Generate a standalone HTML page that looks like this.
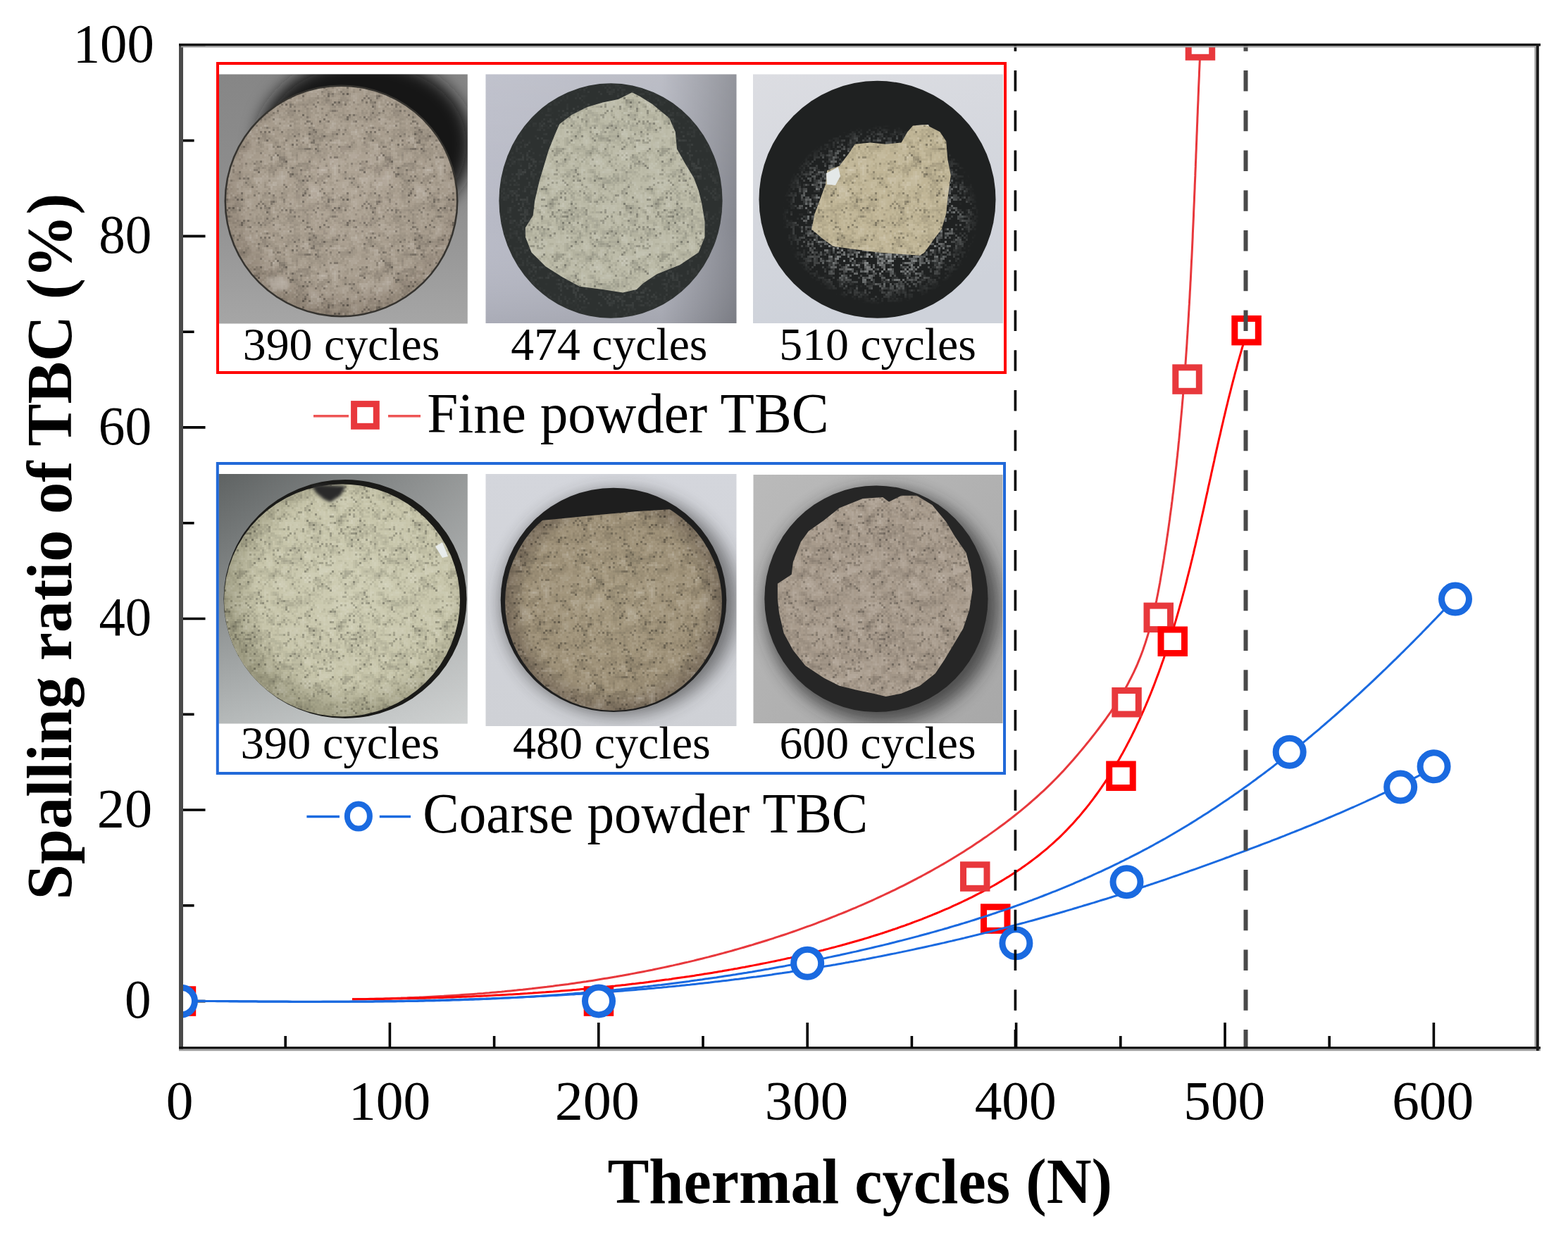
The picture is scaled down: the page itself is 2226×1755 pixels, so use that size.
<!DOCTYPE html>
<html><head><meta charset="utf-8"><title>Spalling ratio of TBC vs thermal cycles</title>
<style>
html,body{margin:0;padding:0;background:#fff;}
body{width:2226px;height:1755px;overflow:hidden;}
svg{display:block;}
text{font-family:"Liberation Serif","Times New Roman",serif;fill:#000;}
</style></head><body>
<svg xmlns="http://www.w3.org/2000/svg" width="2226" height="1755" viewBox="0 0 2226 1755">
<defs>
<clipPath id="plot"><rect x="259" y="66" width="1922" height="1420"/></clipPath>
<clipPath id="ph1"><rect x="310.5" y="105.5" width="353.3" height="354"/></clipPath>
<clipPath id="ph2"><rect x="689.5" y="105.5" width="356" height="353.5"/></clipPath>
<clipPath id="ph3"><rect x="1069" y="105.5" width="355" height="353.5"/></clipPath>
<clipPath id="pb1"><rect x="310.3" y="673" width="353.4" height="354.4"/></clipPath>
<clipPath id="pb2"><rect x="689.5" y="673" width="356" height="358"/></clipPath>
<clipPath id="pb3"><rect x="1069.5" y="674" width="354" height="353"/></clipPath>
<filter id="blur6" x="-50%" y="-50%" width="200%" height="200%"><feGaussianBlur stdDeviation="6"/></filter>
<filter id="blur12" x="-50%" y="-50%" width="200%" height="200%"><feGaussianBlur stdDeviation="12"/></filter>
<filter id="blur20" x="-50%" y="-50%" width="200%" height="200%"><feGaussianBlur stdDeviation="20"/></filter>
<filter id="blur2" x="-20%" y="-20%" width="140%" height="140%"><feGaussianBlur stdDeviation="2"/></filter>
<filter id="dots" x="0" y="0" width="100%" height="100%" color-interpolation-filters="sRGB">
  <feTurbulence type="fractalNoise" baseFrequency="0.23" numOctaves="1" seed="9" result="n"/>
  <feColorMatrix in="n" type="matrix" values="0 0 0 0 0.3  0 0 0 0 0.27  0 0 0 0 0.24  5 0 0 0 -2.95" result="m"/>
  <feComposite in="m" in2="SourceGraphic" operator="in"/>
</filter>
<filter id="ldots" x="0" y="0" width="100%" height="100%" color-interpolation-filters="sRGB">
  <feTurbulence type="fractalNoise" baseFrequency="0.2" numOctaves="1" seed="4" result="n"/>
  <feColorMatrix in="n" type="matrix" values="0 0 0 0 0.62  0 0 0 0 0.64  0 0 0 0 0.64  4.5 0 0 0 -2.4" result="m"/>
  <feComposite in="m" in2="SourceGraphic" operator="in"/>
</filter>
<pattern id="mottle" width="150" height="150" patternUnits="userSpaceOnUse">
<path fill="#000" fill-opacity="0.04" d="M18 0h3v3h-3zM72 0h3v3h-3zM120 0h3v3h-3zM123 0h3v3h-3zM129 0h3v3h-3zM18 3h3v3h-3zM21 3h3v3h-3zM24 3h3v3h-3zM36 3h3v3h-3zM66 3h3v3h-3zM72 3h3v3h-3zM75 3h3v3h-3zM84 3h3v3h-3zM93 3h3v3h-3zM99 3h3v3h-3zM102 3h3v3h-3zM111 3h3v3h-3zM114 3h3v3h-3zM117 3h3v3h-3zM129 3h3v3h-3zM132 3h3v3h-3zM138 3h3v3h-3zM15 6h3v3h-3zM36 6h3v3h-3zM42 6h3v3h-3zM69 6h3v3h-3zM75 6h3v3h-3zM81 6h3v3h-3zM84 6h3v3h-3zM126 6h3v3h-3zM129 6h3v3h-3zM138 6h3v3h-3zM147 6h3v3h-3zM0 9h3v3h-3zM12 9h3v3h-3zM21 9h3v3h-3zM30 9h3v3h-3zM33 9h3v3h-3zM36 9h3v3h-3zM57 9h3v3h-3zM66 9h3v3h-3zM81 9h3v3h-3zM84 9h3v3h-3zM90 9h3v3h-3zM102 9h3v3h-3zM123 9h3v3h-3zM129 9h3v3h-3zM132 9h3v3h-3zM138 9h3v3h-3zM141 9h3v3h-3zM147 9h3v3h-3zM15 12h3v3h-3zM27 12h3v3h-3zM30 12h3v3h-3zM48 12h3v3h-3zM57 12h3v3h-3zM63 12h3v3h-3zM66 12h3v3h-3zM78 12h3v3h-3zM87 12h3v3h-3zM96 12h3v3h-3zM105 12h3v3h-3zM117 12h3v3h-3zM120 12h3v3h-3zM138 12h3v3h-3zM0 15h3v3h-3zM6 15h3v3h-3zM15 15h3v3h-3zM18 15h3v3h-3zM36 15h3v3h-3zM39 15h3v3h-3zM48 15h3v3h-3zM57 15h3v3h-3zM96 15h3v3h-3zM99 15h3v3h-3zM102 15h3v3h-3zM105 15h3v3h-3zM114 15h3v3h-3zM117 15h3v3h-3zM120 15h3v3h-3zM123 15h3v3h-3zM132 15h3v3h-3zM36 18h3v3h-3zM45 18h3v3h-3zM48 18h3v3h-3zM51 18h3v3h-3zM57 18h3v3h-3zM60 18h3v3h-3zM63 18h3v3h-3zM66 18h3v3h-3zM72 18h3v3h-3zM78 18h3v3h-3zM123 18h3v3h-3zM129 18h3v3h-3zM132 18h3v3h-3zM135 18h3v3h-3zM39 21h3v3h-3zM42 21h3v3h-3zM45 21h3v3h-3zM66 21h3v3h-3zM75 21h3v3h-3zM81 21h3v3h-3zM117 21h3v3h-3zM141 21h3v3h-3zM6 24h3v3h-3zM9 24h3v3h-3zM120 24h3v3h-3zM123 24h3v3h-3zM0 27h3v3h-3zM33 27h3v3h-3zM42 27h3v3h-3zM117 27h3v3h-3zM141 27h3v3h-3zM39 30h3v3h-3zM42 30h3v3h-3zM57 30h3v3h-3zM72 30h3v3h-3zM90 30h3v3h-3zM117 30h3v3h-3zM120 30h3v3h-3zM123 30h3v3h-3zM132 30h3v3h-3zM135 30h3v3h-3zM3 33h3v3h-3zM36 33h3v3h-3zM66 33h3v3h-3zM96 33h3v3h-3zM111 33h3v3h-3zM120 33h3v3h-3zM126 33h3v3h-3zM132 33h3v3h-3zM135 33h3v3h-3zM138 33h3v3h-3zM0 36h3v3h-3zM3 36h3v3h-3zM6 36h3v3h-3zM27 36h3v3h-3zM42 36h3v3h-3zM105 36h3v3h-3zM108 36h3v3h-3zM111 36h3v3h-3zM123 36h3v3h-3zM129 36h3v3h-3zM135 36h3v3h-3zM0 39h3v3h-3zM9 39h3v3h-3zM12 39h3v3h-3zM15 39h3v3h-3zM18 39h3v3h-3zM30 39h3v3h-3zM42 39h3v3h-3zM45 39h3v3h-3zM63 39h3v3h-3zM78 39h3v3h-3zM96 39h3v3h-3zM99 39h3v3h-3zM117 39h3v3h-3zM3 42h3v3h-3zM24 42h3v3h-3zM27 42h3v3h-3zM48 42h3v3h-3zM81 42h3v3h-3zM84 42h3v3h-3zM90 42h3v3h-3zM102 42h3v3h-3zM105 42h3v3h-3zM114 42h3v3h-3zM120 42h3v3h-3zM138 42h3v3h-3zM12 45h3v3h-3zM15 45h3v3h-3zM18 45h3v3h-3zM45 45h3v3h-3zM48 45h3v3h-3zM60 45h3v3h-3zM78 45h3v3h-3zM84 45h3v3h-3zM87 45h3v3h-3zM105 45h3v3h-3zM111 45h3v3h-3zM114 45h3v3h-3zM0 48h3v3h-3zM12 48h3v3h-3zM15 48h3v3h-3zM21 48h3v3h-3zM33 48h3v3h-3zM36 48h3v3h-3zM45 48h3v3h-3zM51 48h3v3h-3zM66 48h3v3h-3zM69 48h3v3h-3zM72 48h3v3h-3zM87 48h3v3h-3zM90 48h3v3h-3zM93 48h3v3h-3zM108 48h3v3h-3zM114 48h3v3h-3zM123 48h3v3h-3zM0 51h3v3h-3zM3 51h3v3h-3zM15 51h3v3h-3zM69 51h3v3h-3zM87 51h3v3h-3zM99 51h3v3h-3zM123 51h3v3h-3zM138 51h3v3h-3zM147 51h3v3h-3zM21 54h3v3h-3zM27 54h3v3h-3zM39 54h3v3h-3zM51 54h3v3h-3zM54 54h3v3h-3zM63 54h3v3h-3zM72 54h3v3h-3zM87 54h3v3h-3zM93 54h3v3h-3zM111 54h3v3h-3zM144 54h3v3h-3zM9 57h3v3h-3zM51 57h3v3h-3zM54 57h3v3h-3zM72 57h3v3h-3zM129 57h3v3h-3zM132 57h3v3h-3zM135 57h3v3h-3zM141 57h3v3h-3zM3 60h3v3h-3zM9 60h3v3h-3zM48 60h3v3h-3zM51 60h3v3h-3zM63 60h3v3h-3zM66 60h3v3h-3zM78 60h3v3h-3zM99 60h3v3h-3zM117 60h3v3h-3zM6 63h3v3h-3zM9 63h3v3h-3zM12 63h3v3h-3zM21 63h3v3h-3zM27 63h3v3h-3zM36 63h3v3h-3zM39 63h3v3h-3zM45 63h3v3h-3zM48 63h3v3h-3zM63 63h3v3h-3zM66 63h3v3h-3zM69 63h3v3h-3zM72 63h3v3h-3zM90 63h3v3h-3zM93 63h3v3h-3zM111 63h3v3h-3zM114 63h3v3h-3zM117 63h3v3h-3zM120 63h3v3h-3zM123 63h3v3h-3zM129 63h3v3h-3zM138 63h3v3h-3zM144 63h3v3h-3zM3 66h3v3h-3zM12 66h3v3h-3zM15 66h3v3h-3zM21 66h3v3h-3zM24 66h3v3h-3zM30 66h3v3h-3zM93 66h3v3h-3zM99 66h3v3h-3zM114 66h3v3h-3zM117 66h3v3h-3zM126 66h3v3h-3zM135 66h3v3h-3zM141 66h3v3h-3zM0 69h3v3h-3zM6 69h3v3h-3zM9 69h3v3h-3zM12 69h3v3h-3zM24 69h3v3h-3zM27 69h3v3h-3zM33 69h3v3h-3zM36 69h3v3h-3zM42 69h3v3h-3zM99 69h3v3h-3zM117 69h3v3h-3zM138 69h3v3h-3zM141 69h3v3h-3zM144 69h3v3h-3zM147 69h3v3h-3zM0 72h3v3h-3zM3 72h3v3h-3zM9 72h3v3h-3zM30 72h3v3h-3zM33 72h3v3h-3zM42 72h3v3h-3zM135 72h3v3h-3zM144 72h3v3h-3zM3 75h3v3h-3zM108 75h3v3h-3zM111 75h3v3h-3zM114 75h3v3h-3zM141 75h3v3h-3zM57 78h3v3h-3zM66 78h3v3h-3zM93 78h3v3h-3zM132 78h3v3h-3zM12 81h3v3h-3zM42 81h3v3h-3zM54 81h3v3h-3zM69 81h3v3h-3zM81 81h3v3h-3zM84 81h3v3h-3zM90 81h3v3h-3zM96 81h3v3h-3zM39 84h3v3h-3zM42 84h3v3h-3zM48 84h3v3h-3zM63 84h3v3h-3zM66 84h3v3h-3zM78 84h3v3h-3zM87 84h3v3h-3zM90 84h3v3h-3zM102 84h3v3h-3zM105 84h3v3h-3zM111 84h3v3h-3zM117 84h3v3h-3zM138 84h3v3h-3zM144 84h3v3h-3zM42 87h3v3h-3zM60 87h3v3h-3zM69 87h3v3h-3zM93 87h3v3h-3zM120 87h3v3h-3zM123 87h3v3h-3zM129 87h3v3h-3zM144 87h3v3h-3zM147 87h3v3h-3zM78 90h3v3h-3zM111 90h3v3h-3zM123 90h3v3h-3zM135 90h3v3h-3zM15 93h3v3h-3zM75 93h3v3h-3zM138 93h3v3h-3zM15 96h3v3h-3zM33 96h3v3h-3zM42 96h3v3h-3zM48 96h3v3h-3zM51 96h3v3h-3zM57 96h3v3h-3zM60 96h3v3h-3zM81 96h3v3h-3zM123 96h3v3h-3zM141 96h3v3h-3zM3 99h3v3h-3zM9 99h3v3h-3zM18 99h3v3h-3zM36 99h3v3h-3zM42 99h3v3h-3zM81 99h3v3h-3zM87 99h3v3h-3zM126 99h3v3h-3zM129 99h3v3h-3zM141 99h3v3h-3zM144 99h3v3h-3zM18 102h3v3h-3zM36 102h3v3h-3zM42 102h3v3h-3zM117 102h3v3h-3zM126 102h3v3h-3zM129 102h3v3h-3zM144 102h3v3h-3zM3 105h3v3h-3zM30 105h3v3h-3zM48 105h3v3h-3zM54 105h3v3h-3zM120 105h3v3h-3zM138 105h3v3h-3zM141 105h3v3h-3zM144 105h3v3h-3zM0 108h3v3h-3zM3 108h3v3h-3zM12 108h3v3h-3zM18 108h3v3h-3zM21 108h3v3h-3zM45 108h3v3h-3zM51 108h3v3h-3zM66 108h3v3h-3zM75 108h3v3h-3zM18 111h3v3h-3zM24 111h3v3h-3zM45 111h3v3h-3zM48 111h3v3h-3zM54 111h3v3h-3zM60 111h3v3h-3zM123 111h3v3h-3zM42 114h3v3h-3zM48 114h3v3h-3zM54 114h3v3h-3zM78 114h3v3h-3zM132 114h3v3h-3zM135 114h3v3h-3zM27 117h3v3h-3zM36 117h3v3h-3zM108 117h3v3h-3zM114 117h3v3h-3zM117 117h3v3h-3zM126 117h3v3h-3zM132 117h3v3h-3zM21 120h3v3h-3zM60 120h3v3h-3zM78 120h3v3h-3zM90 120h3v3h-3zM96 120h3v3h-3zM102 120h3v3h-3zM105 120h3v3h-3zM108 120h3v3h-3zM114 120h3v3h-3zM123 120h3v3h-3zM126 120h3v3h-3zM129 120h3v3h-3zM135 120h3v3h-3zM18 123h3v3h-3zM60 123h3v3h-3zM78 123h3v3h-3zM105 123h3v3h-3zM117 123h3v3h-3zM123 123h3v3h-3zM135 123h3v3h-3zM9 126h3v3h-3zM15 126h3v3h-3zM27 126h3v3h-3zM39 126h3v3h-3zM51 126h3v3h-3zM78 126h3v3h-3zM84 126h3v3h-3zM99 126h3v3h-3zM102 126h3v3h-3zM126 126h3v3h-3zM12 129h3v3h-3zM30 129h3v3h-3zM36 129h3v3h-3zM72 129h3v3h-3zM75 129h3v3h-3zM78 129h3v3h-3zM81 129h3v3h-3zM84 129h3v3h-3zM102 129h3v3h-3zM105 129h3v3h-3zM117 129h3v3h-3zM126 129h3v3h-3zM12 132h3v3h-3zM24 132h3v3h-3zM27 132h3v3h-3zM33 132h3v3h-3zM69 132h3v3h-3zM72 132h3v3h-3zM84 132h3v3h-3zM90 132h3v3h-3zM99 132h3v3h-3zM120 132h3v3h-3zM123 132h3v3h-3zM129 132h3v3h-3zM132 132h3v3h-3zM12 135h3v3h-3zM18 135h3v3h-3zM24 135h3v3h-3zM33 135h3v3h-3zM39 135h3v3h-3zM45 135h3v3h-3zM75 135h3v3h-3zM78 135h3v3h-3zM81 135h3v3h-3zM123 135h3v3h-3zM3 138h3v3h-3zM9 138h3v3h-3zM42 138h3v3h-3zM78 138h3v3h-3zM102 138h3v3h-3zM123 138h3v3h-3zM126 138h3v3h-3zM129 138h3v3h-3zM138 138h3v3h-3zM141 138h3v3h-3zM144 138h3v3h-3zM6 141h3v3h-3zM45 141h3v3h-3zM69 141h3v3h-3zM78 141h3v3h-3zM81 141h3v3h-3zM84 141h3v3h-3zM90 141h3v3h-3zM96 141h3v3h-3zM135 141h3v3h-3zM141 141h3v3h-3zM147 141h3v3h-3zM9 144h3v3h-3zM42 144h3v3h-3zM96 144h3v3h-3zM108 144h3v3h-3zM123 144h3v3h-3zM126 144h3v3h-3zM129 144h3v3h-3zM132 144h3v3h-3zM135 144h3v3h-3zM144 144h3v3h-3zM3 147h3v3h-3zM6 147h3v3h-3zM15 147h3v3h-3zM36 147h3v3h-3zM45 147h3v3h-3zM60 147h3v3h-3zM69 147h3v3h-3zM75 147h3v3h-3zM90 147h3v3h-3zM93 147h3v3h-3zM117 147h3v3h-3zM120 147h3v3h-3zM138 147h3v3h-3zM141 147h3v3h-3z"/>
<path fill="#000" fill-opacity="0.08" d="M21 0h3v3h-3zM30 0h3v3h-3zM33 0h3v3h-3zM96 0h3v3h-3zM108 3h3v3h-3zM141 3h3v3h-3zM63 6h3v3h-3zM78 6h3v3h-3zM105 6h3v3h-3zM108 6h3v3h-3zM135 6h3v3h-3zM6 9h3v3h-3zM15 9h3v3h-3zM63 9h3v3h-3zM69 9h3v3h-3zM75 9h3v3h-3zM93 9h3v3h-3zM111 9h3v3h-3zM114 9h3v3h-3zM117 9h3v3h-3zM135 9h3v3h-3zM24 12h3v3h-3zM39 12h3v3h-3zM54 12h3v3h-3zM81 12h3v3h-3zM108 12h3v3h-3zM111 12h3v3h-3zM135 12h3v3h-3zM30 15h3v3h-3zM33 15h3v3h-3zM75 15h3v3h-3zM78 15h3v3h-3zM111 15h3v3h-3zM126 15h3v3h-3zM138 15h3v3h-3zM102 18h3v3h-3zM117 18h3v3h-3zM120 18h3v3h-3zM12 21h3v3h-3zM33 21h3v3h-3zM69 21h3v3h-3zM111 21h3v3h-3zM114 21h3v3h-3zM3 24h3v3h-3zM117 24h3v3h-3zM9 27h3v3h-3zM54 27h3v3h-3zM9 30h3v3h-3zM12 30h3v3h-3zM75 30h3v3h-3zM81 30h3v3h-3zM87 30h3v3h-3zM93 30h3v3h-3zM144 30h3v3h-3zM0 33h3v3h-3zM6 33h3v3h-3zM27 33h3v3h-3zM93 33h3v3h-3zM108 33h3v3h-3zM114 33h3v3h-3zM117 33h3v3h-3zM123 33h3v3h-3zM141 33h3v3h-3zM9 36h3v3h-3zM21 36h3v3h-3zM24 36h3v3h-3zM30 36h3v3h-3zM39 36h3v3h-3zM117 36h3v3h-3zM120 36h3v3h-3zM3 39h3v3h-3zM69 39h3v3h-3zM108 39h3v3h-3zM120 39h3v3h-3zM135 39h3v3h-3zM144 39h3v3h-3zM15 42h3v3h-3zM18 42h3v3h-3zM78 42h3v3h-3zM108 42h3v3h-3zM111 42h3v3h-3zM123 42h3v3h-3zM141 42h3v3h-3zM147 42h3v3h-3zM9 45h3v3h-3zM21 45h3v3h-3zM24 45h3v3h-3zM27 45h3v3h-3zM69 45h3v3h-3zM72 45h3v3h-3zM108 45h3v3h-3zM141 45h3v3h-3zM84 48h3v3h-3zM141 48h3v3h-3zM147 48h3v3h-3zM48 51h3v3h-3zM93 51h3v3h-3zM102 51h3v3h-3zM3 54h3v3h-3zM42 54h3v3h-3zM66 54h3v3h-3zM69 54h3v3h-3zM90 54h3v3h-3zM102 54h3v3h-3zM126 54h3v3h-3zM135 54h3v3h-3zM33 57h3v3h-3zM36 57h3v3h-3zM39 57h3v3h-3zM48 57h3v3h-3zM69 57h3v3h-3zM114 57h3v3h-3zM123 57h3v3h-3zM126 57h3v3h-3zM6 60h3v3h-3zM12 60h3v3h-3zM18 60h3v3h-3zM27 60h3v3h-3zM33 60h3v3h-3zM36 60h3v3h-3zM39 60h3v3h-3zM42 60h3v3h-3zM45 60h3v3h-3zM90 60h3v3h-3zM120 60h3v3h-3zM33 63h3v3h-3zM96 63h3v3h-3zM126 63h3v3h-3zM132 63h3v3h-3zM147 63h3v3h-3zM0 66h3v3h-3zM9 66h3v3h-3zM36 66h3v3h-3zM96 66h3v3h-3zM102 66h3v3h-3zM120 66h3v3h-3zM138 66h3v3h-3zM3 69h3v3h-3zM81 69h3v3h-3zM87 69h3v3h-3zM96 69h3v3h-3zM102 69h3v3h-3zM114 69h3v3h-3zM6 72h3v3h-3zM105 72h3v3h-3zM120 72h3v3h-3zM141 72h3v3h-3zM39 75h3v3h-3zM105 75h3v3h-3zM120 75h3v3h-3zM138 75h3v3h-3zM3 78h3v3h-3zM99 78h3v3h-3zM63 81h3v3h-3zM66 81h3v3h-3zM93 81h3v3h-3zM102 81h3v3h-3zM126 81h3v3h-3zM138 81h3v3h-3zM69 84h3v3h-3zM75 84h3v3h-3zM129 84h3v3h-3zM132 84h3v3h-3zM141 84h3v3h-3zM63 87h3v3h-3zM75 87h3v3h-3zM81 87h3v3h-3zM87 87h3v3h-3zM90 87h3v3h-3zM99 87h3v3h-3zM132 87h3v3h-3zM138 87h3v3h-3zM15 90h3v3h-3zM66 90h3v3h-3zM84 90h3v3h-3zM87 90h3v3h-3zM114 90h3v3h-3zM117 90h3v3h-3zM120 90h3v3h-3zM129 90h3v3h-3zM138 90h3v3h-3zM81 93h3v3h-3zM84 93h3v3h-3zM117 93h3v3h-3zM120 93h3v3h-3zM126 93h3v3h-3zM9 96h3v3h-3zM12 96h3v3h-3zM18 96h3v3h-3zM36 96h3v3h-3zM39 96h3v3h-3zM6 99h3v3h-3zM12 99h3v3h-3zM39 99h3v3h-3zM48 99h3v3h-3zM57 99h3v3h-3zM114 99h3v3h-3zM120 99h3v3h-3zM123 99h3v3h-3zM0 102h3v3h-3zM3 102h3v3h-3zM6 102h3v3h-3zM9 102h3v3h-3zM123 102h3v3h-3zM132 102h3v3h-3zM135 102h3v3h-3zM51 105h3v3h-3zM132 105h3v3h-3zM54 108h3v3h-3zM117 108h3v3h-3zM123 108h3v3h-3zM129 108h3v3h-3zM132 108h3v3h-3zM3 111h3v3h-3zM57 111h3v3h-3zM75 111h3v3h-3zM126 111h3v3h-3zM63 114h3v3h-3zM75 114h3v3h-3zM120 114h3v3h-3zM123 114h3v3h-3zM126 114h3v3h-3zM81 117h3v3h-3zM102 117h3v3h-3zM63 120h3v3h-3zM15 123h3v3h-3zM102 123h3v3h-3zM120 123h3v3h-3zM36 126h3v3h-3zM42 126h3v3h-3zM72 126h3v3h-3zM75 126h3v3h-3zM105 126h3v3h-3zM120 126h3v3h-3zM123 126h3v3h-3zM132 126h3v3h-3zM9 129h3v3h-3zM18 129h3v3h-3zM39 129h3v3h-3zM42 129h3v3h-3zM51 129h3v3h-3zM90 129h3v3h-3zM96 129h3v3h-3zM120 129h3v3h-3zM123 129h3v3h-3zM6 132h3v3h-3zM30 132h3v3h-3zM39 132h3v3h-3zM45 132h3v3h-3zM87 132h3v3h-3zM0 135h3v3h-3zM36 135h3v3h-3zM6 138h3v3h-3zM15 138h3v3h-3zM33 138h3v3h-3zM36 138h3v3h-3zM39 138h3v3h-3zM75 138h3v3h-3zM87 138h3v3h-3zM147 138h3v3h-3zM9 141h3v3h-3zM18 141h3v3h-3zM30 141h3v3h-3zM36 141h3v3h-3zM39 141h3v3h-3zM129 141h3v3h-3zM138 141h3v3h-3zM144 141h3v3h-3zM6 144h3v3h-3zM15 144h3v3h-3zM18 144h3v3h-3zM33 144h3v3h-3zM63 144h3v3h-3zM102 144h3v3h-3zM111 144h3v3h-3zM138 144h3v3h-3zM141 144h3v3h-3zM9 147h3v3h-3zM18 147h3v3h-3zM57 147h3v3h-3zM81 147h3v3h-3zM123 147h3v3h-3zM126 147h3v3h-3zM132 147h3v3h-3z"/>
<path fill="#000" fill-opacity="0.12" d="M24 0h3v3h-3zM81 0h3v3h-3zM132 0h3v3h-3zM54 3h3v3h-3zM81 3h3v3h-3zM135 3h3v3h-3zM18 6h3v3h-3zM27 6h3v3h-3zM111 6h3v3h-3zM114 6h3v3h-3zM108 9h3v3h-3zM36 12h3v3h-3zM75 12h3v3h-3zM84 12h3v3h-3zM114 12h3v3h-3zM45 15h3v3h-3zM60 15h3v3h-3zM72 15h3v3h-3zM81 15h3v3h-3zM39 18h3v3h-3zM51 21h3v3h-3zM96 24h3v3h-3zM141 30h3v3h-3zM147 33h3v3h-3zM141 36h3v3h-3zM6 39h3v3h-3zM24 39h3v3h-3zM72 39h3v3h-3zM75 39h3v3h-3zM114 39h3v3h-3zM147 39h3v3h-3zM0 42h3v3h-3zM12 42h3v3h-3zM21 42h3v3h-3zM72 42h3v3h-3zM75 42h3v3h-3zM129 42h3v3h-3zM0 45h3v3h-3zM6 45h3v3h-3zM75 45h3v3h-3zM81 45h3v3h-3zM144 45h3v3h-3zM147 45h3v3h-3zM3 48h3v3h-3zM6 48h3v3h-3zM75 48h3v3h-3zM51 51h3v3h-3zM90 51h3v3h-3zM48 54h3v3h-3zM147 54h3v3h-3zM0 57h3v3h-3zM42 57h3v3h-3zM0 60h3v3h-3zM102 60h3v3h-3zM123 60h3v3h-3zM126 60h3v3h-3zM129 60h3v3h-3zM141 60h3v3h-3zM3 63h3v3h-3zM147 66h3v3h-3zM120 69h3v3h-3zM63 78h3v3h-3zM96 78h3v3h-3zM105 81h3v3h-3zM123 81h3v3h-3zM129 81h3v3h-3zM132 81h3v3h-3zM135 81h3v3h-3zM84 84h3v3h-3zM93 84h3v3h-3zM120 84h3v3h-3zM123 84h3v3h-3zM126 84h3v3h-3zM135 84h3v3h-3zM72 87h3v3h-3zM84 87h3v3h-3zM111 87h3v3h-3zM117 87h3v3h-3zM135 87h3v3h-3zM30 90h3v3h-3zM81 90h3v3h-3zM132 90h3v3h-3zM30 93h3v3h-3zM87 93h3v3h-3zM114 93h3v3h-3zM0 96h3v3h-3zM87 96h3v3h-3zM117 96h3v3h-3zM126 96h3v3h-3zM117 99h3v3h-3zM48 102h3v3h-3zM120 102h3v3h-3zM141 102h3v3h-3zM0 105h3v3h-3zM6 105h3v3h-3zM81 105h3v3h-3zM126 105h3v3h-3zM126 108h3v3h-3zM51 111h3v3h-3zM120 111h3v3h-3zM129 111h3v3h-3zM123 117h3v3h-3zM129 117h3v3h-3zM21 123h3v3h-3zM75 123h3v3h-3zM129 123h3v3h-3zM12 126h3v3h-3zM15 129h3v3h-3zM87 129h3v3h-3zM99 129h3v3h-3zM18 132h3v3h-3zM9 135h3v3h-3zM21 135h3v3h-3zM90 135h3v3h-3zM0 138h3v3h-3zM12 138h3v3h-3zM33 141h3v3h-3zM42 141h3v3h-3zM12 144h3v3h-3zM27 144h3v3h-3zM39 144h3v3h-3zM51 144h3v3h-3zM27 147h3v3h-3zM30 147h3v3h-3zM33 147h3v3h-3zM78 147h3v3h-3zM129 147h3v3h-3zM135 147h3v3h-3z"/>
<path fill="#000" fill-opacity="0.16" d="M117 0h3v3h-3zM6 3h3v3h-3zM75 18h3v3h-3zM132 24h3v3h-3zM63 27h3v3h-3zM138 36h3v3h-3zM144 36h3v3h-3zM21 39h3v3h-3zM141 39h3v3h-3zM6 42h3v3h-3zM144 42h3v3h-3zM3 45h3v3h-3zM138 45h3v3h-3zM66 51h3v3h-3zM129 51h3v3h-3zM0 54h3v3h-3zM87 57h3v3h-3zM90 66h3v3h-3zM84 72h3v3h-3zM99 72h3v3h-3zM102 72h3v3h-3zM84 75h3v3h-3zM96 75h3v3h-3zM99 81h3v3h-3zM12 84h3v3h-3zM30 84h3v3h-3zM96 84h3v3h-3zM99 84h3v3h-3zM66 87h3v3h-3zM105 87h3v3h-3zM90 90h3v3h-3zM120 96h3v3h-3zM27 105h3v3h-3zM123 105h3v3h-3zM3 120h3v3h-3zM120 120h3v3h-3zM66 123h3v3h-3zM6 129h3v3h-3zM102 135h3v3h-3zM111 138h3v3h-3zM12 141h3v3h-3zM15 141h3v3h-3zM75 144h3v3h-3zM78 144h3v3h-3zM114 147h3v3h-3z"/>
<path fill="#000" fill-opacity="0.20" d="M147 0h3v3h-3zM123 6h3v3h-3zM87 9h3v3h-3zM87 18h3v3h-3zM138 21h3v3h-3zM111 27h3v3h-3zM138 30h3v3h-3zM30 33h3v3h-3zM39 33h3v3h-3zM87 33h3v3h-3zM123 39h3v3h-3zM18 48h3v3h-3zM12 54h3v3h-3zM120 54h3v3h-3zM18 57h3v3h-3zM96 57h3v3h-3zM69 66h3v3h-3zM18 72h3v3h-3zM96 72h3v3h-3zM9 75h3v3h-3zM99 75h3v3h-3zM102 78h3v3h-3zM48 81h3v3h-3zM60 81h3v3h-3zM0 87h3v3h-3zM60 90h3v3h-3zM63 90h3v3h-3zM108 93h3v3h-3zM132 99h3v3h-3zM102 111h3v3h-3zM6 117h3v3h-3zM21 117h3v3h-3zM132 120h3v3h-3zM99 123h3v3h-3zM33 129h3v3h-3zM102 132h3v3h-3zM69 135h3v3h-3zM99 147h3v3h-3zM144 147h3v3h-3z"/>
<path fill="#000" fill-opacity="0.24" d="M111 0h3v3h-3zM21 6h3v3h-3zM24 6h3v3h-3zM93 6h3v3h-3zM12 12h3v3h-3zM135 15h3v3h-3zM69 18h3v3h-3zM15 21h3v3h-3zM54 21h3v3h-3zM141 24h3v3h-3zM78 30h3v3h-3zM69 36h3v3h-3zM99 36h3v3h-3zM36 39h3v3h-3zM105 48h3v3h-3zM120 48h3v3h-3zM30 57h3v3h-3zM132 60h3v3h-3zM0 63h3v3h-3zM24 72h3v3h-3zM27 72h3v3h-3zM102 75h3v3h-3zM39 93h3v3h-3zM111 99h3v3h-3zM39 102h3v3h-3zM45 102h3v3h-3zM9 108h3v3h-3zM48 108h3v3h-3zM147 108h3v3h-3zM135 117h3v3h-3zM60 126h3v3h-3zM87 126h3v3h-3zM138 126h3v3h-3zM21 132h3v3h-3zM84 135h3v3h-3zM66 138h3v3h-3zM72 138h3v3h-3zM84 138h3v3h-3zM63 141h3v3h-3zM75 141h3v3h-3zM0 144h3v3h-3zM111 147h3v3h-3z"/>
<path fill="#000" fill-opacity="0.28" d="M117 6h3v3h-3zM78 9h3v3h-3zM45 12h3v3h-3zM51 12h3v3h-3zM66 15h3v3h-3zM9 18h3v3h-3zM135 21h3v3h-3zM144 33h3v3h-3zM75 36h3v3h-3zM81 36h3v3h-3zM147 36h3v3h-3zM117 42h3v3h-3zM66 45h3v3h-3zM144 48h3v3h-3zM141 51h3v3h-3zM144 51h3v3h-3zM45 57h3v3h-3zM93 57h3v3h-3zM135 60h3v3h-3zM138 60h3v3h-3zM69 78h3v3h-3zM138 78h3v3h-3zM126 90h3v3h-3zM111 96h3v3h-3zM15 99h3v3h-3zM138 99h3v3h-3zM51 102h3v3h-3zM135 105h3v3h-3zM57 114h3v3h-3zM105 114h3v3h-3zM9 123h3v3h-3zM42 123h3v3h-3zM81 123h3v3h-3zM15 132h3v3h-3zM129 135h3v3h-3zM69 144h3v3h-3zM81 144h3v3h-3zM39 147h3v3h-3zM105 147h3v3h-3z"/>
<path fill="#000" fill-opacity="0.32" d="M78 0h3v3h-3zM129 12h3v3h-3zM42 15h3v3h-3zM42 18h3v3h-3zM3 21h3v3h-3zM27 39h3v3h-3zM78 48h3v3h-3zM114 54h3v3h-3zM147 60h3v3h-3zM93 69h3v3h-3zM114 87h3v3h-3zM66 93h3v3h-3zM132 123h3v3h-3zM36 132h3v3h-3zM15 135h3v3h-3zM87 135h3v3h-3zM24 144h3v3h-3zM21 147h3v3h-3z"/>
<path fill="#000" fill-opacity="0.36" d="M138 39h3v3h-3zM9 42h3v3h-3zM105 78h3v3h-3zM114 96h3v3h-3zM129 105h3v3h-3zM129 126h3v3h-3zM30 144h3v3h-3z"/>
<path fill="#000" fill-opacity="0.40" d="M42 132h3v3h-3z"/>
<path fill="#fff" fill-opacity="0.04" d="M3 0h3v3h-3zM6 0h3v3h-3zM9 0h3v3h-3zM54 0h3v3h-3zM57 0h3v3h-3zM66 0h3v3h-3zM75 0h3v3h-3zM93 0h3v3h-3zM144 0h3v3h-3zM12 3h3v3h-3zM15 3h3v3h-3zM45 3h3v3h-3zM48 3h3v3h-3zM60 3h3v3h-3zM69 3h3v3h-3zM90 3h3v3h-3zM3 6h3v3h-3zM9 6h3v3h-3zM12 6h3v3h-3zM48 6h3v3h-3zM51 6h3v3h-3zM60 6h3v3h-3zM72 6h3v3h-3zM87 6h3v3h-3zM3 9h3v3h-3zM18 9h3v3h-3zM51 9h3v3h-3zM96 9h3v3h-3zM99 9h3v3h-3zM105 9h3v3h-3zM144 9h3v3h-3zM3 12h3v3h-3zM21 12h3v3h-3zM33 12h3v3h-3zM90 12h3v3h-3zM93 12h3v3h-3zM99 12h3v3h-3zM123 12h3v3h-3zM12 15h3v3h-3zM21 15h3v3h-3zM69 15h3v3h-3zM90 15h3v3h-3zM93 15h3v3h-3zM144 15h3v3h-3zM147 15h3v3h-3zM12 18h3v3h-3zM15 18h3v3h-3zM27 18h3v3h-3zM54 18h3v3h-3zM108 18h3v3h-3zM126 18h3v3h-3zM138 18h3v3h-3zM24 21h3v3h-3zM30 21h3v3h-3zM48 21h3v3h-3zM63 21h3v3h-3zM96 21h3v3h-3zM120 21h3v3h-3zM126 21h3v3h-3zM129 21h3v3h-3zM132 21h3v3h-3zM147 21h3v3h-3zM12 24h3v3h-3zM15 24h3v3h-3zM18 24h3v3h-3zM27 24h3v3h-3zM33 24h3v3h-3zM36 24h3v3h-3zM39 24h3v3h-3zM54 24h3v3h-3zM60 24h3v3h-3zM63 24h3v3h-3zM69 24h3v3h-3zM75 24h3v3h-3zM93 24h3v3h-3zM99 24h3v3h-3zM105 24h3v3h-3zM111 24h3v3h-3zM24 27h3v3h-3zM36 27h3v3h-3zM48 27h3v3h-3zM51 27h3v3h-3zM72 27h3v3h-3zM93 27h3v3h-3zM99 27h3v3h-3zM114 27h3v3h-3zM138 27h3v3h-3zM30 30h3v3h-3zM33 30h3v3h-3zM48 30h3v3h-3zM51 30h3v3h-3zM63 30h3v3h-3zM96 30h3v3h-3zM105 30h3v3h-3zM108 30h3v3h-3zM111 30h3v3h-3zM114 30h3v3h-3zM126 30h3v3h-3zM9 33h3v3h-3zM15 33h3v3h-3zM18 33h3v3h-3zM21 33h3v3h-3zM24 33h3v3h-3zM48 33h3v3h-3zM60 33h3v3h-3zM69 33h3v3h-3zM72 33h3v3h-3zM12 36h3v3h-3zM57 36h3v3h-3zM60 36h3v3h-3zM87 36h3v3h-3zM96 36h3v3h-3zM102 36h3v3h-3zM33 39h3v3h-3zM84 39h3v3h-3zM126 39h3v3h-3zM132 39h3v3h-3zM33 42h3v3h-3zM42 42h3v3h-3zM51 42h3v3h-3zM126 42h3v3h-3zM132 42h3v3h-3zM135 42h3v3h-3zM54 45h3v3h-3zM90 45h3v3h-3zM93 45h3v3h-3zM96 45h3v3h-3zM129 45h3v3h-3zM9 48h3v3h-3zM24 48h3v3h-3zM42 48h3v3h-3zM99 48h3v3h-3zM111 48h3v3h-3zM36 51h3v3h-3zM57 51h3v3h-3zM60 51h3v3h-3zM72 51h3v3h-3zM96 51h3v3h-3zM111 51h3v3h-3zM117 51h3v3h-3zM15 54h3v3h-3zM33 54h3v3h-3zM36 54h3v3h-3zM57 54h3v3h-3zM60 54h3v3h-3zM108 54h3v3h-3zM3 57h3v3h-3zM12 57h3v3h-3zM27 57h3v3h-3zM75 57h3v3h-3zM102 57h3v3h-3zM105 57h3v3h-3zM108 57h3v3h-3zM117 57h3v3h-3zM15 60h3v3h-3zM21 60h3v3h-3zM30 60h3v3h-3zM57 60h3v3h-3zM72 60h3v3h-3zM96 60h3v3h-3zM24 63h3v3h-3zM30 63h3v3h-3zM51 63h3v3h-3zM54 63h3v3h-3zM60 63h3v3h-3zM75 63h3v3h-3zM78 63h3v3h-3zM84 63h3v3h-3zM108 63h3v3h-3zM33 66h3v3h-3zM42 66h3v3h-3zM45 66h3v3h-3zM48 66h3v3h-3zM54 66h3v3h-3zM78 66h3v3h-3zM81 66h3v3h-3zM105 66h3v3h-3zM129 66h3v3h-3zM144 66h3v3h-3zM18 69h3v3h-3zM30 69h3v3h-3zM69 69h3v3h-3zM84 69h3v3h-3zM108 69h3v3h-3zM111 69h3v3h-3zM126 69h3v3h-3zM129 69h3v3h-3zM132 69h3v3h-3zM21 72h3v3h-3zM39 72h3v3h-3zM45 72h3v3h-3zM69 72h3v3h-3zM75 72h3v3h-3zM78 72h3v3h-3zM81 72h3v3h-3zM93 72h3v3h-3zM108 72h3v3h-3zM126 72h3v3h-3zM6 75h3v3h-3zM15 75h3v3h-3zM30 75h3v3h-3zM33 75h3v3h-3zM42 75h3v3h-3zM45 75h3v3h-3zM57 75h3v3h-3zM60 75h3v3h-3zM63 75h3v3h-3zM66 75h3v3h-3zM69 75h3v3h-3zM78 75h3v3h-3zM81 75h3v3h-3zM93 75h3v3h-3zM117 75h3v3h-3zM123 75h3v3h-3zM6 78h3v3h-3zM9 78h3v3h-3zM12 78h3v3h-3zM15 78h3v3h-3zM30 78h3v3h-3zM42 78h3v3h-3zM45 78h3v3h-3zM48 78h3v3h-3zM51 78h3v3h-3zM54 78h3v3h-3zM60 78h3v3h-3zM78 78h3v3h-3zM84 78h3v3h-3zM108 78h3v3h-3zM114 78h3v3h-3zM123 78h3v3h-3zM129 78h3v3h-3zM147 78h3v3h-3zM6 81h3v3h-3zM9 81h3v3h-3zM30 81h3v3h-3zM36 81h3v3h-3zM45 81h3v3h-3zM72 81h3v3h-3zM87 81h3v3h-3zM114 81h3v3h-3zM117 81h3v3h-3zM141 81h3v3h-3zM144 81h3v3h-3zM6 84h3v3h-3zM33 84h3v3h-3zM36 84h3v3h-3zM45 84h3v3h-3zM51 84h3v3h-3zM57 84h3v3h-3zM108 84h3v3h-3zM3 87h3v3h-3zM15 87h3v3h-3zM18 87h3v3h-3zM30 87h3v3h-3zM33 87h3v3h-3zM51 87h3v3h-3zM54 87h3v3h-3zM102 87h3v3h-3zM126 87h3v3h-3zM18 90h3v3h-3zM42 90h3v3h-3zM45 90h3v3h-3zM48 90h3v3h-3zM57 90h3v3h-3zM72 90h3v3h-3zM102 90h3v3h-3zM108 90h3v3h-3zM21 93h3v3h-3zM72 93h3v3h-3zM78 93h3v3h-3zM102 93h3v3h-3zM141 93h3v3h-3zM30 96h3v3h-3zM78 96h3v3h-3zM84 96h3v3h-3zM102 96h3v3h-3zM132 96h3v3h-3zM144 96h3v3h-3zM147 96h3v3h-3zM21 99h3v3h-3zM24 99h3v3h-3zM45 99h3v3h-3zM51 99h3v3h-3zM66 99h3v3h-3zM75 99h3v3h-3zM90 99h3v3h-3zM135 99h3v3h-3zM15 102h3v3h-3zM21 102h3v3h-3zM27 102h3v3h-3zM30 102h3v3h-3zM81 102h3v3h-3zM105 102h3v3h-3zM9 105h3v3h-3zM21 105h3v3h-3zM24 105h3v3h-3zM39 105h3v3h-3zM42 105h3v3h-3zM45 105h3v3h-3zM75 105h3v3h-3zM78 105h3v3h-3zM87 105h3v3h-3zM90 105h3v3h-3zM108 105h3v3h-3zM147 105h3v3h-3zM27 108h3v3h-3zM30 108h3v3h-3zM33 108h3v3h-3zM72 108h3v3h-3zM84 108h3v3h-3zM102 108h3v3h-3zM114 108h3v3h-3zM135 108h3v3h-3zM138 108h3v3h-3zM141 108h3v3h-3zM15 111h3v3h-3zM30 111h3v3h-3zM33 111h3v3h-3zM39 111h3v3h-3zM63 111h3v3h-3zM69 111h3v3h-3zM72 111h3v3h-3zM93 111h3v3h-3zM144 111h3v3h-3zM147 111h3v3h-3zM6 114h3v3h-3zM9 114h3v3h-3zM15 114h3v3h-3zM18 114h3v3h-3zM33 114h3v3h-3zM72 114h3v3h-3zM87 114h3v3h-3zM90 114h3v3h-3zM93 114h3v3h-3zM96 114h3v3h-3zM3 117h3v3h-3zM18 117h3v3h-3zM24 117h3v3h-3zM45 117h3v3h-3zM48 117h3v3h-3zM66 117h3v3h-3zM69 117h3v3h-3zM72 117h3v3h-3zM75 117h3v3h-3zM78 117h3v3h-3zM87 117h3v3h-3zM99 117h3v3h-3zM105 117h3v3h-3zM120 117h3v3h-3zM12 120h3v3h-3zM15 120h3v3h-3zM42 120h3v3h-3zM45 120h3v3h-3zM66 120h3v3h-3zM81 120h3v3h-3zM84 120h3v3h-3zM87 120h3v3h-3zM99 120h3v3h-3zM117 120h3v3h-3zM138 120h3v3h-3zM6 123h3v3h-3zM33 123h3v3h-3zM39 123h3v3h-3zM84 123h3v3h-3zM93 123h3v3h-3zM114 123h3v3h-3zM63 126h3v3h-3zM69 126h3v3h-3zM81 126h3v3h-3zM90 126h3v3h-3zM111 126h3v3h-3zM135 126h3v3h-3zM0 129h3v3h-3zM3 129h3v3h-3zM69 129h3v3h-3zM3 132h3v3h-3zM48 132h3v3h-3zM51 132h3v3h-3zM57 132h3v3h-3zM60 132h3v3h-3zM75 132h3v3h-3zM93 132h3v3h-3zM105 132h3v3h-3zM138 132h3v3h-3zM141 132h3v3h-3zM144 132h3v3h-3zM3 135h3v3h-3zM6 135h3v3h-3zM57 135h3v3h-3zM72 135h3v3h-3zM93 135h3v3h-3zM99 135h3v3h-3zM117 135h3v3h-3zM126 135h3v3h-3zM135 135h3v3h-3zM144 135h3v3h-3zM147 135h3v3h-3zM24 138h3v3h-3zM27 138h3v3h-3zM48 138h3v3h-3zM57 138h3v3h-3zM81 138h3v3h-3zM96 138h3v3h-3zM108 138h3v3h-3zM120 138h3v3h-3zM0 141h3v3h-3zM60 141h3v3h-3zM111 141h3v3h-3zM114 141h3v3h-3zM123 141h3v3h-3zM48 144h3v3h-3zM57 144h3v3h-3zM93 144h3v3h-3zM105 144h3v3h-3zM0 147h3v3h-3zM66 147h3v3h-3zM84 147h3v3h-3zM96 147h3v3h-3zM102 147h3v3h-3zM147 147h3v3h-3z"/>
<path fill="#fff" fill-opacity="0.08" d="M0 0h3v3h-3zM45 0h3v3h-3zM90 0h3v3h-3zM102 0h3v3h-3zM0 3h3v3h-3zM42 3h3v3h-3zM0 6h3v3h-3zM90 6h3v3h-3zM141 6h3v3h-3zM48 9h3v3h-3zM0 12h3v3h-3zM147 12h3v3h-3zM3 15h3v3h-3zM87 15h3v3h-3zM24 18h3v3h-3zM96 18h3v3h-3zM147 18h3v3h-3zM18 21h3v3h-3zM21 21h3v3h-3zM57 21h3v3h-3zM87 21h3v3h-3zM90 21h3v3h-3zM93 21h3v3h-3zM99 21h3v3h-3zM102 21h3v3h-3zM108 21h3v3h-3zM51 24h3v3h-3zM114 24h3v3h-3zM126 24h3v3h-3zM138 24h3v3h-3zM18 27h3v3h-3zM30 27h3v3h-3zM57 27h3v3h-3zM78 27h3v3h-3zM96 27h3v3h-3zM105 27h3v3h-3zM132 27h3v3h-3zM21 30h3v3h-3zM24 30h3v3h-3zM36 30h3v3h-3zM45 30h3v3h-3zM99 30h3v3h-3zM102 30h3v3h-3zM33 33h3v3h-3zM81 33h3v3h-3zM99 33h3v3h-3zM15 36h3v3h-3zM63 36h3v3h-3zM84 36h3v3h-3zM48 39h3v3h-3zM51 39h3v3h-3zM57 39h3v3h-3zM60 42h3v3h-3zM51 45h3v3h-3zM27 48h3v3h-3zM57 48h3v3h-3zM96 48h3v3h-3zM117 48h3v3h-3zM126 48h3v3h-3zM132 48h3v3h-3zM12 51h3v3h-3zM18 51h3v3h-3zM27 51h3v3h-3zM33 51h3v3h-3zM75 51h3v3h-3zM132 51h3v3h-3zM135 51h3v3h-3zM30 54h3v3h-3zM75 54h3v3h-3zM78 54h3v3h-3zM117 54h3v3h-3zM81 57h3v3h-3zM87 60h3v3h-3zM108 60h3v3h-3zM81 63h3v3h-3zM18 66h3v3h-3zM39 66h3v3h-3zM51 66h3v3h-3zM60 66h3v3h-3zM72 66h3v3h-3zM84 66h3v3h-3zM108 66h3v3h-3zM111 66h3v3h-3zM15 69h3v3h-3zM48 69h3v3h-3zM51 69h3v3h-3zM54 69h3v3h-3zM57 69h3v3h-3zM78 69h3v3h-3zM15 72h3v3h-3zM48 72h3v3h-3zM51 72h3v3h-3zM90 72h3v3h-3zM111 72h3v3h-3zM132 72h3v3h-3zM18 75h3v3h-3zM21 75h3v3h-3zM48 75h3v3h-3zM72 75h3v3h-3zM75 75h3v3h-3zM87 75h3v3h-3zM90 75h3v3h-3zM126 75h3v3h-3zM24 78h3v3h-3zM27 78h3v3h-3zM33 78h3v3h-3zM36 78h3v3h-3zM75 78h3v3h-3zM81 78h3v3h-3zM111 78h3v3h-3zM144 78h3v3h-3zM24 81h3v3h-3zM33 81h3v3h-3zM39 81h3v3h-3zM78 81h3v3h-3zM3 84h3v3h-3zM18 84h3v3h-3zM21 84h3v3h-3zM27 84h3v3h-3zM60 84h3v3h-3zM6 87h3v3h-3zM9 87h3v3h-3zM12 87h3v3h-3zM45 87h3v3h-3zM57 87h3v3h-3zM108 87h3v3h-3zM0 90h3v3h-3zM21 90h3v3h-3zM27 90h3v3h-3zM33 90h3v3h-3zM141 90h3v3h-3zM144 90h3v3h-3zM0 93h3v3h-3zM6 93h3v3h-3zM9 93h3v3h-3zM12 93h3v3h-3zM27 93h3v3h-3zM60 93h3v3h-3zM69 93h3v3h-3zM96 93h3v3h-3zM105 93h3v3h-3zM3 96h3v3h-3zM6 96h3v3h-3zM21 96h3v3h-3zM27 96h3v3h-3zM66 96h3v3h-3zM75 96h3v3h-3zM96 96h3v3h-3zM105 96h3v3h-3zM0 99h3v3h-3zM27 99h3v3h-3zM93 99h3v3h-3zM105 99h3v3h-3zM72 102h3v3h-3zM75 102h3v3h-3zM78 102h3v3h-3zM84 102h3v3h-3zM87 102h3v3h-3zM90 102h3v3h-3zM60 105h3v3h-3zM72 105h3v3h-3zM84 105h3v3h-3zM93 105h3v3h-3zM96 105h3v3h-3zM105 105h3v3h-3zM24 108h3v3h-3zM36 108h3v3h-3zM39 108h3v3h-3zM42 108h3v3h-3zM93 108h3v3h-3zM96 108h3v3h-3zM105 108h3v3h-3zM6 111h3v3h-3zM9 111h3v3h-3zM42 111h3v3h-3zM78 111h3v3h-3zM96 111h3v3h-3zM99 111h3v3h-3zM138 111h3v3h-3zM141 111h3v3h-3zM0 114h3v3h-3zM21 114h3v3h-3zM27 114h3v3h-3zM39 114h3v3h-3zM66 114h3v3h-3zM69 114h3v3h-3zM108 114h3v3h-3zM117 114h3v3h-3zM138 114h3v3h-3zM147 114h3v3h-3zM0 117h3v3h-3zM12 117h3v3h-3zM15 117h3v3h-3zM39 117h3v3h-3zM54 117h3v3h-3zM63 117h3v3h-3zM90 117h3v3h-3zM138 117h3v3h-3zM36 120h3v3h-3zM39 120h3v3h-3zM48 120h3v3h-3zM51 120h3v3h-3zM69 120h3v3h-3zM27 123h3v3h-3zM48 123h3v3h-3zM51 123h3v3h-3zM54 123h3v3h-3zM87 123h3v3h-3zM144 123h3v3h-3zM147 123h3v3h-3zM6 126h3v3h-3zM24 126h3v3h-3zM48 126h3v3h-3zM108 126h3v3h-3zM141 126h3v3h-3zM147 126h3v3h-3zM66 129h3v3h-3zM144 129h3v3h-3zM54 132h3v3h-3zM66 132h3v3h-3zM81 132h3v3h-3zM108 132h3v3h-3zM114 132h3v3h-3zM135 132h3v3h-3zM48 135h3v3h-3zM54 135h3v3h-3zM96 135h3v3h-3zM111 135h3v3h-3zM114 135h3v3h-3zM141 135h3v3h-3zM51 138h3v3h-3zM105 138h3v3h-3zM114 138h3v3h-3zM54 141h3v3h-3zM72 141h3v3h-3zM93 141h3v3h-3zM108 141h3v3h-3zM126 141h3v3h-3zM36 144h3v3h-3zM45 144h3v3h-3zM54 144h3v3h-3zM117 144h3v3h-3zM48 147h3v3h-3zM87 147h3v3h-3z"/>
<path fill="#fff" fill-opacity="0.12" d="M90 18h3v3h-3zM93 18h3v3h-3zM24 24h3v3h-3zM48 24h3v3h-3zM90 24h3v3h-3zM21 27h3v3h-3zM102 27h3v3h-3zM144 27h3v3h-3zM18 30h3v3h-3zM69 30h3v3h-3zM54 33h3v3h-3zM63 33h3v3h-3zM48 36h3v3h-3zM51 36h3v3h-3zM54 39h3v3h-3zM87 39h3v3h-3zM57 42h3v3h-3zM102 45h3v3h-3zM135 45h3v3h-3zM30 48h3v3h-3zM63 48h3v3h-3zM129 48h3v3h-3zM135 48h3v3h-3zM21 51h3v3h-3zM39 51h3v3h-3zM81 54h3v3h-3zM105 54h3v3h-3zM138 54h3v3h-3zM84 57h3v3h-3zM138 57h3v3h-3zM81 60h3v3h-3zM84 60h3v3h-3zM105 60h3v3h-3zM45 69h3v3h-3zM75 69h3v3h-3zM54 72h3v3h-3zM24 75h3v3h-3zM27 75h3v3h-3zM18 78h3v3h-3zM87 78h3v3h-3zM117 78h3v3h-3zM27 81h3v3h-3zM75 81h3v3h-3zM147 81h3v3h-3zM27 87h3v3h-3zM12 90h3v3h-3zM54 90h3v3h-3zM3 93h3v3h-3zM99 93h3v3h-3zM135 93h3v3h-3zM99 96h3v3h-3zM72 99h3v3h-3zM78 99h3v3h-3zM96 99h3v3h-3zM24 102h3v3h-3zM63 102h3v3h-3zM66 102h3v3h-3zM96 102h3v3h-3zM102 102h3v3h-3zM66 105h3v3h-3zM69 105h3v3h-3zM99 105h3v3h-3zM69 108h3v3h-3zM81 108h3v3h-3zM99 108h3v3h-3zM36 111h3v3h-3zM66 111h3v3h-3zM81 111h3v3h-3zM84 111h3v3h-3zM111 111h3v3h-3zM12 114h3v3h-3zM36 114h3v3h-3zM141 114h3v3h-3zM144 114h3v3h-3zM84 117h3v3h-3zM141 117h3v3h-3zM147 117h3v3h-3zM0 120h3v3h-3zM3 123h3v3h-3zM141 123h3v3h-3zM3 126h3v3h-3zM30 126h3v3h-3zM66 126h3v3h-3zM144 126h3v3h-3zM24 129h3v3h-3zM138 129h3v3h-3zM147 129h3v3h-3zM0 132h3v3h-3zM51 135h3v3h-3zM54 138h3v3h-3zM51 141h3v3h-3zM120 141h3v3h-3zM87 144h3v3h-3zM99 144h3v3h-3z"/>
<path fill="#fff" fill-opacity="0.16" d="M87 0h3v3h-3zM21 24h3v3h-3zM75 27h3v3h-3zM108 27h3v3h-3zM132 45h3v3h-3zM24 51h3v3h-3zM30 51h3v3h-3zM84 54h3v3h-3zM90 69h3v3h-3zM21 78h3v3h-3zM18 81h3v3h-3zM24 84h3v3h-3zM21 87h3v3h-3zM3 90h3v3h-3zM24 90h3v3h-3zM24 93h3v3h-3zM24 96h3v3h-3zM102 99h3v3h-3zM60 102h3v3h-3zM69 102h3v3h-3zM93 102h3v3h-3zM99 102h3v3h-3zM12 105h3v3h-3zM63 105h3v3h-3zM63 108h3v3h-3zM87 108h3v3h-3zM90 108h3v3h-3zM90 111h3v3h-3zM84 114h3v3h-3zM54 120h3v3h-3zM144 120h3v3h-3zM147 120h3v3h-3zM0 126h3v3h-3zM141 129h3v3h-3z"/>
<path fill="#fff" fill-opacity="0.20" d="M54 36h3v3h-3zM87 72h3v3h-3zM24 87h3v3h-3zM9 90h3v3h-3zM99 99h3v3h-3zM87 111h3v3h-3zM144 117h3v3h-3zM141 120h3v3h-3zM0 123h3v3h-3z"/>
<path fill="#fff" fill-opacity="0.24" d="M6 90h3v3h-3z"/>
</pattern><pattern id="mottle2" width="150" height="150" patternUnits="userSpaceOnUse">
<path fill="#000" fill-opacity="0.04" d="M0 0h3v3h-3zM36 0h3v3h-3zM42 0h3v3h-3zM57 0h3v3h-3zM66 0h3v3h-3zM69 0h3v3h-3zM75 0h3v3h-3zM87 0h3v3h-3zM93 0h3v3h-3zM138 0h3v3h-3zM6 3h3v3h-3zM15 3h3v3h-3zM36 3h3v3h-3zM51 3h3v3h-3zM117 3h3v3h-3zM126 3h3v3h-3zM138 3h3v3h-3zM147 3h3v3h-3zM0 6h3v3h-3zM6 6h3v3h-3zM21 6h3v3h-3zM33 6h3v3h-3zM42 6h3v3h-3zM57 6h3v3h-3zM75 6h3v3h-3zM78 6h3v3h-3zM135 6h3v3h-3zM138 6h3v3h-3zM0 9h3v3h-3zM3 9h3v3h-3zM30 9h3v3h-3zM45 9h3v3h-3zM57 9h3v3h-3zM66 9h3v3h-3zM72 9h3v3h-3zM78 9h3v3h-3zM81 9h3v3h-3zM93 9h3v3h-3zM96 9h3v3h-3zM117 9h3v3h-3zM132 9h3v3h-3zM147 9h3v3h-3zM21 12h3v3h-3zM24 12h3v3h-3zM27 12h3v3h-3zM33 12h3v3h-3zM48 12h3v3h-3zM60 12h3v3h-3zM69 12h3v3h-3zM78 12h3v3h-3zM87 12h3v3h-3zM99 12h3v3h-3zM120 12h3v3h-3zM135 12h3v3h-3zM138 12h3v3h-3zM3 15h3v3h-3zM18 15h3v3h-3zM21 15h3v3h-3zM24 15h3v3h-3zM30 15h3v3h-3zM42 15h3v3h-3zM51 15h3v3h-3zM78 15h3v3h-3zM84 15h3v3h-3zM87 15h3v3h-3zM90 15h3v3h-3zM99 15h3v3h-3zM132 15h3v3h-3zM141 15h3v3h-3zM6 18h3v3h-3zM39 18h3v3h-3zM42 18h3v3h-3zM57 18h3v3h-3zM90 18h3v3h-3zM123 18h3v3h-3zM144 18h3v3h-3zM66 21h3v3h-3zM90 21h3v3h-3zM99 21h3v3h-3zM120 21h3v3h-3zM129 21h3v3h-3zM9 24h3v3h-3zM18 24h3v3h-3zM45 24h3v3h-3zM51 24h3v3h-3zM57 24h3v3h-3zM60 24h3v3h-3zM69 24h3v3h-3zM78 24h3v3h-3zM84 24h3v3h-3zM96 24h3v3h-3zM99 24h3v3h-3zM102 24h3v3h-3zM105 24h3v3h-3zM123 24h3v3h-3zM132 24h3v3h-3zM135 24h3v3h-3zM138 24h3v3h-3zM18 27h3v3h-3zM24 27h3v3h-3zM27 27h3v3h-3zM30 27h3v3h-3zM45 27h3v3h-3zM63 27h3v3h-3zM66 27h3v3h-3zM78 27h3v3h-3zM84 27h3v3h-3zM87 27h3v3h-3zM102 27h3v3h-3zM129 27h3v3h-3zM132 27h3v3h-3zM0 30h3v3h-3zM3 30h3v3h-3zM9 30h3v3h-3zM27 30h3v3h-3zM33 30h3v3h-3zM45 30h3v3h-3zM48 30h3v3h-3zM54 30h3v3h-3zM57 30h3v3h-3zM60 30h3v3h-3zM75 30h3v3h-3zM81 30h3v3h-3zM84 30h3v3h-3zM102 30h3v3h-3zM126 30h3v3h-3zM135 30h3v3h-3zM147 30h3v3h-3zM0 33h3v3h-3zM3 33h3v3h-3zM6 33h3v3h-3zM9 33h3v3h-3zM12 33h3v3h-3zM24 33h3v3h-3zM36 33h3v3h-3zM69 33h3v3h-3zM78 33h3v3h-3zM81 33h3v3h-3zM87 33h3v3h-3zM123 33h3v3h-3zM126 33h3v3h-3zM147 33h3v3h-3zM0 36h3v3h-3zM6 36h3v3h-3zM15 36h3v3h-3zM18 36h3v3h-3zM21 36h3v3h-3zM27 36h3v3h-3zM33 36h3v3h-3zM66 36h3v3h-3zM120 36h3v3h-3zM123 36h3v3h-3zM6 39h3v3h-3zM63 39h3v3h-3zM66 39h3v3h-3zM72 39h3v3h-3zM87 39h3v3h-3zM114 39h3v3h-3zM117 39h3v3h-3zM120 39h3v3h-3zM123 39h3v3h-3zM129 39h3v3h-3zM12 42h3v3h-3zM69 42h3v3h-3zM72 42h3v3h-3zM108 42h3v3h-3zM111 42h3v3h-3zM129 42h3v3h-3zM144 42h3v3h-3zM30 45h3v3h-3zM33 45h3v3h-3zM51 45h3v3h-3zM63 45h3v3h-3zM87 45h3v3h-3zM93 45h3v3h-3zM114 45h3v3h-3zM117 45h3v3h-3zM120 45h3v3h-3zM51 48h3v3h-3zM57 48h3v3h-3zM72 48h3v3h-3zM90 48h3v3h-3zM96 48h3v3h-3zM126 48h3v3h-3zM147 48h3v3h-3zM42 51h3v3h-3zM51 51h3v3h-3zM90 51h3v3h-3zM96 51h3v3h-3zM108 51h3v3h-3zM120 51h3v3h-3zM123 51h3v3h-3zM126 51h3v3h-3zM135 51h3v3h-3zM0 54h3v3h-3zM51 54h3v3h-3zM60 54h3v3h-3zM63 54h3v3h-3zM87 54h3v3h-3zM96 54h3v3h-3zM99 54h3v3h-3zM126 54h3v3h-3zM129 54h3v3h-3zM141 54h3v3h-3zM147 54h3v3h-3zM42 57h3v3h-3zM63 57h3v3h-3zM66 57h3v3h-3zM69 57h3v3h-3zM72 57h3v3h-3zM87 57h3v3h-3zM93 57h3v3h-3zM96 57h3v3h-3zM117 57h3v3h-3zM132 57h3v3h-3zM138 57h3v3h-3zM147 57h3v3h-3zM30 60h3v3h-3zM63 60h3v3h-3zM75 60h3v3h-3zM81 60h3v3h-3zM87 60h3v3h-3zM111 60h3v3h-3zM147 60h3v3h-3zM21 63h3v3h-3zM24 63h3v3h-3zM36 63h3v3h-3zM48 63h3v3h-3zM63 63h3v3h-3zM66 63h3v3h-3zM69 63h3v3h-3zM72 63h3v3h-3zM75 63h3v3h-3zM78 63h3v3h-3zM93 63h3v3h-3zM99 63h3v3h-3zM105 63h3v3h-3zM111 63h3v3h-3zM117 63h3v3h-3zM12 66h3v3h-3zM21 66h3v3h-3zM27 66h3v3h-3zM33 66h3v3h-3zM63 66h3v3h-3zM78 66h3v3h-3zM93 66h3v3h-3zM96 66h3v3h-3zM102 66h3v3h-3zM108 66h3v3h-3zM117 66h3v3h-3zM3 69h3v3h-3zM15 69h3v3h-3zM30 69h3v3h-3zM45 69h3v3h-3zM51 69h3v3h-3zM57 69h3v3h-3zM72 69h3v3h-3zM75 69h3v3h-3zM78 69h3v3h-3zM102 69h3v3h-3zM105 69h3v3h-3zM132 69h3v3h-3zM15 72h3v3h-3zM30 72h3v3h-3zM33 72h3v3h-3zM51 72h3v3h-3zM54 72h3v3h-3zM69 72h3v3h-3zM75 72h3v3h-3zM87 72h3v3h-3zM114 72h3v3h-3zM120 72h3v3h-3zM123 72h3v3h-3zM6 75h3v3h-3zM12 75h3v3h-3zM45 75h3v3h-3zM48 75h3v3h-3zM114 75h3v3h-3zM147 75h3v3h-3zM3 78h3v3h-3zM15 78h3v3h-3zM18 78h3v3h-3zM30 78h3v3h-3zM36 78h3v3h-3zM54 78h3v3h-3zM69 78h3v3h-3zM81 78h3v3h-3zM111 78h3v3h-3zM15 81h3v3h-3zM36 81h3v3h-3zM39 81h3v3h-3zM51 81h3v3h-3zM54 81h3v3h-3zM72 81h3v3h-3zM81 81h3v3h-3zM84 81h3v3h-3zM111 81h3v3h-3zM114 81h3v3h-3zM117 81h3v3h-3zM129 81h3v3h-3zM144 81h3v3h-3zM9 84h3v3h-3zM18 84h3v3h-3zM51 84h3v3h-3zM72 84h3v3h-3zM87 84h3v3h-3zM99 84h3v3h-3zM111 84h3v3h-3zM120 84h3v3h-3zM126 84h3v3h-3zM0 87h3v3h-3zM3 87h3v3h-3zM6 87h3v3h-3zM39 87h3v3h-3zM105 87h3v3h-3zM120 87h3v3h-3zM138 87h3v3h-3zM6 90h3v3h-3zM51 90h3v3h-3zM54 90h3v3h-3zM57 90h3v3h-3zM84 90h3v3h-3zM93 90h3v3h-3zM129 90h3v3h-3zM141 90h3v3h-3zM144 90h3v3h-3zM147 90h3v3h-3zM3 93h3v3h-3zM42 93h3v3h-3zM60 93h3v3h-3zM69 93h3v3h-3zM78 93h3v3h-3zM84 93h3v3h-3zM99 93h3v3h-3zM135 93h3v3h-3zM147 93h3v3h-3zM0 96h3v3h-3zM6 96h3v3h-3zM18 96h3v3h-3zM27 96h3v3h-3zM45 96h3v3h-3zM48 96h3v3h-3zM60 96h3v3h-3zM63 96h3v3h-3zM123 96h3v3h-3zM132 96h3v3h-3zM135 96h3v3h-3zM147 96h3v3h-3zM3 99h3v3h-3zM24 99h3v3h-3zM45 99h3v3h-3zM69 99h3v3h-3zM90 99h3v3h-3zM99 99h3v3h-3zM108 99h3v3h-3zM135 99h3v3h-3zM144 99h3v3h-3zM9 102h3v3h-3zM12 102h3v3h-3zM15 102h3v3h-3zM18 102h3v3h-3zM21 102h3v3h-3zM39 102h3v3h-3zM51 102h3v3h-3zM54 102h3v3h-3zM60 102h3v3h-3zM63 102h3v3h-3zM66 102h3v3h-3zM72 102h3v3h-3zM84 102h3v3h-3zM111 102h3v3h-3zM114 102h3v3h-3zM120 102h3v3h-3zM129 102h3v3h-3zM135 102h3v3h-3zM147 102h3v3h-3zM9 105h3v3h-3zM18 105h3v3h-3zM60 105h3v3h-3zM84 105h3v3h-3zM90 105h3v3h-3zM96 105h3v3h-3zM102 105h3v3h-3zM117 105h3v3h-3zM129 105h3v3h-3zM138 105h3v3h-3zM144 105h3v3h-3zM57 108h3v3h-3zM60 108h3v3h-3zM75 108h3v3h-3zM87 108h3v3h-3zM90 108h3v3h-3zM93 108h3v3h-3zM96 108h3v3h-3zM102 108h3v3h-3zM120 108h3v3h-3zM126 108h3v3h-3zM129 108h3v3h-3zM132 108h3v3h-3zM138 108h3v3h-3zM57 111h3v3h-3zM63 111h3v3h-3zM93 111h3v3h-3zM111 111h3v3h-3zM114 111h3v3h-3zM117 111h3v3h-3zM126 111h3v3h-3zM144 111h3v3h-3zM147 111h3v3h-3zM24 114h3v3h-3zM51 114h3v3h-3zM57 114h3v3h-3zM78 114h3v3h-3zM102 114h3v3h-3zM111 114h3v3h-3zM120 114h3v3h-3zM138 114h3v3h-3zM6 117h3v3h-3zM9 117h3v3h-3zM27 117h3v3h-3zM30 117h3v3h-3zM54 117h3v3h-3zM75 117h3v3h-3zM81 117h3v3h-3zM84 117h3v3h-3zM99 117h3v3h-3zM102 117h3v3h-3zM111 117h3v3h-3zM117 117h3v3h-3zM120 117h3v3h-3zM15 120h3v3h-3zM18 120h3v3h-3zM21 120h3v3h-3zM27 120h3v3h-3zM42 120h3v3h-3zM66 120h3v3h-3zM87 120h3v3h-3zM99 120h3v3h-3zM126 120h3v3h-3zM138 120h3v3h-3zM144 120h3v3h-3zM12 123h3v3h-3zM21 123h3v3h-3zM60 123h3v3h-3zM66 123h3v3h-3zM69 123h3v3h-3zM87 123h3v3h-3zM102 123h3v3h-3zM117 123h3v3h-3zM27 126h3v3h-3zM39 126h3v3h-3zM42 126h3v3h-3zM45 126h3v3h-3zM63 126h3v3h-3zM69 126h3v3h-3zM84 126h3v3h-3zM90 126h3v3h-3zM99 126h3v3h-3zM102 126h3v3h-3zM120 126h3v3h-3zM141 126h3v3h-3zM30 129h3v3h-3zM42 129h3v3h-3zM99 129h3v3h-3zM111 129h3v3h-3zM135 129h3v3h-3zM138 129h3v3h-3zM3 132h3v3h-3zM27 132h3v3h-3zM54 132h3v3h-3zM66 132h3v3h-3zM69 132h3v3h-3zM72 132h3v3h-3zM78 132h3v3h-3zM93 132h3v3h-3zM96 132h3v3h-3zM105 132h3v3h-3zM114 132h3v3h-3zM123 132h3v3h-3zM138 132h3v3h-3zM147 132h3v3h-3zM0 135h3v3h-3zM36 135h3v3h-3zM39 135h3v3h-3zM78 135h3v3h-3zM132 135h3v3h-3zM135 135h3v3h-3zM39 138h3v3h-3zM57 138h3v3h-3zM99 138h3v3h-3zM117 138h3v3h-3zM132 138h3v3h-3zM141 138h3v3h-3zM147 138h3v3h-3zM0 141h3v3h-3zM3 141h3v3h-3zM36 141h3v3h-3zM84 141h3v3h-3zM93 141h3v3h-3zM135 141h3v3h-3zM3 144h3v3h-3zM9 144h3v3h-3zM27 144h3v3h-3zM36 144h3v3h-3zM57 144h3v3h-3zM69 144h3v3h-3zM84 144h3v3h-3zM90 144h3v3h-3zM93 144h3v3h-3zM132 144h3v3h-3zM135 144h3v3h-3zM0 147h3v3h-3zM9 147h3v3h-3zM15 147h3v3h-3zM27 147h3v3h-3zM30 147h3v3h-3zM51 147h3v3h-3zM63 147h3v3h-3zM72 147h3v3h-3zM78 147h3v3h-3zM93 147h3v3h-3zM144 147h3v3h-3z"/>
<path fill="#000" fill-opacity="0.08" d="M3 0h3v3h-3zM12 0h3v3h-3zM27 0h3v3h-3zM72 0h3v3h-3zM90 0h3v3h-3zM96 0h3v3h-3zM99 0h3v3h-3zM141 0h3v3h-3zM147 0h3v3h-3zM45 3h3v3h-3zM54 3h3v3h-3zM57 3h3v3h-3zM66 3h3v3h-3zM75 3h3v3h-3zM78 3h3v3h-3zM135 3h3v3h-3zM144 3h3v3h-3zM39 6h3v3h-3zM60 6h3v3h-3zM66 6h3v3h-3zM72 6h3v3h-3zM84 6h3v3h-3zM87 6h3v3h-3zM42 9h3v3h-3zM69 9h3v3h-3zM84 9h3v3h-3zM87 9h3v3h-3zM90 9h3v3h-3zM144 9h3v3h-3zM3 12h3v3h-3zM18 12h3v3h-3zM51 12h3v3h-3zM57 12h3v3h-3zM90 12h3v3h-3zM93 12h3v3h-3zM96 12h3v3h-3zM117 12h3v3h-3zM144 12h3v3h-3zM147 12h3v3h-3zM0 15h3v3h-3zM12 15h3v3h-3zM27 15h3v3h-3zM39 15h3v3h-3zM45 15h3v3h-3zM81 15h3v3h-3zM96 15h3v3h-3zM144 15h3v3h-3zM147 15h3v3h-3zM27 18h3v3h-3zM30 18h3v3h-3zM45 18h3v3h-3zM51 18h3v3h-3zM54 18h3v3h-3zM60 18h3v3h-3zM78 18h3v3h-3zM81 18h3v3h-3zM84 18h3v3h-3zM93 18h3v3h-3zM99 18h3v3h-3zM147 18h3v3h-3zM54 21h3v3h-3zM60 21h3v3h-3zM63 21h3v3h-3zM84 21h3v3h-3zM93 21h3v3h-3zM96 21h3v3h-3zM117 21h3v3h-3zM135 21h3v3h-3zM15 24h3v3h-3zM24 24h3v3h-3zM114 24h3v3h-3zM117 24h3v3h-3zM126 24h3v3h-3zM147 24h3v3h-3zM0 27h3v3h-3zM3 27h3v3h-3zM15 27h3v3h-3zM54 27h3v3h-3zM69 27h3v3h-3zM72 27h3v3h-3zM90 27h3v3h-3zM96 27h3v3h-3zM105 27h3v3h-3zM108 27h3v3h-3zM111 27h3v3h-3zM120 27h3v3h-3zM126 27h3v3h-3zM138 27h3v3h-3zM144 27h3v3h-3zM15 30h3v3h-3zM24 30h3v3h-3zM63 30h3v3h-3zM66 30h3v3h-3zM105 30h3v3h-3zM108 30h3v3h-3zM114 30h3v3h-3zM117 30h3v3h-3zM120 30h3v3h-3zM129 30h3v3h-3zM138 30h3v3h-3zM144 30h3v3h-3zM21 33h3v3h-3zM27 33h3v3h-3zM75 33h3v3h-3zM105 33h3v3h-3zM117 33h3v3h-3zM30 36h3v3h-3zM102 36h3v3h-3zM105 36h3v3h-3zM114 36h3v3h-3zM117 36h3v3h-3zM126 36h3v3h-3zM9 39h3v3h-3zM12 39h3v3h-3zM69 39h3v3h-3zM90 39h3v3h-3zM102 39h3v3h-3zM60 42h3v3h-3zM63 42h3v3h-3zM87 42h3v3h-3zM93 42h3v3h-3zM105 42h3v3h-3zM117 42h3v3h-3zM120 42h3v3h-3zM123 42h3v3h-3zM54 45h3v3h-3zM69 45h3v3h-3zM123 45h3v3h-3zM126 45h3v3h-3zM129 45h3v3h-3zM144 45h3v3h-3zM147 45h3v3h-3zM0 48h3v3h-3zM39 48h3v3h-3zM54 48h3v3h-3zM99 48h3v3h-3zM105 48h3v3h-3zM108 48h3v3h-3zM117 48h3v3h-3zM120 48h3v3h-3zM129 48h3v3h-3zM135 48h3v3h-3zM144 48h3v3h-3zM54 51h3v3h-3zM114 51h3v3h-3zM138 51h3v3h-3zM147 51h3v3h-3zM54 54h3v3h-3zM111 54h3v3h-3zM39 57h3v3h-3zM75 57h3v3h-3zM78 57h3v3h-3zM111 57h3v3h-3zM36 60h3v3h-3zM51 60h3v3h-3zM66 60h3v3h-3zM72 60h3v3h-3zM78 60h3v3h-3zM96 60h3v3h-3zM135 60h3v3h-3zM81 63h3v3h-3zM108 63h3v3h-3zM15 66h3v3h-3zM54 66h3v3h-3zM69 66h3v3h-3zM90 66h3v3h-3zM105 66h3v3h-3zM111 66h3v3h-3zM0 69h3v3h-3zM12 69h3v3h-3zM81 69h3v3h-3zM84 69h3v3h-3zM111 69h3v3h-3zM138 69h3v3h-3zM9 72h3v3h-3zM57 72h3v3h-3zM81 72h3v3h-3zM105 72h3v3h-3zM144 72h3v3h-3zM0 75h3v3h-3zM15 75h3v3h-3zM33 75h3v3h-3zM54 75h3v3h-3zM57 75h3v3h-3zM78 75h3v3h-3zM117 75h3v3h-3zM123 75h3v3h-3zM144 75h3v3h-3zM0 78h3v3h-3zM9 78h3v3h-3zM48 78h3v3h-3zM9 81h3v3h-3zM42 81h3v3h-3zM45 81h3v3h-3zM48 81h3v3h-3zM123 81h3v3h-3zM6 84h3v3h-3zM12 84h3v3h-3zM39 84h3v3h-3zM42 84h3v3h-3zM48 84h3v3h-3zM63 84h3v3h-3zM135 84h3v3h-3zM66 87h3v3h-3zM132 87h3v3h-3zM63 90h3v3h-3zM87 90h3v3h-3zM90 90h3v3h-3zM132 90h3v3h-3zM135 90h3v3h-3zM0 93h3v3h-3zM54 93h3v3h-3zM57 93h3v3h-3zM63 93h3v3h-3zM87 93h3v3h-3zM93 93h3v3h-3zM141 93h3v3h-3zM144 93h3v3h-3zM54 96h3v3h-3zM72 96h3v3h-3zM93 96h3v3h-3zM99 96h3v3h-3zM126 96h3v3h-3zM138 96h3v3h-3zM12 99h3v3h-3zM21 99h3v3h-3zM57 99h3v3h-3zM66 99h3v3h-3zM114 99h3v3h-3zM123 99h3v3h-3zM126 99h3v3h-3zM132 99h3v3h-3zM138 99h3v3h-3zM87 102h3v3h-3zM93 102h3v3h-3zM132 102h3v3h-3zM138 102h3v3h-3zM141 102h3v3h-3zM15 105h3v3h-3zM87 105h3v3h-3zM99 105h3v3h-3zM105 105h3v3h-3zM108 105h3v3h-3zM123 105h3v3h-3zM132 105h3v3h-3zM117 108h3v3h-3zM123 108h3v3h-3zM144 108h3v3h-3zM99 111h3v3h-3zM102 111h3v3h-3zM120 111h3v3h-3zM141 111h3v3h-3zM9 114h3v3h-3zM60 114h3v3h-3zM15 117h3v3h-3zM51 117h3v3h-3zM138 117h3v3h-3zM45 120h3v3h-3zM54 120h3v3h-3zM60 120h3v3h-3zM78 120h3v3h-3zM114 120h3v3h-3zM135 120h3v3h-3zM24 123h3v3h-3zM27 123h3v3h-3zM39 123h3v3h-3zM57 123h3v3h-3zM84 123h3v3h-3zM135 123h3v3h-3zM72 126h3v3h-3zM87 126h3v3h-3zM105 126h3v3h-3zM135 126h3v3h-3zM60 129h3v3h-3zM63 129h3v3h-3zM78 129h3v3h-3zM81 129h3v3h-3zM87 129h3v3h-3zM120 129h3v3h-3zM30 132h3v3h-3zM63 132h3v3h-3zM87 132h3v3h-3zM111 132h3v3h-3zM120 132h3v3h-3zM27 135h3v3h-3zM84 135h3v3h-3zM123 135h3v3h-3zM96 138h3v3h-3zM21 141h3v3h-3zM27 141h3v3h-3zM60 141h3v3h-3zM63 141h3v3h-3zM0 144h3v3h-3zM33 144h3v3h-3zM60 144h3v3h-3zM63 144h3v3h-3zM75 144h3v3h-3zM3 147h3v3h-3zM12 147h3v3h-3zM54 147h3v3h-3zM66 147h3v3h-3zM69 147h3v3h-3zM75 147h3v3h-3zM141 147h3v3h-3zM147 147h3v3h-3z"/>
<path fill="#000" fill-opacity="0.12" d="M39 0h3v3h-3zM48 0h3v3h-3zM60 0h3v3h-3zM63 0h3v3h-3zM78 0h3v3h-3zM120 0h3v3h-3zM69 3h3v3h-3zM45 6h3v3h-3zM63 6h3v3h-3zM39 9h3v3h-3zM54 9h3v3h-3zM60 9h3v3h-3zM63 9h3v3h-3zM39 12h3v3h-3zM45 12h3v3h-3zM54 12h3v3h-3zM63 12h3v3h-3zM48 18h3v3h-3zM96 18h3v3h-3zM42 21h3v3h-3zM45 21h3v3h-3zM75 21h3v3h-3zM126 21h3v3h-3zM141 21h3v3h-3zM42 24h3v3h-3zM63 24h3v3h-3zM81 24h3v3h-3zM141 24h3v3h-3zM21 27h3v3h-3zM81 27h3v3h-3zM93 27h3v3h-3zM123 27h3v3h-3zM135 27h3v3h-3zM147 27h3v3h-3zM18 30h3v3h-3zM21 30h3v3h-3zM72 33h3v3h-3zM144 33h3v3h-3zM60 36h3v3h-3zM69 36h3v3h-3zM72 36h3v3h-3zM126 39h3v3h-3zM9 42h3v3h-3zM96 42h3v3h-3zM99 42h3v3h-3zM102 42h3v3h-3zM114 42h3v3h-3zM18 45h3v3h-3zM66 45h3v3h-3zM99 45h3v3h-3zM108 45h3v3h-3zM102 48h3v3h-3zM12 51h3v3h-3zM15 51h3v3h-3zM57 51h3v3h-3zM144 51h3v3h-3zM75 54h3v3h-3zM138 54h3v3h-3zM90 57h3v3h-3zM42 60h3v3h-3zM45 60h3v3h-3zM69 60h3v3h-3zM93 60h3v3h-3zM84 63h3v3h-3zM87 63h3v3h-3zM90 63h3v3h-3zM96 63h3v3h-3zM6 66h3v3h-3zM36 66h3v3h-3zM42 66h3v3h-3zM48 66h3v3h-3zM81 66h3v3h-3zM84 66h3v3h-3zM99 66h3v3h-3zM39 69h3v3h-3zM54 69h3v3h-3zM87 69h3v3h-3zM108 69h3v3h-3zM114 69h3v3h-3zM0 72h3v3h-3zM3 72h3v3h-3zM3 75h3v3h-3zM18 75h3v3h-3zM75 78h3v3h-3zM147 78h3v3h-3zM0 84h3v3h-3zM117 84h3v3h-3zM69 87h3v3h-3zM60 90h3v3h-3zM90 93h3v3h-3zM51 96h3v3h-3zM57 96h3v3h-3zM120 96h3v3h-3zM18 99h3v3h-3zM48 99h3v3h-3zM93 99h3v3h-3zM120 99h3v3h-3zM69 102h3v3h-3zM96 102h3v3h-3zM105 102h3v3h-3zM108 102h3v3h-3zM117 102h3v3h-3zM123 102h3v3h-3zM111 105h3v3h-3zM114 105h3v3h-3zM120 105h3v3h-3zM39 108h3v3h-3zM105 108h3v3h-3zM108 108h3v3h-3zM111 108h3v3h-3zM114 108h3v3h-3zM57 117h3v3h-3zM24 120h3v3h-3zM48 120h3v3h-3zM63 123h3v3h-3zM60 126h3v3h-3zM81 126h3v3h-3zM36 129h3v3h-3zM39 129h3v3h-3zM108 129h3v3h-3zM81 132h3v3h-3zM84 132h3v3h-3zM99 132h3v3h-3zM102 132h3v3h-3zM30 135h3v3h-3zM60 135h3v3h-3zM27 138h3v3h-3zM36 138h3v3h-3zM66 138h3v3h-3zM18 141h3v3h-3zM30 141h3v3h-3zM144 141h3v3h-3zM147 141h3v3h-3zM78 144h3v3h-3zM147 144h3v3h-3zM45 147h3v3h-3zM60 147h3v3h-3zM138 147h3v3h-3z"/>
<path fill="#000" fill-opacity="0.16" d="M15 0h3v3h-3zM54 0h3v3h-3zM81 0h3v3h-3zM69 6h3v3h-3zM0 12h3v3h-3zM81 12h3v3h-3zM102 12h3v3h-3zM105 12h3v3h-3zM105 15h3v3h-3zM120 15h3v3h-3zM132 18h3v3h-3zM48 21h3v3h-3zM114 27h3v3h-3zM72 30h3v3h-3zM18 33h3v3h-3zM120 33h3v3h-3zM54 36h3v3h-3zM102 45h3v3h-3zM105 45h3v3h-3zM111 45h3v3h-3zM21 48h3v3h-3zM111 48h3v3h-3zM18 51h3v3h-3zM132 51h3v3h-3zM120 57h3v3h-3zM39 60h3v3h-3zM90 60h3v3h-3zM18 63h3v3h-3zM39 63h3v3h-3zM42 63h3v3h-3zM45 63h3v3h-3zM39 66h3v3h-3zM60 66h3v3h-3zM126 69h3v3h-3zM147 72h3v3h-3zM66 75h3v3h-3zM90 75h3v3h-3zM138 75h3v3h-3zM51 78h3v3h-3zM0 81h3v3h-3zM3 81h3v3h-3zM6 81h3v3h-3zM144 84h3v3h-3zM36 96h3v3h-3zM39 96h3v3h-3zM54 99h3v3h-3zM96 99h3v3h-3zM27 102h3v3h-3zM126 102h3v3h-3zM126 105h3v3h-3zM33 108h3v3h-3zM51 108h3v3h-3zM27 111h3v3h-3zM21 114h3v3h-3zM81 114h3v3h-3zM108 117h3v3h-3zM135 117h3v3h-3zM132 120h3v3h-3zM132 123h3v3h-3zM51 129h3v3h-3zM84 129h3v3h-3zM36 132h3v3h-3zM39 132h3v3h-3zM3 135h3v3h-3zM33 135h3v3h-3zM87 135h3v3h-3zM93 135h3v3h-3zM105 135h3v3h-3zM42 138h3v3h-3zM33 141h3v3h-3zM141 141h3v3h-3zM30 144h3v3h-3zM141 144h3v3h-3zM108 147h3v3h-3z"/>
<path fill="#000" fill-opacity="0.20" d="M102 0h3v3h-3zM108 0h3v3h-3zM81 3h3v3h-3zM129 3h3v3h-3zM30 6h3v3h-3zM117 6h3v3h-3zM108 9h3v3h-3zM75 18h3v3h-3zM12 21h3v3h-3zM12 24h3v3h-3zM21 24h3v3h-3zM87 30h3v3h-3zM87 36h3v3h-3zM108 36h3v3h-3zM0 39h3v3h-3zM18 39h3v3h-3zM90 45h3v3h-3zM3 48h3v3h-3zM6 48h3v3h-3zM12 48h3v3h-3zM48 60h3v3h-3zM36 69h3v3h-3zM147 69h3v3h-3zM12 81h3v3h-3zM93 84h3v3h-3zM144 87h3v3h-3zM39 90h3v3h-3zM66 93h3v3h-3zM138 93h3v3h-3zM78 102h3v3h-3zM99 102h3v3h-3zM48 105h3v3h-3zM69 105h3v3h-3zM135 105h3v3h-3zM75 111h3v3h-3zM21 117h3v3h-3zM72 120h3v3h-3zM93 123h3v3h-3zM126 126h3v3h-3zM102 129h3v3h-3zM21 132h3v3h-3zM51 132h3v3h-3zM117 135h3v3h-3zM33 138h3v3h-3zM138 144h3v3h-3z"/>
<path fill="#000" fill-opacity="0.24" d="M33 0h3v3h-3zM51 0h3v3h-3zM129 0h3v3h-3zM33 3h3v3h-3zM3 6h3v3h-3zM18 6h3v3h-3zM36 6h3v3h-3zM48 6h3v3h-3zM51 6h3v3h-3zM111 6h3v3h-3zM18 9h3v3h-3zM69 15h3v3h-3zM0 18h3v3h-3zM6 21h3v3h-3zM18 21h3v3h-3zM81 21h3v3h-3zM3 24h3v3h-3zM36 30h3v3h-3zM93 30h3v3h-3zM132 33h3v3h-3zM96 39h3v3h-3zM141 45h3v3h-3zM114 48h3v3h-3zM0 57h3v3h-3zM135 57h3v3h-3zM108 60h3v3h-3zM33 63h3v3h-3zM87 66h3v3h-3zM114 78h3v3h-3zM123 90h3v3h-3zM63 99h3v3h-3zM63 105h3v3h-3zM54 111h3v3h-3zM105 111h3v3h-3zM45 123h3v3h-3zM51 123h3v3h-3zM78 123h3v3h-3zM123 126h3v3h-3zM18 132h3v3h-3zM33 132h3v3h-3zM96 135h3v3h-3zM138 141h3v3h-3zM6 144h3v3h-3zM81 147h3v3h-3z"/>
<path fill="#000" fill-opacity="0.28" d="M144 0h3v3h-3zM3 3h3v3h-3zM141 12h3v3h-3zM27 24h3v3h-3zM48 24h3v3h-3zM60 27h3v3h-3zM117 27h3v3h-3zM123 30h3v3h-3zM30 33h3v3h-3zM9 36h3v3h-3zM75 42h3v3h-3zM60 48h3v3h-3zM93 48h3v3h-3zM21 60h3v3h-3zM132 60h3v3h-3zM6 78h3v3h-3zM39 78h3v3h-3zM15 84h3v3h-3zM18 87h3v3h-3zM66 90h3v3h-3zM69 96h3v3h-3zM102 102h3v3h-3zM72 105h3v3h-3zM105 114h3v3h-3zM141 114h3v3h-3zM24 117h3v3h-3zM45 129h3v3h-3zM147 129h3v3h-3zM30 138h3v3h-3zM24 141h3v3h-3zM66 144h3v3h-3zM42 147h3v3h-3zM57 147h3v3h-3z"/>
<path fill="#000" fill-opacity="0.32" d="M60 3h3v3h-3zM54 6h3v3h-3zM48 15h3v3h-3zM57 15h3v3h-3zM111 30h3v3h-3zM66 42h3v3h-3zM51 75h3v3h-3zM93 105h3v3h-3zM18 117h3v3h-3zM138 123h3v3h-3zM60 138h3v3h-3zM135 138h3v3h-3z"/>
<path fill="#000" fill-opacity="0.36" d="M126 42h3v3h-3zM144 144h3v3h-3z"/>
<path fill="#fff" fill-opacity="0.04" d="M6 0h3v3h-3zM18 0h3v3h-3zM84 0h3v3h-3zM114 0h3v3h-3zM126 0h3v3h-3zM9 3h3v3h-3zM12 3h3v3h-3zM21 3h3v3h-3zM24 3h3v3h-3zM27 3h3v3h-3zM48 3h3v3h-3zM96 3h3v3h-3zM102 3h3v3h-3zM114 3h3v3h-3zM120 3h3v3h-3zM141 3h3v3h-3zM27 6h3v3h-3zM99 6h3v3h-3zM120 6h3v3h-3zM123 6h3v3h-3zM132 6h3v3h-3zM144 6h3v3h-3zM12 9h3v3h-3zM36 9h3v3h-3zM102 9h3v3h-3zM126 9h3v3h-3zM129 9h3v3h-3zM6 12h3v3h-3zM9 12h3v3h-3zM12 12h3v3h-3zM15 12h3v3h-3zM36 12h3v3h-3zM111 12h3v3h-3zM114 12h3v3h-3zM129 12h3v3h-3zM6 15h3v3h-3zM33 15h3v3h-3zM63 15h3v3h-3zM114 15h3v3h-3zM129 15h3v3h-3zM138 15h3v3h-3zM3 18h3v3h-3zM12 18h3v3h-3zM21 18h3v3h-3zM24 18h3v3h-3zM66 18h3v3h-3zM87 18h3v3h-3zM117 18h3v3h-3zM129 18h3v3h-3zM138 18h3v3h-3zM36 21h3v3h-3zM72 21h3v3h-3zM114 21h3v3h-3zM123 21h3v3h-3zM144 21h3v3h-3zM30 24h3v3h-3zM72 24h3v3h-3zM90 24h3v3h-3zM48 27h3v3h-3zM51 27h3v3h-3zM75 27h3v3h-3zM141 27h3v3h-3zM12 30h3v3h-3zM42 30h3v3h-3zM51 30h3v3h-3zM78 30h3v3h-3zM96 30h3v3h-3zM132 30h3v3h-3zM15 33h3v3h-3zM42 33h3v3h-3zM48 33h3v3h-3zM57 33h3v3h-3zM90 33h3v3h-3zM102 33h3v3h-3zM108 33h3v3h-3zM129 33h3v3h-3zM141 33h3v3h-3zM42 36h3v3h-3zM48 36h3v3h-3zM57 36h3v3h-3zM78 36h3v3h-3zM141 36h3v3h-3zM144 36h3v3h-3zM147 36h3v3h-3zM27 39h3v3h-3zM30 39h3v3h-3zM33 39h3v3h-3zM39 39h3v3h-3zM48 39h3v3h-3zM54 39h3v3h-3zM81 39h3v3h-3zM141 39h3v3h-3zM30 42h3v3h-3zM33 42h3v3h-3zM36 42h3v3h-3zM48 42h3v3h-3zM54 42h3v3h-3zM78 42h3v3h-3zM132 42h3v3h-3zM141 42h3v3h-3zM0 45h3v3h-3zM3 45h3v3h-3zM36 45h3v3h-3zM42 45h3v3h-3zM81 45h3v3h-3zM138 45h3v3h-3zM18 48h3v3h-3zM24 48h3v3h-3zM33 48h3v3h-3zM45 48h3v3h-3zM75 48h3v3h-3zM141 48h3v3h-3zM0 51h3v3h-3zM9 51h3v3h-3zM24 51h3v3h-3zM27 51h3v3h-3zM36 51h3v3h-3zM45 51h3v3h-3zM48 51h3v3h-3zM60 51h3v3h-3zM69 51h3v3h-3zM75 51h3v3h-3zM87 51h3v3h-3zM141 51h3v3h-3zM6 54h3v3h-3zM15 54h3v3h-3zM24 54h3v3h-3zM45 54h3v3h-3zM48 54h3v3h-3zM78 54h3v3h-3zM93 54h3v3h-3zM120 54h3v3h-3zM132 54h3v3h-3zM135 54h3v3h-3zM144 54h3v3h-3zM27 57h3v3h-3zM48 57h3v3h-3zM54 57h3v3h-3zM57 57h3v3h-3zM99 57h3v3h-3zM123 57h3v3h-3zM126 57h3v3h-3zM0 60h3v3h-3zM27 60h3v3h-3zM123 60h3v3h-3zM126 60h3v3h-3zM138 60h3v3h-3zM141 60h3v3h-3zM0 63h3v3h-3zM9 63h3v3h-3zM51 63h3v3h-3zM54 63h3v3h-3zM60 63h3v3h-3zM114 63h3v3h-3zM120 63h3v3h-3zM123 63h3v3h-3zM0 66h3v3h-3zM3 66h3v3h-3zM72 66h3v3h-3zM120 66h3v3h-3zM135 66h3v3h-3zM147 66h3v3h-3zM48 69h3v3h-3zM60 69h3v3h-3zM99 69h3v3h-3zM117 69h3v3h-3zM120 69h3v3h-3zM144 69h3v3h-3zM18 72h3v3h-3zM24 72h3v3h-3zM27 72h3v3h-3zM39 72h3v3h-3zM42 72h3v3h-3zM78 72h3v3h-3zM84 72h3v3h-3zM90 72h3v3h-3zM96 72h3v3h-3zM102 72h3v3h-3zM126 72h3v3h-3zM129 72h3v3h-3zM21 75h3v3h-3zM27 75h3v3h-3zM36 75h3v3h-3zM39 75h3v3h-3zM42 75h3v3h-3zM60 75h3v3h-3zM105 75h3v3h-3zM111 75h3v3h-3zM129 75h3v3h-3zM141 75h3v3h-3zM24 78h3v3h-3zM27 78h3v3h-3zM33 78h3v3h-3zM42 78h3v3h-3zM57 78h3v3h-3zM60 78h3v3h-3zM72 78h3v3h-3zM105 78h3v3h-3zM108 78h3v3h-3zM120 78h3v3h-3zM126 78h3v3h-3zM129 78h3v3h-3zM138 78h3v3h-3zM144 78h3v3h-3zM27 81h3v3h-3zM57 81h3v3h-3zM75 81h3v3h-3zM78 81h3v3h-3zM93 81h3v3h-3zM135 81h3v3h-3zM138 81h3v3h-3zM3 84h3v3h-3zM30 84h3v3h-3zM54 84h3v3h-3zM60 84h3v3h-3zM75 84h3v3h-3zM84 84h3v3h-3zM96 84h3v3h-3zM105 84h3v3h-3zM108 84h3v3h-3zM114 84h3v3h-3zM123 84h3v3h-3zM9 87h3v3h-3zM27 87h3v3h-3zM36 87h3v3h-3zM45 87h3v3h-3zM48 87h3v3h-3zM60 87h3v3h-3zM78 87h3v3h-3zM81 87h3v3h-3zM90 87h3v3h-3zM93 87h3v3h-3zM99 87h3v3h-3zM114 87h3v3h-3zM141 87h3v3h-3zM3 90h3v3h-3zM9 90h3v3h-3zM18 90h3v3h-3zM21 90h3v3h-3zM36 90h3v3h-3zM45 90h3v3h-3zM72 90h3v3h-3zM81 90h3v3h-3zM96 90h3v3h-3zM99 90h3v3h-3zM102 90h3v3h-3zM105 90h3v3h-3zM138 90h3v3h-3zM6 93h3v3h-3zM9 93h3v3h-3zM15 93h3v3h-3zM18 93h3v3h-3zM24 93h3v3h-3zM27 93h3v3h-3zM39 93h3v3h-3zM72 93h3v3h-3zM81 93h3v3h-3zM96 93h3v3h-3zM120 93h3v3h-3zM9 96h3v3h-3zM12 96h3v3h-3zM24 96h3v3h-3zM30 96h3v3h-3zM78 96h3v3h-3zM84 96h3v3h-3zM102 96h3v3h-3zM114 96h3v3h-3zM117 96h3v3h-3zM9 99h3v3h-3zM30 99h3v3h-3zM33 99h3v3h-3zM36 99h3v3h-3zM39 99h3v3h-3zM75 99h3v3h-3zM102 99h3v3h-3zM111 99h3v3h-3zM6 102h3v3h-3zM75 102h3v3h-3zM21 105h3v3h-3zM27 105h3v3h-3zM45 105h3v3h-3zM54 105h3v3h-3zM66 105h3v3h-3zM78 105h3v3h-3zM81 105h3v3h-3zM3 108h3v3h-3zM6 108h3v3h-3zM9 108h3v3h-3zM18 108h3v3h-3zM21 108h3v3h-3zM36 108h3v3h-3zM54 108h3v3h-3zM78 108h3v3h-3zM81 108h3v3h-3zM141 108h3v3h-3zM3 111h3v3h-3zM6 111h3v3h-3zM12 111h3v3h-3zM15 111h3v3h-3zM18 111h3v3h-3zM39 111h3v3h-3zM48 111h3v3h-3zM66 111h3v3h-3zM78 111h3v3h-3zM90 111h3v3h-3zM129 111h3v3h-3zM0 114h3v3h-3zM6 114h3v3h-3zM27 114h3v3h-3zM42 114h3v3h-3zM45 114h3v3h-3zM75 114h3v3h-3zM84 114h3v3h-3zM90 114h3v3h-3zM117 114h3v3h-3zM123 114h3v3h-3zM129 114h3v3h-3zM135 114h3v3h-3zM36 117h3v3h-3zM45 117h3v3h-3zM48 117h3v3h-3zM66 117h3v3h-3zM69 117h3v3h-3zM90 117h3v3h-3zM93 117h3v3h-3zM123 117h3v3h-3zM129 117h3v3h-3zM147 117h3v3h-3zM0 120h3v3h-3zM9 120h3v3h-3zM12 120h3v3h-3zM30 120h3v3h-3zM36 120h3v3h-3zM81 120h3v3h-3zM84 120h3v3h-3zM90 120h3v3h-3zM96 120h3v3h-3zM102 120h3v3h-3zM111 120h3v3h-3zM123 120h3v3h-3zM147 120h3v3h-3zM3 123h3v3h-3zM36 123h3v3h-3zM54 123h3v3h-3zM75 123h3v3h-3zM81 123h3v3h-3zM90 123h3v3h-3zM108 123h3v3h-3zM111 123h3v3h-3zM141 123h3v3h-3zM18 126h3v3h-3zM21 126h3v3h-3zM24 126h3v3h-3zM33 126h3v3h-3zM51 126h3v3h-3zM57 126h3v3h-3zM66 126h3v3h-3zM75 126h3v3h-3zM96 126h3v3h-3zM114 126h3v3h-3zM144 126h3v3h-3zM0 129h3v3h-3zM12 129h3v3h-3zM24 129h3v3h-3zM33 129h3v3h-3zM69 129h3v3h-3zM90 129h3v3h-3zM117 129h3v3h-3zM123 129h3v3h-3zM126 129h3v3h-3zM141 129h3v3h-3zM144 129h3v3h-3zM6 132h3v3h-3zM12 132h3v3h-3zM15 132h3v3h-3zM45 132h3v3h-3zM75 132h3v3h-3zM15 135h3v3h-3zM18 135h3v3h-3zM48 135h3v3h-3zM54 135h3v3h-3zM72 135h3v3h-3zM108 135h3v3h-3zM114 135h3v3h-3zM126 135h3v3h-3zM138 135h3v3h-3zM141 135h3v3h-3zM6 138h3v3h-3zM9 138h3v3h-3zM15 138h3v3h-3zM21 138h3v3h-3zM24 138h3v3h-3zM45 138h3v3h-3zM51 138h3v3h-3zM54 138h3v3h-3zM72 138h3v3h-3zM102 138h3v3h-3zM105 138h3v3h-3zM108 138h3v3h-3zM111 138h3v3h-3zM123 138h3v3h-3zM129 138h3v3h-3zM39 141h3v3h-3zM57 141h3v3h-3zM75 141h3v3h-3zM78 141h3v3h-3zM90 141h3v3h-3zM99 141h3v3h-3zM102 141h3v3h-3zM126 141h3v3h-3zM129 141h3v3h-3zM132 141h3v3h-3zM12 144h3v3h-3zM42 144h3v3h-3zM45 144h3v3h-3zM99 144h3v3h-3zM102 144h3v3h-3zM108 144h3v3h-3zM114 144h3v3h-3zM123 144h3v3h-3zM129 144h3v3h-3zM6 147h3v3h-3zM33 147h3v3h-3zM39 147h3v3h-3zM96 147h3v3h-3zM99 147h3v3h-3zM105 147h3v3h-3z"/>
<path fill="#fff" fill-opacity="0.08" d="M111 0h3v3h-3zM117 0h3v3h-3zM132 0h3v3h-3zM18 3h3v3h-3zM111 3h3v3h-3zM24 6h3v3h-3zM96 6h3v3h-3zM105 6h3v3h-3zM126 6h3v3h-3zM141 6h3v3h-3zM75 9h3v3h-3zM123 9h3v3h-3zM138 9h3v3h-3zM123 12h3v3h-3zM126 12h3v3h-3zM66 15h3v3h-3zM102 15h3v3h-3zM108 15h3v3h-3zM126 15h3v3h-3zM63 18h3v3h-3zM108 18h3v3h-3zM114 18h3v3h-3zM21 21h3v3h-3zM36 24h3v3h-3zM33 27h3v3h-3zM90 30h3v3h-3zM33 33h3v3h-3zM39 33h3v3h-3zM51 33h3v3h-3zM93 33h3v3h-3zM36 36h3v3h-3zM39 36h3v3h-3zM51 36h3v3h-3zM96 36h3v3h-3zM132 36h3v3h-3zM138 36h3v3h-3zM21 39h3v3h-3zM42 39h3v3h-3zM51 39h3v3h-3zM78 39h3v3h-3zM6 42h3v3h-3zM15 42h3v3h-3zM18 42h3v3h-3zM21 42h3v3h-3zM24 42h3v3h-3zM39 42h3v3h-3zM45 42h3v3h-3zM51 42h3v3h-3zM81 42h3v3h-3zM135 42h3v3h-3zM9 45h3v3h-3zM15 45h3v3h-3zM21 45h3v3h-3zM48 45h3v3h-3zM84 45h3v3h-3zM36 48h3v3h-3zM78 48h3v3h-3zM84 48h3v3h-3zM21 51h3v3h-3zM30 51h3v3h-3zM78 51h3v3h-3zM84 51h3v3h-3zM9 54h3v3h-3zM12 54h3v3h-3zM18 54h3v3h-3zM21 54h3v3h-3zM27 54h3v3h-3zM30 54h3v3h-3zM33 54h3v3h-3zM42 54h3v3h-3zM72 54h3v3h-3zM81 54h3v3h-3zM102 54h3v3h-3zM105 54h3v3h-3zM114 54h3v3h-3zM18 57h3v3h-3zM21 57h3v3h-3zM30 57h3v3h-3zM102 57h3v3h-3zM15 60h3v3h-3zM18 60h3v3h-3zM99 60h3v3h-3zM102 60h3v3h-3zM105 60h3v3h-3zM30 63h3v3h-3zM57 63h3v3h-3zM102 63h3v3h-3zM132 63h3v3h-3zM135 63h3v3h-3zM138 63h3v3h-3zM141 63h3v3h-3zM144 63h3v3h-3zM147 63h3v3h-3zM123 66h3v3h-3zM126 66h3v3h-3zM129 66h3v3h-3zM141 66h3v3h-3zM144 66h3v3h-3zM18 69h3v3h-3zM24 69h3v3h-3zM63 69h3v3h-3zM66 69h3v3h-3zM141 69h3v3h-3zM45 72h3v3h-3zM66 72h3v3h-3zM99 72h3v3h-3zM135 72h3v3h-3zM63 75h3v3h-3zM72 75h3v3h-3zM75 75h3v3h-3zM87 75h3v3h-3zM93 75h3v3h-3zM96 75h3v3h-3zM102 75h3v3h-3zM12 78h3v3h-3zM78 78h3v3h-3zM87 78h3v3h-3zM90 78h3v3h-3zM21 81h3v3h-3zM60 81h3v3h-3zM63 81h3v3h-3zM90 81h3v3h-3zM102 81h3v3h-3zM126 81h3v3h-3zM141 81h3v3h-3zM24 84h3v3h-3zM90 84h3v3h-3zM75 87h3v3h-3zM111 87h3v3h-3zM24 90h3v3h-3zM27 90h3v3h-3zM30 90h3v3h-3zM108 90h3v3h-3zM117 90h3v3h-3zM21 93h3v3h-3zM30 93h3v3h-3zM36 93h3v3h-3zM45 93h3v3h-3zM48 93h3v3h-3zM102 93h3v3h-3zM108 93h3v3h-3zM111 93h3v3h-3zM114 93h3v3h-3zM129 93h3v3h-3zM33 96h3v3h-3zM42 96h3v3h-3zM75 96h3v3h-3zM81 96h3v3h-3zM81 99h3v3h-3zM24 102h3v3h-3zM30 102h3v3h-3zM45 102h3v3h-3zM24 105h3v3h-3zM30 105h3v3h-3zM36 105h3v3h-3zM39 105h3v3h-3zM0 108h3v3h-3zM24 108h3v3h-3zM30 108h3v3h-3zM42 108h3v3h-3zM48 108h3v3h-3zM63 108h3v3h-3zM66 108h3v3h-3zM69 108h3v3h-3zM147 108h3v3h-3zM21 111h3v3h-3zM24 111h3v3h-3zM30 111h3v3h-3zM33 111h3v3h-3zM45 111h3v3h-3zM81 111h3v3h-3zM84 111h3v3h-3zM87 111h3v3h-3zM135 111h3v3h-3zM3 114h3v3h-3zM33 114h3v3h-3zM66 114h3v3h-3zM72 114h3v3h-3zM87 114h3v3h-3zM108 114h3v3h-3zM39 117h3v3h-3zM78 117h3v3h-3zM69 120h3v3h-3zM93 120h3v3h-3zM120 120h3v3h-3zM6 123h3v3h-3zM15 123h3v3h-3zM33 123h3v3h-3zM96 123h3v3h-3zM105 123h3v3h-3zM6 126h3v3h-3zM93 126h3v3h-3zM129 126h3v3h-3zM3 129h3v3h-3zM6 129h3v3h-3zM15 129h3v3h-3zM18 129h3v3h-3zM48 129h3v3h-3zM93 129h3v3h-3zM9 132h3v3h-3zM48 132h3v3h-3zM126 132h3v3h-3zM129 132h3v3h-3zM132 132h3v3h-3zM12 135h3v3h-3zM45 135h3v3h-3zM51 135h3v3h-3zM57 135h3v3h-3zM120 135h3v3h-3zM129 135h3v3h-3zM147 135h3v3h-3zM18 138h3v3h-3zM114 138h3v3h-3zM9 141h3v3h-3zM15 141h3v3h-3zM51 141h3v3h-3zM72 141h3v3h-3zM108 141h3v3h-3zM111 141h3v3h-3zM114 141h3v3h-3zM117 141h3v3h-3zM120 141h3v3h-3zM123 141h3v3h-3zM18 144h3v3h-3zM21 144h3v3h-3zM24 144h3v3h-3zM51 144h3v3h-3zM117 144h3v3h-3zM21 147h3v3h-3zM102 147h3v3h-3zM111 147h3v3h-3zM114 147h3v3h-3zM117 147h3v3h-3zM120 147h3v3h-3zM123 147h3v3h-3zM129 147h3v3h-3zM132 147h3v3h-3z"/>
<path fill="#fff" fill-opacity="0.12" d="M114 6h3v3h-3zM9 9h3v3h-3zM135 9h3v3h-3zM72 15h3v3h-3zM30 21h3v3h-3zM33 21h3v3h-3zM138 21h3v3h-3zM54 33h3v3h-3zM96 33h3v3h-3zM135 33h3v3h-3zM93 36h3v3h-3zM99 36h3v3h-3zM135 36h3v3h-3zM57 39h3v3h-3zM135 39h3v3h-3zM138 39h3v3h-3zM147 39h3v3h-3zM42 42h3v3h-3zM138 42h3v3h-3zM24 45h3v3h-3zM78 45h3v3h-3zM15 48h3v3h-3zM81 48h3v3h-3zM33 51h3v3h-3zM63 51h3v3h-3zM81 51h3v3h-3zM3 57h3v3h-3zM6 57h3v3h-3zM9 57h3v3h-3zM12 57h3v3h-3zM15 57h3v3h-3zM33 57h3v3h-3zM3 60h3v3h-3zM6 60h3v3h-3zM9 60h3v3h-3zM57 60h3v3h-3zM6 63h3v3h-3zM96 69h3v3h-3zM129 69h3v3h-3zM21 72h3v3h-3zM93 72h3v3h-3zM141 72h3v3h-3zM99 75h3v3h-3zM132 75h3v3h-3zM135 75h3v3h-3zM93 78h3v3h-3zM99 78h3v3h-3zM102 78h3v3h-3zM24 81h3v3h-3zM30 81h3v3h-3zM87 81h3v3h-3zM96 81h3v3h-3zM105 81h3v3h-3zM21 84h3v3h-3zM27 84h3v3h-3zM102 84h3v3h-3zM141 84h3v3h-3zM21 87h3v3h-3zM24 87h3v3h-3zM102 87h3v3h-3zM33 90h3v3h-3zM75 90h3v3h-3zM78 90h3v3h-3zM111 90h3v3h-3zM114 90h3v3h-3zM33 93h3v3h-3zM75 93h3v3h-3zM105 93h3v3h-3zM42 105h3v3h-3zM27 108h3v3h-3zM45 108h3v3h-3zM0 111h3v3h-3zM36 111h3v3h-3zM42 111h3v3h-3zM36 114h3v3h-3zM39 114h3v3h-3zM69 114h3v3h-3zM3 117h3v3h-3zM42 117h3v3h-3zM33 120h3v3h-3zM39 120h3v3h-3zM3 126h3v3h-3zM9 126h3v3h-3zM15 126h3v3h-3zM9 129h3v3h-3zM9 135h3v3h-3zM87 138h3v3h-3zM45 141h3v3h-3zM96 141h3v3h-3zM105 141h3v3h-3zM105 144h3v3h-3zM111 144h3v3h-3zM120 144h3v3h-3z"/>
<path fill="#fff" fill-opacity="0.16" d="M21 0h3v3h-3zM132 39h3v3h-3zM3 51h3v3h-3zM3 54h3v3h-3zM12 60h3v3h-3zM3 63h3v3h-3zM129 63h3v3h-3zM132 66h3v3h-3zM138 72h3v3h-3zM99 81h3v3h-3zM33 105h3v3h-3zM51 111h3v3h-3zM0 123h3v3h-3zM129 129h3v3h-3zM48 138h3v3h-3zM48 141h3v3h-3zM15 144h3v3h-3zM18 147h3v3h-3z"/>
<path fill="#fff" fill-opacity="0.20" d="M138 66h3v3h-3zM135 69h3v3h-3zM132 72h3v3h-3zM96 78h3v3h-3zM21 129h3v3h-3z"/>
</pattern><pattern id="specks" width="150" height="150" patternUnits="userSpaceOnUse">
<path fill="#b4b8b8" fill-opacity="0.06" d="M81 3h3v3h-3zM90 9h3v3h-3zM126 9h3v3h-3zM99 12h3v3h-3zM24 18h3v3h-3zM126 18h3v3h-3zM33 21h3v3h-3zM135 27h3v3h-3zM33 30h3v3h-3zM48 30h3v3h-3zM99 33h3v3h-3zM120 36h3v3h-3zM126 45h3v3h-3zM144 51h3v3h-3zM126 54h3v3h-3zM39 60h3v3h-3zM114 60h3v3h-3zM96 63h3v3h-3zM66 69h3v3h-3zM117 78h3v3h-3zM138 81h3v3h-3zM54 84h3v3h-3zM30 90h3v3h-3zM84 102h3v3h-3zM117 105h3v3h-3zM36 108h3v3h-3zM72 108h3v3h-3zM48 114h3v3h-3zM48 120h3v3h-3zM63 123h3v3h-3zM87 123h3v3h-3zM60 135h3v3h-3zM117 135h3v3h-3zM141 147h3v3h-3z"/>
<path fill="#b4b8b8" fill-opacity="0.12" d="M78 0h3v3h-3zM105 0h3v3h-3zM12 3h3v3h-3zM99 3h3v3h-3zM30 6h3v3h-3zM87 6h3v3h-3zM90 6h3v3h-3zM33 9h3v3h-3zM81 9h3v3h-3zM42 12h3v3h-3zM114 12h3v3h-3zM48 15h3v3h-3zM33 18h3v3h-3zM0 21h3v3h-3zM3 21h3v3h-3zM78 21h3v3h-3zM87 21h3v3h-3zM102 21h3v3h-3zM18 24h3v3h-3zM36 24h3v3h-3zM45 24h3v3h-3zM72 24h3v3h-3zM111 24h3v3h-3zM126 24h3v3h-3zM9 27h3v3h-3zM21 27h3v3h-3zM24 27h3v3h-3zM27 30h3v3h-3zM84 30h3v3h-3zM102 33h3v3h-3zM45 36h3v3h-3zM51 36h3v3h-3zM69 36h3v3h-3zM78 36h3v3h-3zM36 39h3v3h-3zM51 42h3v3h-3zM132 42h3v3h-3zM63 45h3v3h-3zM0 48h3v3h-3zM42 51h3v3h-3zM105 51h3v3h-3zM27 54h3v3h-3zM33 54h3v3h-3zM45 54h3v3h-3zM3 60h3v3h-3zM33 60h3v3h-3zM78 60h3v3h-3zM63 63h3v3h-3zM105 63h3v3h-3zM36 66h3v3h-3zM135 66h3v3h-3zM51 69h3v3h-3zM69 69h3v3h-3zM3 72h3v3h-3zM24 72h3v3h-3zM48 75h3v3h-3zM66 75h3v3h-3zM60 78h3v3h-3zM81 78h3v3h-3zM135 78h3v3h-3zM9 81h3v3h-3zM15 81h3v3h-3zM57 81h3v3h-3zM117 81h3v3h-3zM135 81h3v3h-3zM39 84h3v3h-3zM108 84h3v3h-3zM27 87h3v3h-3zM36 90h3v3h-3zM63 90h3v3h-3zM87 90h3v3h-3zM102 90h3v3h-3zM105 90h3v3h-3zM57 93h3v3h-3zM87 93h3v3h-3zM39 96h3v3h-3zM114 99h3v3h-3zM129 99h3v3h-3zM24 102h3v3h-3zM129 102h3v3h-3zM6 105h3v3h-3zM126 105h3v3h-3zM6 108h3v3h-3zM18 108h3v3h-3zM0 114h3v3h-3zM30 114h3v3h-3zM108 114h3v3h-3zM144 114h3v3h-3zM111 117h3v3h-3zM18 120h3v3h-3zM120 120h3v3h-3zM141 120h3v3h-3zM66 123h3v3h-3zM117 123h3v3h-3zM132 123h3v3h-3zM0 126h3v3h-3zM6 126h3v3h-3zM66 126h3v3h-3zM27 129h3v3h-3zM30 129h3v3h-3zM57 129h3v3h-3zM66 129h3v3h-3zM63 132h3v3h-3zM21 135h3v3h-3zM27 135h3v3h-3zM81 135h3v3h-3zM144 135h3v3h-3zM48 138h3v3h-3zM78 138h3v3h-3zM96 138h3v3h-3zM27 141h3v3h-3zM51 141h3v3h-3zM126 144h3v3h-3zM81 147h3v3h-3z"/>
<path fill="#b4b8b8" fill-opacity="0.18" d="M27 0h3v3h-3zM54 0h3v3h-3zM90 0h3v3h-3zM0 3h3v3h-3zM114 3h3v3h-3zM78 6h3v3h-3zM84 6h3v3h-3zM18 9h3v3h-3zM51 9h3v3h-3zM63 9h3v3h-3zM111 9h3v3h-3zM63 12h3v3h-3zM87 12h3v3h-3zM105 12h3v3h-3zM6 15h3v3h-3zM81 15h3v3h-3zM132 15h3v3h-3zM81 18h3v3h-3zM84 18h3v3h-3zM108 18h3v3h-3zM132 18h3v3h-3zM60 21h3v3h-3zM129 21h3v3h-3zM135 21h3v3h-3zM54 24h3v3h-3zM129 27h3v3h-3zM144 27h3v3h-3zM15 30h3v3h-3zM18 30h3v3h-3zM42 30h3v3h-3zM51 30h3v3h-3zM126 30h3v3h-3zM138 30h3v3h-3zM111 33h3v3h-3zM120 33h3v3h-3zM132 33h3v3h-3zM75 36h3v3h-3zM81 36h3v3h-3zM99 36h3v3h-3zM126 36h3v3h-3zM138 36h3v3h-3zM21 39h3v3h-3zM9 42h3v3h-3zM48 42h3v3h-3zM114 42h3v3h-3zM27 48h3v3h-3zM105 48h3v3h-3zM24 51h3v3h-3zM114 51h3v3h-3zM135 51h3v3h-3zM75 54h3v3h-3zM78 54h3v3h-3zM99 54h3v3h-3zM39 57h3v3h-3zM63 57h3v3h-3zM78 57h3v3h-3zM42 60h3v3h-3zM60 60h3v3h-3zM105 60h3v3h-3zM108 60h3v3h-3zM120 60h3v3h-3zM24 63h3v3h-3zM45 63h3v3h-3zM6 66h3v3h-3zM51 66h3v3h-3zM15 69h3v3h-3zM33 69h3v3h-3zM63 69h3v3h-3zM39 72h3v3h-3zM42 72h3v3h-3zM57 72h3v3h-3zM78 72h3v3h-3zM129 72h3v3h-3zM147 72h3v3h-3zM63 75h3v3h-3zM96 75h3v3h-3zM102 75h3v3h-3zM126 75h3v3h-3zM132 75h3v3h-3zM21 78h3v3h-3zM39 81h3v3h-3zM129 81h3v3h-3zM105 84h3v3h-3zM114 84h3v3h-3zM9 87h3v3h-3zM60 87h3v3h-3zM102 87h3v3h-3zM81 90h3v3h-3zM84 90h3v3h-3zM12 93h3v3h-3zM51 93h3v3h-3zM78 96h3v3h-3zM93 96h3v3h-3zM105 96h3v3h-3zM87 99h3v3h-3zM39 102h3v3h-3zM54 102h3v3h-3zM93 102h3v3h-3zM117 102h3v3h-3zM54 105h3v3h-3zM57 105h3v3h-3zM45 108h3v3h-3zM132 108h3v3h-3zM15 111h3v3h-3zM117 111h3v3h-3zM132 111h3v3h-3zM114 120h3v3h-3zM129 120h3v3h-3zM33 123h3v3h-3zM36 123h3v3h-3zM123 123h3v3h-3zM126 123h3v3h-3zM27 126h3v3h-3zM117 126h3v3h-3zM36 129h3v3h-3zM60 129h3v3h-3zM78 129h3v3h-3zM6 132h3v3h-3zM18 132h3v3h-3zM24 132h3v3h-3zM126 132h3v3h-3zM69 135h3v3h-3zM141 135h3v3h-3zM21 138h3v3h-3zM147 138h3v3h-3zM36 141h3v3h-3zM75 141h3v3h-3zM129 141h3v3h-3zM39 144h3v3h-3zM78 144h3v3h-3zM120 144h3v3h-3zM144 144h3v3h-3zM54 147h3v3h-3zM120 147h3v3h-3z"/>
<path fill="#b4b8b8" fill-opacity="0.24" d="M69 0h3v3h-3zM102 0h3v3h-3zM123 0h3v3h-3zM30 3h3v3h-3zM84 3h3v3h-3zM93 3h3v3h-3zM42 6h3v3h-3zM72 6h3v3h-3zM0 9h3v3h-3zM30 12h3v3h-3zM48 12h3v3h-3zM54 12h3v3h-3zM60 12h3v3h-3zM66 12h3v3h-3zM126 12h3v3h-3zM126 15h3v3h-3zM39 18h3v3h-3zM87 18h3v3h-3zM93 18h3v3h-3zM135 18h3v3h-3zM138 18h3v3h-3zM18 21h3v3h-3zM57 21h3v3h-3zM33 24h3v3h-3zM63 24h3v3h-3zM0 27h3v3h-3zM6 27h3v3h-3zM15 27h3v3h-3zM102 27h3v3h-3zM108 30h3v3h-3zM123 30h3v3h-3zM129 30h3v3h-3zM12 33h3v3h-3zM21 33h3v3h-3zM87 33h3v3h-3zM24 39h3v3h-3zM78 39h3v3h-3zM84 39h3v3h-3zM99 39h3v3h-3zM114 39h3v3h-3zM135 39h3v3h-3zM138 39h3v3h-3zM57 42h3v3h-3zM111 42h3v3h-3zM60 45h3v3h-3zM24 48h3v3h-3zM78 48h3v3h-3zM102 48h3v3h-3zM132 51h3v3h-3zM51 54h3v3h-3zM54 54h3v3h-3zM108 54h3v3h-3zM129 54h3v3h-3zM18 57h3v3h-3zM30 57h3v3h-3zM42 57h3v3h-3zM48 57h3v3h-3zM57 57h3v3h-3zM51 60h3v3h-3zM102 60h3v3h-3zM135 60h3v3h-3zM30 63h3v3h-3zM60 63h3v3h-3zM87 63h3v3h-3zM93 63h3v3h-3zM102 63h3v3h-3zM108 63h3v3h-3zM30 66h3v3h-3zM147 66h3v3h-3zM21 69h3v3h-3zM42 69h3v3h-3zM48 69h3v3h-3zM141 69h3v3h-3zM0 72h3v3h-3zM54 72h3v3h-3zM78 75h3v3h-3zM33 78h3v3h-3zM126 78h3v3h-3zM6 81h3v3h-3zM114 81h3v3h-3zM81 84h3v3h-3zM99 84h3v3h-3zM84 87h3v3h-3zM27 90h3v3h-3zM45 90h3v3h-3zM93 90h3v3h-3zM144 90h3v3h-3zM138 93h3v3h-3zM6 96h3v3h-3zM48 96h3v3h-3zM72 96h3v3h-3zM81 96h3v3h-3zM141 96h3v3h-3zM3 99h3v3h-3zM48 99h3v3h-3zM111 99h3v3h-3zM90 102h3v3h-3zM99 102h3v3h-3zM126 102h3v3h-3zM147 102h3v3h-3zM123 105h3v3h-3zM42 108h3v3h-3zM63 108h3v3h-3zM66 108h3v3h-3zM12 111h3v3h-3zM135 111h3v3h-3zM102 114h3v3h-3zM147 114h3v3h-3zM36 117h3v3h-3zM72 117h3v3h-3zM99 117h3v3h-3zM102 117h3v3h-3zM120 117h3v3h-3zM144 117h3v3h-3zM27 120h3v3h-3zM51 120h3v3h-3zM105 120h3v3h-3zM132 120h3v3h-3zM18 123h3v3h-3zM57 123h3v3h-3zM69 123h3v3h-3zM132 129h3v3h-3zM27 132h3v3h-3zM69 132h3v3h-3zM117 132h3v3h-3zM78 135h3v3h-3zM30 138h3v3h-3zM33 138h3v3h-3zM54 138h3v3h-3zM27 147h3v3h-3zM36 147h3v3h-3zM39 147h3v3h-3zM138 147h3v3h-3z"/>
<path fill="#b4b8b8" fill-opacity="0.30" d="M54 3h3v3h-3zM141 3h3v3h-3zM144 3h3v3h-3zM9 6h3v3h-3zM27 6h3v3h-3zM102 6h3v3h-3zM72 9h3v3h-3zM102 9h3v3h-3zM108 9h3v3h-3zM141 9h3v3h-3zM144 9h3v3h-3zM3 12h3v3h-3zM27 12h3v3h-3zM69 12h3v3h-3zM72 12h3v3h-3zM123 12h3v3h-3zM45 15h3v3h-3zM99 15h3v3h-3zM111 15h3v3h-3zM138 15h3v3h-3zM30 18h3v3h-3zM96 18h3v3h-3zM54 21h3v3h-3zM75 21h3v3h-3zM84 21h3v3h-3zM141 21h3v3h-3zM6 24h3v3h-3zM9 24h3v3h-3zM132 27h3v3h-3zM63 30h3v3h-3zM69 30h3v3h-3zM81 30h3v3h-3zM105 30h3v3h-3zM144 30h3v3h-3zM15 33h3v3h-3zM84 33h3v3h-3zM42 36h3v3h-3zM66 36h3v3h-3zM123 36h3v3h-3zM75 39h3v3h-3zM84 42h3v3h-3zM18 45h3v3h-3zM21 48h3v3h-3zM66 48h3v3h-3zM72 48h3v3h-3zM0 51h3v3h-3zM30 51h3v3h-3zM129 51h3v3h-3zM138 51h3v3h-3zM57 54h3v3h-3zM144 54h3v3h-3zM99 57h3v3h-3zM105 57h3v3h-3zM120 57h3v3h-3zM144 57h3v3h-3zM63 60h3v3h-3zM36 63h3v3h-3zM78 63h3v3h-3zM60 66h3v3h-3zM63 66h3v3h-3zM117 66h3v3h-3zM138 66h3v3h-3zM54 69h3v3h-3zM57 69h3v3h-3zM78 69h3v3h-3zM81 69h3v3h-3zM114 69h3v3h-3zM27 72h3v3h-3zM126 72h3v3h-3zM3 75h3v3h-3zM6 75h3v3h-3zM90 75h3v3h-3zM138 75h3v3h-3zM147 75h3v3h-3zM15 78h3v3h-3zM36 78h3v3h-3zM54 78h3v3h-3zM0 81h3v3h-3zM90 81h3v3h-3zM108 81h3v3h-3zM0 84h3v3h-3zM36 84h3v3h-3zM48 84h3v3h-3zM51 84h3v3h-3zM84 84h3v3h-3zM87 84h3v3h-3zM138 84h3v3h-3zM54 87h3v3h-3zM33 90h3v3h-3zM51 90h3v3h-3zM60 90h3v3h-3zM117 90h3v3h-3zM138 90h3v3h-3zM18 93h3v3h-3zM24 93h3v3h-3zM111 93h3v3h-3zM135 93h3v3h-3zM42 96h3v3h-3zM54 96h3v3h-3zM57 96h3v3h-3zM126 96h3v3h-3zM135 96h3v3h-3zM93 99h3v3h-3zM117 99h3v3h-3zM135 99h3v3h-3zM6 102h3v3h-3zM12 102h3v3h-3zM45 102h3v3h-3zM114 102h3v3h-3zM45 105h3v3h-3zM51 105h3v3h-3zM15 108h3v3h-3zM129 111h3v3h-3zM3 120h3v3h-3zM9 120h3v3h-3zM12 120h3v3h-3zM42 120h3v3h-3zM66 120h3v3h-3zM51 123h3v3h-3zM21 126h3v3h-3zM42 126h3v3h-3zM72 126h3v3h-3zM111 126h3v3h-3zM15 129h3v3h-3zM111 129h3v3h-3zM117 129h3v3h-3zM120 129h3v3h-3zM48 135h3v3h-3zM54 135h3v3h-3zM75 135h3v3h-3zM0 138h3v3h-3zM66 138h3v3h-3zM45 141h3v3h-3zM141 141h3v3h-3zM0 144h3v3h-3zM36 144h3v3h-3zM42 144h3v3h-3z"/>
<path fill="#b4b8b8" fill-opacity="0.36" d="M9 0h3v3h-3zM120 0h3v3h-3zM147 0h3v3h-3zM138 3h3v3h-3zM48 6h3v3h-3zM69 6h3v3h-3zM99 6h3v3h-3zM111 6h3v3h-3zM123 6h3v3h-3zM144 6h3v3h-3zM54 9h3v3h-3zM60 9h3v3h-3zM117 9h3v3h-3zM0 12h3v3h-3zM6 12h3v3h-3zM24 12h3v3h-3zM51 12h3v3h-3zM90 12h3v3h-3zM147 12h3v3h-3zM69 15h3v3h-3zM84 15h3v3h-3zM87 15h3v3h-3zM141 15h3v3h-3zM21 18h3v3h-3zM99 18h3v3h-3zM27 21h3v3h-3zM30 21h3v3h-3zM15 24h3v3h-3zM48 24h3v3h-3zM81 24h3v3h-3zM141 24h3v3h-3zM39 27h3v3h-3zM114 27h3v3h-3zM78 30h3v3h-3zM132 30h3v3h-3zM117 33h3v3h-3zM123 33h3v3h-3zM84 36h3v3h-3zM54 39h3v3h-3zM105 39h3v3h-3zM81 42h3v3h-3zM105 42h3v3h-3zM138 42h3v3h-3zM33 48h3v3h-3zM69 48h3v3h-3zM141 48h3v3h-3zM21 51h3v3h-3zM33 51h3v3h-3zM45 51h3v3h-3zM102 54h3v3h-3zM117 57h3v3h-3zM132 57h3v3h-3zM138 57h3v3h-3zM111 60h3v3h-3zM117 60h3v3h-3zM0 63h3v3h-3zM132 63h3v3h-3zM27 66h3v3h-3zM75 66h3v3h-3zM126 66h3v3h-3zM27 69h3v3h-3zM147 69h3v3h-3zM66 72h3v3h-3zM60 75h3v3h-3zM141 75h3v3h-3zM90 78h3v3h-3zM81 81h3v3h-3zM84 81h3v3h-3zM126 81h3v3h-3zM75 84h3v3h-3zM123 84h3v3h-3zM30 87h3v3h-3zM75 87h3v3h-3zM6 90h3v3h-3zM66 90h3v3h-3zM135 90h3v3h-3zM3 93h3v3h-3zM60 93h3v3h-3zM108 96h3v3h-3zM6 99h3v3h-3zM63 99h3v3h-3zM84 99h3v3h-3zM42 102h3v3h-3zM63 102h3v3h-3zM111 102h3v3h-3zM135 102h3v3h-3zM60 105h3v3h-3zM63 105h3v3h-3zM54 108h3v3h-3zM81 108h3v3h-3zM117 108h3v3h-3zM0 111h3v3h-3zM21 111h3v3h-3zM63 111h3v3h-3zM123 111h3v3h-3zM66 114h3v3h-3zM75 117h3v3h-3zM135 117h3v3h-3zM78 120h3v3h-3zM111 120h3v3h-3zM123 120h3v3h-3zM144 120h3v3h-3zM3 123h3v3h-3zM30 123h3v3h-3zM108 123h3v3h-3zM126 126h3v3h-3zM132 126h3v3h-3zM135 126h3v3h-3zM18 129h3v3h-3zM24 129h3v3h-3zM45 129h3v3h-3zM54 129h3v3h-3zM99 129h3v3h-3zM114 129h3v3h-3zM30 132h3v3h-3zM102 132h3v3h-3zM132 132h3v3h-3zM141 132h3v3h-3zM126 135h3v3h-3zM147 135h3v3h-3zM141 138h3v3h-3zM138 144h3v3h-3zM144 147h3v3h-3zM147 147h3v3h-3z"/>
<path fill="#b4b8b8" fill-opacity="0.42" d="M96 0h3v3h-3zM144 0h3v3h-3zM6 3h3v3h-3zM27 3h3v3h-3zM63 3h3v3h-3zM78 3h3v3h-3zM87 3h3v3h-3zM102 3h3v3h-3zM147 3h3v3h-3zM87 9h3v3h-3zM129 12h3v3h-3zM138 12h3v3h-3zM144 12h3v3h-3zM3 15h3v3h-3zM123 15h3v3h-3zM51 18h3v3h-3zM54 18h3v3h-3zM102 18h3v3h-3zM81 21h3v3h-3zM21 24h3v3h-3zM123 24h3v3h-3zM18 27h3v3h-3zM30 27h3v3h-3zM51 27h3v3h-3zM54 27h3v3h-3zM84 27h3v3h-3zM48 33h3v3h-3zM54 36h3v3h-3zM111 36h3v3h-3zM135 36h3v3h-3zM39 39h3v3h-3zM51 39h3v3h-3zM93 39h3v3h-3zM120 39h3v3h-3zM69 42h3v3h-3zM12 45h3v3h-3zM63 48h3v3h-3zM123 48h3v3h-3zM81 54h3v3h-3zM147 54h3v3h-3zM132 60h3v3h-3zM66 63h3v3h-3zM45 69h3v3h-3zM33 72h3v3h-3zM36 72h3v3h-3zM141 72h3v3h-3zM123 75h3v3h-3zM135 75h3v3h-3zM6 78h3v3h-3zM9 78h3v3h-3zM18 78h3v3h-3zM129 78h3v3h-3zM120 81h3v3h-3zM3 84h3v3h-3zM9 84h3v3h-3zM0 87h3v3h-3zM45 87h3v3h-3zM87 87h3v3h-3zM90 87h3v3h-3zM93 87h3v3h-3zM54 90h3v3h-3zM15 93h3v3h-3zM27 93h3v3h-3zM54 93h3v3h-3zM141 93h3v3h-3zM144 93h3v3h-3zM3 96h3v3h-3zM9 96h3v3h-3zM60 96h3v3h-3zM132 96h3v3h-3zM138 96h3v3h-3zM90 99h3v3h-3zM108 99h3v3h-3zM111 105h3v3h-3zM114 105h3v3h-3zM129 105h3v3h-3zM0 108h3v3h-3zM69 108h3v3h-3zM114 108h3v3h-3zM45 111h3v3h-3zM69 111h3v3h-3zM3 114h3v3h-3zM9 114h3v3h-3zM12 114h3v3h-3zM63 114h3v3h-3zM18 117h3v3h-3zM27 117h3v3h-3zM45 117h3v3h-3zM66 117h3v3h-3zM114 117h3v3h-3zM6 120h3v3h-3zM24 120h3v3h-3zM30 120h3v3h-3zM72 120h3v3h-3zM126 120h3v3h-3zM6 123h3v3h-3zM42 123h3v3h-3zM81 123h3v3h-3zM114 123h3v3h-3zM129 123h3v3h-3zM9 126h3v3h-3zM45 126h3v3h-3zM54 126h3v3h-3zM63 126h3v3h-3zM78 126h3v3h-3zM120 126h3v3h-3zM84 129h3v3h-3zM147 129h3v3h-3zM9 132h3v3h-3zM12 132h3v3h-3zM21 132h3v3h-3zM114 132h3v3h-3zM138 132h3v3h-3zM144 132h3v3h-3zM147 132h3v3h-3zM72 138h3v3h-3zM135 138h3v3h-3zM18 141h3v3h-3zM33 141h3v3h-3zM123 144h3v3h-3zM24 147h3v3h-3zM30 147h3v3h-3zM84 147h3v3h-3zM123 147h3v3h-3zM135 147h3v3h-3z"/>
</pattern><pattern id="specks2" width="150" height="150" patternUnits="userSpaceOnUse">
<path fill="#b4b8b8" fill-opacity="0.06" d="M99 6h3v3h-3zM138 6h3v3h-3zM120 21h3v3h-3zM36 27h3v3h-3zM3 36h3v3h-3zM63 42h3v3h-3zM51 48h3v3h-3zM117 48h3v3h-3zM108 54h3v3h-3zM129 54h3v3h-3zM3 57h3v3h-3zM39 60h3v3h-3zM57 69h3v3h-3zM90 69h3v3h-3zM123 72h3v3h-3zM39 81h3v3h-3zM123 90h3v3h-3zM84 96h3v3h-3zM66 99h3v3h-3zM96 99h3v3h-3zM138 99h3v3h-3zM147 102h3v3h-3zM3 120h3v3h-3zM24 120h3v3h-3zM111 135h3v3h-3zM12 138h3v3h-3zM39 147h3v3h-3z"/>
<path fill="#b4b8b8" fill-opacity="0.12" d="M12 0h3v3h-3zM30 0h3v3h-3zM60 0h3v3h-3zM126 0h3v3h-3zM57 3h3v3h-3zM84 3h3v3h-3zM87 3h3v3h-3zM66 9h3v3h-3zM126 9h3v3h-3zM33 12h3v3h-3zM69 12h3v3h-3zM135 12h3v3h-3zM42 15h3v3h-3zM123 15h3v3h-3zM27 18h3v3h-3zM57 18h3v3h-3zM63 18h3v3h-3zM111 18h3v3h-3zM84 21h3v3h-3zM111 21h3v3h-3zM126 21h3v3h-3zM42 24h3v3h-3zM99 24h3v3h-3zM105 24h3v3h-3zM129 24h3v3h-3zM132 24h3v3h-3zM39 27h3v3h-3zM72 27h3v3h-3zM93 27h3v3h-3zM51 30h3v3h-3zM72 33h3v3h-3zM129 33h3v3h-3zM105 36h3v3h-3zM123 36h3v3h-3zM39 39h3v3h-3zM120 39h3v3h-3zM39 45h3v3h-3zM51 45h3v3h-3zM57 45h3v3h-3zM114 45h3v3h-3zM3 51h3v3h-3zM66 51h3v3h-3zM135 51h3v3h-3zM9 57h3v3h-3zM51 57h3v3h-3zM66 57h3v3h-3zM72 57h3v3h-3zM78 57h3v3h-3zM120 57h3v3h-3zM0 60h3v3h-3zM117 60h3v3h-3zM90 63h3v3h-3zM66 66h3v3h-3zM117 66h3v3h-3zM132 66h3v3h-3zM132 69h3v3h-3zM18 72h3v3h-3zM63 75h3v3h-3zM135 75h3v3h-3zM123 78h3v3h-3zM81 81h3v3h-3zM6 84h3v3h-3zM69 87h3v3h-3zM96 87h3v3h-3zM108 90h3v3h-3zM120 90h3v3h-3zM126 90h3v3h-3zM66 93h3v3h-3zM69 93h3v3h-3zM108 93h3v3h-3zM120 93h3v3h-3zM54 96h3v3h-3zM0 99h3v3h-3zM51 99h3v3h-3zM57 99h3v3h-3zM108 99h3v3h-3zM9 102h3v3h-3zM33 102h3v3h-3zM117 102h3v3h-3zM21 105h3v3h-3zM9 108h3v3h-3zM84 108h3v3h-3zM126 111h3v3h-3zM90 114h3v3h-3zM105 114h3v3h-3zM144 114h3v3h-3zM18 117h3v3h-3zM54 117h3v3h-3zM0 120h3v3h-3zM30 120h3v3h-3zM108 120h3v3h-3zM144 120h3v3h-3zM21 123h3v3h-3zM24 123h3v3h-3zM69 123h3v3h-3zM105 126h3v3h-3zM147 126h3v3h-3zM123 129h3v3h-3zM105 132h3v3h-3zM114 132h3v3h-3zM108 135h3v3h-3zM48 138h3v3h-3zM45 141h3v3h-3zM51 141h3v3h-3zM69 141h3v3h-3zM114 141h3v3h-3zM45 147h3v3h-3z"/>
<path fill="#b4b8b8" fill-opacity="0.18" d="M96 0h3v3h-3zM21 3h3v3h-3zM24 3h3v3h-3zM48 3h3v3h-3zM93 6h3v3h-3zM36 9h3v3h-3zM81 9h3v3h-3zM93 9h3v3h-3zM42 12h3v3h-3zM60 12h3v3h-3zM63 12h3v3h-3zM72 12h3v3h-3zM63 15h3v3h-3zM117 15h3v3h-3zM126 15h3v3h-3zM60 18h3v3h-3zM117 18h3v3h-3zM123 18h3v3h-3zM21 24h3v3h-3zM30 24h3v3h-3zM141 24h3v3h-3zM54 30h3v3h-3zM72 30h3v3h-3zM132 30h3v3h-3zM60 33h3v3h-3zM111 33h3v3h-3zM21 36h3v3h-3zM3 39h3v3h-3zM93 39h3v3h-3zM132 39h3v3h-3zM6 42h3v3h-3zM57 42h3v3h-3zM66 42h3v3h-3zM9 48h3v3h-3zM27 48h3v3h-3zM141 48h3v3h-3zM75 51h3v3h-3zM102 51h3v3h-3zM144 51h3v3h-3zM9 54h3v3h-3zM126 54h3v3h-3zM141 54h3v3h-3zM126 57h3v3h-3zM27 60h3v3h-3zM45 60h3v3h-3zM66 60h3v3h-3zM135 60h3v3h-3zM24 63h3v3h-3zM48 63h3v3h-3zM51 63h3v3h-3zM54 63h3v3h-3zM66 63h3v3h-3zM69 66h3v3h-3zM48 69h3v3h-3zM102 69h3v3h-3zM120 69h3v3h-3zM21 72h3v3h-3zM54 72h3v3h-3zM45 75h3v3h-3zM3 78h3v3h-3zM63 78h3v3h-3zM78 78h3v3h-3zM36 84h3v3h-3zM60 84h3v3h-3zM93 84h3v3h-3zM81 87h3v3h-3zM87 87h3v3h-3zM84 90h3v3h-3zM111 90h3v3h-3zM129 90h3v3h-3zM3 93h3v3h-3zM72 93h3v3h-3zM96 93h3v3h-3zM105 96h3v3h-3zM6 99h3v3h-3zM33 99h3v3h-3zM0 102h3v3h-3zM36 102h3v3h-3zM0 108h3v3h-3zM105 108h3v3h-3zM48 111h3v3h-3zM60 111h3v3h-3zM78 111h3v3h-3zM84 111h3v3h-3zM21 114h3v3h-3zM57 114h3v3h-3zM66 117h3v3h-3zM117 117h3v3h-3zM141 117h3v3h-3zM12 120h3v3h-3zM66 120h3v3h-3zM87 120h3v3h-3zM105 120h3v3h-3zM111 120h3v3h-3zM63 123h3v3h-3zM75 123h3v3h-3zM84 123h3v3h-3zM18 126h3v3h-3zM102 126h3v3h-3zM102 129h3v3h-3zM147 129h3v3h-3zM9 132h3v3h-3zM42 135h3v3h-3zM69 135h3v3h-3zM96 135h3v3h-3zM57 138h3v3h-3zM90 138h3v3h-3zM72 141h3v3h-3zM129 141h3v3h-3zM36 144h3v3h-3zM75 144h3v3h-3zM9 147h3v3h-3zM21 147h3v3h-3zM27 147h3v3h-3zM96 147h3v3h-3zM108 147h3v3h-3z"/>
<path fill="#b4b8b8" fill-opacity="0.24" d="M129 0h3v3h-3zM36 3h3v3h-3zM111 3h3v3h-3zM126 3h3v3h-3zM129 3h3v3h-3zM15 9h3v3h-3zM30 9h3v3h-3zM45 9h3v3h-3zM147 9h3v3h-3zM117 12h3v3h-3zM123 12h3v3h-3zM93 15h3v3h-3zM45 18h3v3h-3zM108 21h3v3h-3zM6 24h3v3h-3zM111 24h3v3h-3zM117 24h3v3h-3zM108 27h3v3h-3zM117 27h3v3h-3zM39 30h3v3h-3zM90 33h3v3h-3zM99 33h3v3h-3zM105 33h3v3h-3zM141 33h3v3h-3zM45 36h3v3h-3zM117 36h3v3h-3zM63 39h3v3h-3zM33 42h3v3h-3zM48 42h3v3h-3zM48 45h3v3h-3zM111 45h3v3h-3zM60 48h3v3h-3zM93 48h3v3h-3zM18 51h3v3h-3zM12 54h3v3h-3zM63 54h3v3h-3zM66 54h3v3h-3zM90 54h3v3h-3zM6 57h3v3h-3zM63 57h3v3h-3zM111 60h3v3h-3zM126 60h3v3h-3zM42 63h3v3h-3zM81 63h3v3h-3zM135 63h3v3h-3zM54 66h3v3h-3zM60 66h3v3h-3zM24 69h3v3h-3zM9 72h3v3h-3zM126 72h3v3h-3zM129 72h3v3h-3zM12 75h3v3h-3zM129 75h3v3h-3zM126 78h3v3h-3zM144 78h3v3h-3zM42 81h3v3h-3zM129 81h3v3h-3zM15 84h3v3h-3zM57 84h3v3h-3zM132 84h3v3h-3zM147 87h3v3h-3zM51 90h3v3h-3zM99 90h3v3h-3zM30 99h3v3h-3zM60 99h3v3h-3zM141 99h3v3h-3zM6 102h3v3h-3zM75 102h3v3h-3zM15 105h3v3h-3zM105 105h3v3h-3zM108 105h3v3h-3zM6 108h3v3h-3zM60 108h3v3h-3zM24 114h3v3h-3zM66 114h3v3h-3zM78 114h3v3h-3zM123 114h3v3h-3zM27 117h3v3h-3zM87 117h3v3h-3zM27 120h3v3h-3zM63 120h3v3h-3zM141 120h3v3h-3zM120 123h3v3h-3zM36 126h3v3h-3zM48 129h3v3h-3zM33 132h3v3h-3zM72 132h3v3h-3zM108 132h3v3h-3zM138 132h3v3h-3zM123 135h3v3h-3zM39 141h3v3h-3zM75 141h3v3h-3zM0 144h3v3h-3zM45 144h3v3h-3zM72 144h3v3h-3zM12 147h3v3h-3zM63 147h3v3h-3zM141 147h3v3h-3z"/>
<path fill="#b4b8b8" fill-opacity="0.30" d="M39 0h3v3h-3zM105 3h3v3h-3zM0 6h3v3h-3zM27 6h3v3h-3zM60 6h3v3h-3zM90 6h3v3h-3zM12 9h3v3h-3zM102 9h3v3h-3zM105 9h3v3h-3zM129 9h3v3h-3zM12 12h3v3h-3zM45 15h3v3h-3zM66 15h3v3h-3zM21 18h3v3h-3zM72 18h3v3h-3zM78 18h3v3h-3zM108 18h3v3h-3zM99 21h3v3h-3zM117 21h3v3h-3zM123 24h3v3h-3zM126 24h3v3h-3zM45 27h3v3h-3zM147 27h3v3h-3zM3 30h3v3h-3zM12 30h3v3h-3zM126 30h3v3h-3zM75 33h3v3h-3zM78 33h3v3h-3zM36 36h3v3h-3zM54 36h3v3h-3zM72 36h3v3h-3zM75 36h3v3h-3zM114 36h3v3h-3zM75 39h3v3h-3zM99 39h3v3h-3zM108 42h3v3h-3zM6 45h3v3h-3zM27 45h3v3h-3zM12 48h3v3h-3zM129 48h3v3h-3zM9 51h3v3h-3zM12 51h3v3h-3zM33 51h3v3h-3zM3 54h3v3h-3zM6 54h3v3h-3zM72 54h3v3h-3zM30 57h3v3h-3zM45 57h3v3h-3zM84 57h3v3h-3zM90 57h3v3h-3zM132 57h3v3h-3zM6 60h3v3h-3zM42 60h3v3h-3zM54 60h3v3h-3zM69 60h3v3h-3zM75 60h3v3h-3zM90 60h3v3h-3zM99 60h3v3h-3zM12 72h3v3h-3zM81 72h3v3h-3zM33 75h3v3h-3zM141 75h3v3h-3zM84 78h3v3h-3zM21 81h3v3h-3zM27 81h3v3h-3zM96 81h3v3h-3zM120 81h3v3h-3zM84 84h3v3h-3zM90 84h3v3h-3zM30 87h3v3h-3zM108 87h3v3h-3zM141 87h3v3h-3zM87 90h3v3h-3zM90 90h3v3h-3zM18 93h3v3h-3zM93 93h3v3h-3zM39 96h3v3h-3zM51 96h3v3h-3zM66 96h3v3h-3zM123 96h3v3h-3zM138 96h3v3h-3zM147 96h3v3h-3zM39 99h3v3h-3zM75 99h3v3h-3zM120 99h3v3h-3zM144 99h3v3h-3zM39 102h3v3h-3zM126 102h3v3h-3zM51 105h3v3h-3zM123 105h3v3h-3zM144 105h3v3h-3zM3 111h3v3h-3zM6 111h3v3h-3zM63 111h3v3h-3zM75 111h3v3h-3zM90 111h3v3h-3zM96 111h3v3h-3zM111 114h3v3h-3zM126 114h3v3h-3zM69 117h3v3h-3zM69 120h3v3h-3zM18 123h3v3h-3zM27 123h3v3h-3zM45 123h3v3h-3zM123 123h3v3h-3zM144 123h3v3h-3zM27 126h3v3h-3zM15 129h3v3h-3zM30 129h3v3h-3zM33 129h3v3h-3zM21 132h3v3h-3zM66 132h3v3h-3zM90 132h3v3h-3zM126 132h3v3h-3zM72 135h3v3h-3zM90 135h3v3h-3zM117 135h3v3h-3zM96 138h3v3h-3zM111 138h3v3h-3zM108 141h3v3h-3zM87 144h3v3h-3zM147 144h3v3h-3zM54 147h3v3h-3zM66 147h3v3h-3z"/>
<path fill="#b4b8b8" fill-opacity="0.36" d="M42 0h3v3h-3zM72 0h3v3h-3zM42 3h3v3h-3zM63 3h3v3h-3zM24 6h3v3h-3zM129 6h3v3h-3zM30 12h3v3h-3zM24 15h3v3h-3zM36 15h3v3h-3zM72 15h3v3h-3zM6 18h3v3h-3zM18 21h3v3h-3zM96 21h3v3h-3zM114 21h3v3h-3zM87 24h3v3h-3zM93 24h3v3h-3zM135 24h3v3h-3zM42 27h3v3h-3zM48 27h3v3h-3zM96 27h3v3h-3zM93 30h3v3h-3zM45 33h3v3h-3zM102 33h3v3h-3zM12 36h3v3h-3zM135 36h3v3h-3zM42 39h3v3h-3zM66 39h3v3h-3zM108 39h3v3h-3zM18 42h3v3h-3zM102 42h3v3h-3zM42 48h3v3h-3zM102 48h3v3h-3zM138 48h3v3h-3zM60 54h3v3h-3zM12 57h3v3h-3zM105 57h3v3h-3zM78 60h3v3h-3zM105 60h3v3h-3zM120 60h3v3h-3zM75 63h3v3h-3zM6 66h3v3h-3zM45 66h3v3h-3zM99 66h3v3h-3zM108 66h3v3h-3zM126 66h3v3h-3zM108 69h3v3h-3zM24 72h3v3h-3zM57 72h3v3h-3zM63 72h3v3h-3zM96 72h3v3h-3zM138 72h3v3h-3zM18 78h3v3h-3zM132 81h3v3h-3zM147 81h3v3h-3zM39 87h3v3h-3zM0 90h3v3h-3zM21 90h3v3h-3zM48 90h3v3h-3zM27 93h3v3h-3zM147 93h3v3h-3zM87 96h3v3h-3zM111 96h3v3h-3zM117 96h3v3h-3zM3 99h3v3h-3zM9 99h3v3h-3zM54 99h3v3h-3zM69 102h3v3h-3zM81 102h3v3h-3zM114 102h3v3h-3zM123 102h3v3h-3zM141 102h3v3h-3zM30 105h3v3h-3zM33 105h3v3h-3zM36 105h3v3h-3zM114 105h3v3h-3zM72 108h3v3h-3zM78 108h3v3h-3zM108 108h3v3h-3zM129 108h3v3h-3zM15 111h3v3h-3zM51 111h3v3h-3zM108 111h3v3h-3zM24 117h3v3h-3zM30 123h3v3h-3zM3 126h3v3h-3zM6 126h3v3h-3zM42 126h3v3h-3zM6 129h3v3h-3zM42 129h3v3h-3zM105 129h3v3h-3zM141 129h3v3h-3zM24 135h3v3h-3zM30 135h3v3h-3zM60 135h3v3h-3zM144 135h3v3h-3zM111 141h3v3h-3zM120 141h3v3h-3z"/>
<path fill="#b4b8b8" fill-opacity="0.42" d="M39 3h3v3h-3zM123 3h3v3h-3zM120 6h3v3h-3zM123 6h3v3h-3zM63 9h3v3h-3zM117 9h3v3h-3zM27 15h3v3h-3zM69 15h3v3h-3zM69 18h3v3h-3zM75 18h3v3h-3zM81 18h3v3h-3zM102 18h3v3h-3zM114 18h3v3h-3zM21 21h3v3h-3zM45 24h3v3h-3zM60 27h3v3h-3zM18 30h3v3h-3zM114 30h3v3h-3zM135 30h3v3h-3zM21 33h3v3h-3zM51 33h3v3h-3zM57 33h3v3h-3zM132 33h3v3h-3zM144 33h3v3h-3zM78 36h3v3h-3zM108 36h3v3h-3zM132 36h3v3h-3zM69 39h3v3h-3zM84 39h3v3h-3zM9 45h3v3h-3zM99 45h3v3h-3zM30 48h3v3h-3zM33 48h3v3h-3zM63 48h3v3h-3zM24 54h3v3h-3zM45 54h3v3h-3zM60 57h3v3h-3zM81 57h3v3h-3zM96 57h3v3h-3zM108 57h3v3h-3zM123 57h3v3h-3zM84 60h3v3h-3zM144 60h3v3h-3zM27 63h3v3h-3zM60 63h3v3h-3zM108 63h3v3h-3zM129 66h3v3h-3zM12 69h3v3h-3zM27 69h3v3h-3zM129 69h3v3h-3zM0 75h3v3h-3zM30 75h3v3h-3zM90 75h3v3h-3zM126 75h3v3h-3zM51 78h3v3h-3zM81 78h3v3h-3zM147 78h3v3h-3zM66 81h3v3h-3zM63 84h3v3h-3zM108 84h3v3h-3zM147 84h3v3h-3zM63 87h3v3h-3zM39 90h3v3h-3zM69 90h3v3h-3zM57 96h3v3h-3zM96 96h3v3h-3zM108 96h3v3h-3zM141 96h3v3h-3zM12 99h3v3h-3zM15 99h3v3h-3zM93 99h3v3h-3zM105 102h3v3h-3zM75 105h3v3h-3zM126 105h3v3h-3zM129 105h3v3h-3zM33 108h3v3h-3zM57 108h3v3h-3zM66 111h3v3h-3zM81 111h3v3h-3zM105 111h3v3h-3zM3 114h3v3h-3zM75 114h3v3h-3zM108 114h3v3h-3zM15 117h3v3h-3zM30 117h3v3h-3zM126 117h3v3h-3zM9 120h3v3h-3zM123 120h3v3h-3zM51 123h3v3h-3zM66 123h3v3h-3zM78 123h3v3h-3zM75 126h3v3h-3zM3 129h3v3h-3zM9 129h3v3h-3zM27 129h3v3h-3zM93 129h3v3h-3zM87 132h3v3h-3zM99 135h3v3h-3zM72 138h3v3h-3zM48 144h3v3h-3zM81 144h3v3h-3zM123 144h3v3h-3zM120 147h3v3h-3z"/>
<path fill="#b4b8b8" fill-opacity="0.48" d="M0 0h3v3h-3zM15 0h3v3h-3zM9 6h3v3h-3zM21 6h3v3h-3zM87 9h3v3h-3zM123 9h3v3h-3zM135 9h3v3h-3zM108 15h3v3h-3zM24 18h3v3h-3zM105 18h3v3h-3zM120 18h3v3h-3zM45 21h3v3h-3zM63 21h3v3h-3zM51 24h3v3h-3zM99 27h3v3h-3zM126 27h3v3h-3zM129 27h3v3h-3zM102 30h3v3h-3zM129 30h3v3h-3zM15 33h3v3h-3zM108 33h3v3h-3zM114 33h3v3h-3zM126 33h3v3h-3zM30 36h3v3h-3zM84 36h3v3h-3zM129 36h3v3h-3zM147 36h3v3h-3zM81 39h3v3h-3zM0 42h3v3h-3zM3 42h3v3h-3zM9 42h3v3h-3zM15 42h3v3h-3zM30 42h3v3h-3zM39 42h3v3h-3zM51 42h3v3h-3zM96 42h3v3h-3zM117 42h3v3h-3zM120 42h3v3h-3zM60 45h3v3h-3zM63 45h3v3h-3zM123 45h3v3h-3zM138 45h3v3h-3zM39 48h3v3h-3zM96 48h3v3h-3zM135 48h3v3h-3zM81 51h3v3h-3zM102 54h3v3h-3zM132 54h3v3h-3zM15 57h3v3h-3zM48 57h3v3h-3zM114 57h3v3h-3zM141 57h3v3h-3zM3 60h3v3h-3zM114 60h3v3h-3zM105 63h3v3h-3zM111 63h3v3h-3zM57 66h3v3h-3zM90 66h3v3h-3zM45 69h3v3h-3zM135 69h3v3h-3zM93 72h3v3h-3zM117 78h3v3h-3zM45 81h3v3h-3zM144 81h3v3h-3zM0 84h3v3h-3zM9 84h3v3h-3zM24 84h3v3h-3zM120 84h3v3h-3zM126 84h3v3h-3zM42 87h3v3h-3zM66 87h3v3h-3zM147 90h3v3h-3zM30 93h3v3h-3zM36 93h3v3h-3zM132 93h3v3h-3zM6 96h3v3h-3zM120 96h3v3h-3zM78 99h3v3h-3zM84 99h3v3h-3zM117 99h3v3h-3zM129 99h3v3h-3zM147 99h3v3h-3zM48 102h3v3h-3zM78 102h3v3h-3zM63 105h3v3h-3zM111 105h3v3h-3zM141 105h3v3h-3zM54 108h3v3h-3zM117 108h3v3h-3zM123 108h3v3h-3zM12 111h3v3h-3zM18 114h3v3h-3zM81 114h3v3h-3zM75 117h3v3h-3zM135 117h3v3h-3zM147 117h3v3h-3zM12 123h3v3h-3zM60 123h3v3h-3zM33 126h3v3h-3zM66 126h3v3h-3zM108 126h3v3h-3zM39 129h3v3h-3zM39 132h3v3h-3zM141 132h3v3h-3zM33 135h3v3h-3zM108 138h3v3h-3zM57 141h3v3h-3zM78 141h3v3h-3zM132 141h3v3h-3zM42 144h3v3h-3zM60 144h3v3h-3zM105 144h3v3h-3zM111 144h3v3h-3zM42 147h3v3h-3z"/>
<path fill="#b4b8b8" fill-opacity="0.54" d="M63 0h3v3h-3zM123 0h3v3h-3zM30 3h3v3h-3zM114 3h3v3h-3zM102 6h3v3h-3zM9 9h3v3h-3zM27 12h3v3h-3zM141 12h3v3h-3zM60 15h3v3h-3zM75 15h3v3h-3zM30 18h3v3h-3zM66 18h3v3h-3zM30 21h3v3h-3zM75 21h3v3h-3zM93 21h3v3h-3zM129 21h3v3h-3zM60 24h3v3h-3zM0 27h3v3h-3zM54 27h3v3h-3zM114 27h3v3h-3zM42 30h3v3h-3zM96 30h3v3h-3zM141 30h3v3h-3zM6 33h3v3h-3zM69 33h3v3h-3zM135 33h3v3h-3zM18 36h3v3h-3zM90 36h3v3h-3zM9 39h3v3h-3zM36 39h3v3h-3zM78 39h3v3h-3zM129 39h3v3h-3zM81 42h3v3h-3zM45 45h3v3h-3zM81 45h3v3h-3zM120 45h3v3h-3zM24 48h3v3h-3zM114 48h3v3h-3zM60 51h3v3h-3zM69 51h3v3h-3zM105 51h3v3h-3zM27 54h3v3h-3zM99 54h3v3h-3zM147 57h3v3h-3zM9 60h3v3h-3zM15 60h3v3h-3zM81 60h3v3h-3zM63 66h3v3h-3zM93 66h3v3h-3zM96 66h3v3h-3zM6 69h3v3h-3zM51 69h3v3h-3zM105 69h3v3h-3zM117 69h3v3h-3zM123 69h3v3h-3zM48 72h3v3h-3zM60 72h3v3h-3zM108 72h3v3h-3zM111 72h3v3h-3zM39 75h3v3h-3zM51 75h3v3h-3zM54 75h3v3h-3zM132 75h3v3h-3zM27 78h3v3h-3zM54 78h3v3h-3zM87 78h3v3h-3zM96 78h3v3h-3zM9 81h3v3h-3zM141 81h3v3h-3zM66 84h3v3h-3zM96 84h3v3h-3zM102 87h3v3h-3zM6 90h3v3h-3zM63 90h3v3h-3zM51 93h3v3h-3zM54 93h3v3h-3zM144 93h3v3h-3zM3 96h3v3h-3zM27 102h3v3h-3zM45 102h3v3h-3zM87 102h3v3h-3zM120 102h3v3h-3zM129 102h3v3h-3zM111 108h3v3h-3zM120 108h3v3h-3zM135 108h3v3h-3zM27 111h3v3h-3zM69 111h3v3h-3zM33 114h3v3h-3zM54 114h3v3h-3zM72 114h3v3h-3zM84 114h3v3h-3zM90 117h3v3h-3zM93 117h3v3h-3zM111 117h3v3h-3zM144 117h3v3h-3zM21 120h3v3h-3zM57 120h3v3h-3zM147 120h3v3h-3zM141 126h3v3h-3zM75 129h3v3h-3zM96 129h3v3h-3zM126 129h3v3h-3zM144 129h3v3h-3zM3 132h3v3h-3zM6 132h3v3h-3zM24 132h3v3h-3zM27 132h3v3h-3zM30 132h3v3h-3zM54 132h3v3h-3zM96 132h3v3h-3zM120 132h3v3h-3zM93 135h3v3h-3zM102 138h3v3h-3zM120 138h3v3h-3zM144 138h3v3h-3zM33 141h3v3h-3zM42 141h3v3h-3zM54 141h3v3h-3zM6 144h3v3h-3zM6 147h3v3h-3z"/>
<path fill="#b4b8b8" fill-opacity="0.60" d="M9 0h3v3h-3zM66 0h3v3h-3zM120 0h3v3h-3zM72 3h3v3h-3zM12 6h3v3h-3zM18 6h3v3h-3zM33 6h3v3h-3zM63 6h3v3h-3zM105 6h3v3h-3zM24 9h3v3h-3zM33 9h3v3h-3zM54 9h3v3h-3zM21 12h3v3h-3zM39 12h3v3h-3zM93 12h3v3h-3zM132 12h3v3h-3zM135 18h3v3h-3zM66 21h3v3h-3zM72 21h3v3h-3zM123 21h3v3h-3zM15 24h3v3h-3zM27 24h3v3h-3zM24 27h3v3h-3zM105 27h3v3h-3zM111 27h3v3h-3zM123 27h3v3h-3zM132 27h3v3h-3zM147 30h3v3h-3zM33 33h3v3h-3zM54 33h3v3h-3zM39 36h3v3h-3zM48 36h3v3h-3zM87 36h3v3h-3zM141 36h3v3h-3zM51 39h3v3h-3zM54 45h3v3h-3zM6 51h3v3h-3zM57 51h3v3h-3zM63 51h3v3h-3zM138 57h3v3h-3zM51 60h3v3h-3zM87 60h3v3h-3zM3 63h3v3h-3zM15 63h3v3h-3zM21 63h3v3h-3zM45 63h3v3h-3zM87 63h3v3h-3zM96 63h3v3h-3zM141 63h3v3h-3zM51 66h3v3h-3zM105 66h3v3h-3zM54 69h3v3h-3zM93 69h3v3h-3zM114 69h3v3h-3zM105 72h3v3h-3zM135 72h3v3h-3zM18 75h3v3h-3zM78 75h3v3h-3zM0 78h3v3h-3zM39 78h3v3h-3zM93 78h3v3h-3zM132 78h3v3h-3zM33 81h3v3h-3zM21 84h3v3h-3zM81 84h3v3h-3zM90 87h3v3h-3zM105 87h3v3h-3zM132 87h3v3h-3zM33 90h3v3h-3zM36 90h3v3h-3zM24 93h3v3h-3zM114 93h3v3h-3zM117 93h3v3h-3zM0 96h3v3h-3zM36 96h3v3h-3zM90 96h3v3h-3zM102 99h3v3h-3zM123 99h3v3h-3zM126 99h3v3h-3zM72 102h3v3h-3zM99 102h3v3h-3zM66 105h3v3h-3zM90 105h3v3h-3zM99 105h3v3h-3zM66 108h3v3h-3zM72 111h3v3h-3zM114 111h3v3h-3zM12 114h3v3h-3zM63 114h3v3h-3zM147 114h3v3h-3zM21 117h3v3h-3zM54 120h3v3h-3zM90 120h3v3h-3zM30 126h3v3h-3zM72 126h3v3h-3zM78 126h3v3h-3zM36 129h3v3h-3zM12 132h3v3h-3zM51 132h3v3h-3zM123 132h3v3h-3zM75 135h3v3h-3zM114 138h3v3h-3zM30 144h3v3h-3zM39 144h3v3h-3zM117 144h3v3h-3zM120 144h3v3h-3zM126 144h3v3h-3zM57 147h3v3h-3zM114 147h3v3h-3zM123 147h3v3h-3zM147 147h3v3h-3z"/>
<path fill="#b4b8b8" fill-opacity="0.66" d="M27 0h3v3h-3zM99 0h3v3h-3zM60 9h3v3h-3zM141 9h3v3h-3zM18 12h3v3h-3zM24 12h3v3h-3zM36 12h3v3h-3zM57 12h3v3h-3zM126 12h3v3h-3zM30 15h3v3h-3zM39 15h3v3h-3zM78 15h3v3h-3zM12 18h3v3h-3zM60 21h3v3h-3zM87 21h3v3h-3zM102 21h3v3h-3zM24 24h3v3h-3zM33 24h3v3h-3zM57 24h3v3h-3zM75 24h3v3h-3zM120 24h3v3h-3zM144 24h3v3h-3zM75 27h3v3h-3zM0 30h3v3h-3zM99 30h3v3h-3zM144 30h3v3h-3zM96 33h3v3h-3zM21 39h3v3h-3zM72 42h3v3h-3zM114 42h3v3h-3zM129 42h3v3h-3zM102 45h3v3h-3zM132 45h3v3h-3zM135 45h3v3h-3zM6 48h3v3h-3zM15 48h3v3h-3zM87 48h3v3h-3zM99 51h3v3h-3zM33 54h3v3h-3zM48 54h3v3h-3zM69 54h3v3h-3zM120 54h3v3h-3zM123 54h3v3h-3zM18 57h3v3h-3zM42 57h3v3h-3zM57 60h3v3h-3zM147 60h3v3h-3zM126 63h3v3h-3zM48 66h3v3h-3zM114 66h3v3h-3zM126 69h3v3h-3zM45 72h3v3h-3zM84 72h3v3h-3zM87 72h3v3h-3zM90 72h3v3h-3zM48 75h3v3h-3zM66 75h3v3h-3zM105 75h3v3h-3zM33 78h3v3h-3zM135 78h3v3h-3zM0 81h3v3h-3zM30 81h3v3h-3zM36 81h3v3h-3zM90 81h3v3h-3zM99 81h3v3h-3zM39 84h3v3h-3zM129 84h3v3h-3zM12 87h3v3h-3zM15 87h3v3h-3zM126 87h3v3h-3zM129 87h3v3h-3zM87 93h3v3h-3zM99 93h3v3h-3zM102 93h3v3h-3zM93 96h3v3h-3zM99 96h3v3h-3zM126 96h3v3h-3zM105 99h3v3h-3zM63 102h3v3h-3zM78 105h3v3h-3zM81 105h3v3h-3zM132 105h3v3h-3zM36 108h3v3h-3zM63 108h3v3h-3zM147 108h3v3h-3zM93 111h3v3h-3zM15 114h3v3h-3zM51 114h3v3h-3zM114 114h3v3h-3zM60 117h3v3h-3zM63 117h3v3h-3zM120 117h3v3h-3zM39 123h3v3h-3zM147 123h3v3h-3zM51 126h3v3h-3zM60 126h3v3h-3zM24 129h3v3h-3zM87 129h3v3h-3zM108 129h3v3h-3zM75 132h3v3h-3zM144 132h3v3h-3zM147 132h3v3h-3zM54 135h3v3h-3zM114 135h3v3h-3zM120 135h3v3h-3zM42 138h3v3h-3zM0 141h3v3h-3zM87 141h3v3h-3zM3 144h3v3h-3zM33 144h3v3h-3zM84 144h3v3h-3zM36 147h3v3h-3z"/>
<path fill="#b4b8b8" fill-opacity="0.72" d="M45 0h3v3h-3zM144 0h3v3h-3zM27 3h3v3h-3zM51 3h3v3h-3zM111 6h3v3h-3zM57 9h3v3h-3zM96 9h3v3h-3zM15 12h3v3h-3zM66 12h3v3h-3zM90 12h3v3h-3zM120 12h3v3h-3zM21 15h3v3h-3zM33 18h3v3h-3zM24 21h3v3h-3zM48 24h3v3h-3zM102 24h3v3h-3zM9 36h3v3h-3zM57 36h3v3h-3zM6 39h3v3h-3zM48 39h3v3h-3zM105 39h3v3h-3zM12 42h3v3h-3zM90 42h3v3h-3zM141 42h3v3h-3zM96 45h3v3h-3zM48 48h3v3h-3zM144 48h3v3h-3zM147 48h3v3h-3zM132 51h3v3h-3zM30 54h3v3h-3zM57 54h3v3h-3zM144 54h3v3h-3zM102 57h3v3h-3zM30 60h3v3h-3zM33 60h3v3h-3zM60 60h3v3h-3zM63 60h3v3h-3zM72 60h3v3h-3zM30 63h3v3h-3zM36 63h3v3h-3zM57 63h3v3h-3zM63 63h3v3h-3zM69 63h3v3h-3zM99 63h3v3h-3zM102 63h3v3h-3zM135 66h3v3h-3zM66 69h3v3h-3zM99 69h3v3h-3zM27 72h3v3h-3zM51 72h3v3h-3zM15 75h3v3h-3zM27 75h3v3h-3zM30 78h3v3h-3zM102 78h3v3h-3zM129 78h3v3h-3zM3 81h3v3h-3zM54 81h3v3h-3zM63 81h3v3h-3zM84 81h3v3h-3zM27 84h3v3h-3zM30 84h3v3h-3zM51 84h3v3h-3zM78 84h3v3h-3zM48 87h3v3h-3zM84 87h3v3h-3zM105 90h3v3h-3zM33 93h3v3h-3zM111 93h3v3h-3zM24 96h3v3h-3zM69 96h3v3h-3zM75 96h3v3h-3zM81 96h3v3h-3zM27 99h3v3h-3zM42 102h3v3h-3zM48 105h3v3h-3zM54 105h3v3h-3zM15 108h3v3h-3zM51 108h3v3h-3zM75 108h3v3h-3zM126 108h3v3h-3zM132 108h3v3h-3zM102 111h3v3h-3zM27 114h3v3h-3zM0 117h3v3h-3zM12 117h3v3h-3zM57 117h3v3h-3zM84 117h3v3h-3zM123 117h3v3h-3zM84 120h3v3h-3zM72 123h3v3h-3zM90 123h3v3h-3zM39 126h3v3h-3zM63 126h3v3h-3zM87 126h3v3h-3zM45 129h3v3h-3zM111 129h3v3h-3zM42 132h3v3h-3zM45 132h3v3h-3zM93 132h3v3h-3zM99 132h3v3h-3zM27 138h3v3h-3zM45 138h3v3h-3zM54 138h3v3h-3zM99 138h3v3h-3zM84 141h3v3h-3zM99 141h3v3h-3zM117 141h3v3h-3zM123 141h3v3h-3zM93 144h3v3h-3zM129 144h3v3h-3zM24 147h3v3h-3zM117 147h3v3h-3z"/>
<path fill="#b4b8b8" fill-opacity="0.78" d="M3 0h3v3h-3zM24 0h3v3h-3zM36 0h3v3h-3zM12 3h3v3h-3zM60 3h3v3h-3zM15 6h3v3h-3zM36 6h3v3h-3zM51 6h3v3h-3zM57 6h3v3h-3zM96 6h3v3h-3zM39 9h3v3h-3zM120 9h3v3h-3zM33 15h3v3h-3zM0 24h3v3h-3zM114 24h3v3h-3zM57 27h3v3h-3zM87 27h3v3h-3zM135 27h3v3h-3zM48 30h3v3h-3zM75 30h3v3h-3zM117 33h3v3h-3zM69 36h3v3h-3zM12 39h3v3h-3zM45 39h3v3h-3zM111 42h3v3h-3zM12 45h3v3h-3zM15 45h3v3h-3zM33 45h3v3h-3zM72 45h3v3h-3zM45 48h3v3h-3zM126 48h3v3h-3zM138 51h3v3h-3zM69 57h3v3h-3zM48 60h3v3h-3zM78 63h3v3h-3zM129 63h3v3h-3zM138 63h3v3h-3zM9 66h3v3h-3zM81 66h3v3h-3zM138 66h3v3h-3zM60 69h3v3h-3zM63 69h3v3h-3zM96 69h3v3h-3zM147 69h3v3h-3zM30 72h3v3h-3zM117 72h3v3h-3zM132 72h3v3h-3zM3 75h3v3h-3zM9 75h3v3h-3zM93 75h3v3h-3zM6 81h3v3h-3zM60 81h3v3h-3zM93 81h3v3h-3zM87 84h3v3h-3zM99 87h3v3h-3zM144 90h3v3h-3zM0 93h3v3h-3zM141 93h3v3h-3zM27 96h3v3h-3zM60 96h3v3h-3zM72 96h3v3h-3zM144 96h3v3h-3zM24 99h3v3h-3zM54 102h3v3h-3zM96 102h3v3h-3zM144 102h3v3h-3zM0 105h3v3h-3zM72 105h3v3h-3zM81 108h3v3h-3zM114 108h3v3h-3zM6 114h3v3h-3zM60 114h3v3h-3zM108 117h3v3h-3zM18 120h3v3h-3zM42 120h3v3h-3zM60 120h3v3h-3zM93 120h3v3h-3zM36 123h3v3h-3zM69 126h3v3h-3zM90 126h3v3h-3zM0 129h3v3h-3zM18 129h3v3h-3zM21 135h3v3h-3zM147 135h3v3h-3zM93 138h3v3h-3zM123 138h3v3h-3zM126 138h3v3h-3zM126 141h3v3h-3zM54 144h3v3h-3zM114 144h3v3h-3z"/>
</pattern>
<radialGradient id="haloG" cx="0.5" cy="0.5" r="0.5"><stop offset="0.45" stop-color="#fff"/><stop offset="0.75" stop-color="#aaa"/><stop offset="1" stop-color="#000"/></radialGradient>
<mask id="haloM" maskUnits="userSpaceOnUse" x="1069" y="105" width="355" height="355"><ellipse cx="1250" cy="305" rx="140" ry="128" fill="url(#haloG)"/></mask>
<radialGradient id="ringG" cx="0.5" cy="0.5" r="0.5"><stop offset="0.6" stop-color="#000"/><stop offset="0.8" stop-color="#888"/><stop offset="1" stop-color="#333"/></radialGradient>
<mask id="ringM" maskUnits="userSpaceOnUse" x="689" y="105" width="357" height="356"><ellipse cx="867" cy="285" rx="158.6" ry="166.8" fill="url(#ringG)"/></mask>
<linearGradient id="g1bg" x1="0" y1="0" x2="0" y2="1">
  <stop offset="0" stop-color="#868686"/><stop offset="0.5" stop-color="#8e8e8e"/><stop offset="1" stop-color="#a6a6a6"/>
</linearGradient>
<linearGradient id="g2bg" x1="0" y1="0" x2="1" y2="0">
  <stop offset="0" stop-color="#b8bac6"/><stop offset="0.7" stop-color="#b2b4be"/><stop offset="1" stop-color="#84868e"/>
</linearGradient>
<linearGradient id="g2bgv" x1="0" y1="0" x2="0" y2="1">
  <stop offset="0" stop-color="#fff" stop-opacity="0.12"/><stop offset="0.6" stop-color="#fff" stop-opacity="0"/><stop offset="1" stop-color="#000" stop-opacity="0.08"/>
</linearGradient>
<linearGradient id="g3bg" x1="0" y1="0" x2="0.3" y2="1">
  <stop offset="0" stop-color="#dcdde2"/><stop offset="1" stop-color="#ced2da"/>
</linearGradient>
<linearGradient id="gb1bg" x1="0" y1="0" x2="0" y2="1">
  <stop offset="0" stop-color="#5e6262"/><stop offset="0.5" stop-color="#868a8a"/><stop offset="1" stop-color="#b6baba"/>
</linearGradient>
<linearGradient id="gb1bgh" x1="0" y1="0" x2="1" y2="0">
  <stop offset="0" stop-color="#fff" stop-opacity="0"/><stop offset="1" stop-color="#fff" stop-opacity="0.35"/>
</linearGradient>
<linearGradient id="gb2bg" x1="0" y1="0" x2="0" y2="1">
  <stop offset="0" stop-color="#d4d6dc"/><stop offset="1" stop-color="#cfd1d6"/>
</linearGradient>
<linearGradient id="gb3bg" x1="0" y1="0" x2="1" y2="1">
  <stop offset="0" stop-color="#bababa"/><stop offset="1" stop-color="#a8a8a8"/>
</linearGradient>
<radialGradient id="tan1" cx="0.52" cy="0.45" r="0.55">
  <stop offset="0" stop-color="#afa495"/><stop offset="0.8" stop-color="#a69b8c"/><stop offset="1" stop-color="#908476"/>
</radialGradient>
<radialGradient id="cream1" cx="0.55" cy="0.45" r="0.55">
  <stop offset="0" stop-color="#cdccb2"/><stop offset="0.75" stop-color="#c6c4a9"/><stop offset="1" stop-color="#9c9a80"/>
</radialGradient>
<radialGradient id="beige2" cx="0.5" cy="0.5" r="0.5">
  <stop offset="0" stop-color="#a69a80"/><stop offset="0.8" stop-color="#9e9178"/><stop offset="1" stop-color="#7c6f5e"/>
</radialGradient>
</defs>
<rect width="2226" height="1755" fill="#fff"/>
<g clip-path="url(#ph1)">
<rect x="310" y="105" width="355" height="356" fill="url(#g1bg)"/>
<ellipse cx="518" cy="205" rx="152" ry="122" fill="#141414" filter="url(#blur12)"/>
<ellipse cx="484.5" cy="285.4" rx="166" ry="165" fill="#35332f"/>
<ellipse cx="484.5" cy="285.4" rx="163.5" ry="162.5" fill="url(#tan1)"/>
<ellipse cx="484.5" cy="285.4" rx="163.5" ry="162.5" fill="url(#mottle)"/>
<polygon points="378,394 398,392 412,402 408,412 386,410" fill="#beb6ac" opacity="0.6" filter="url(#blur2)"/>
</g>
<g clip-path="url(#ph2)">
<rect x="689" y="105" width="357" height="356" fill="url(#g2bg)"/>
<rect x="689" y="105" width="357" height="356" fill="url(#g2bgv)"/>
<ellipse cx="867" cy="285" rx="158.6" ry="166.8" fill="#2d3130"/>
<rect x="689" y="105" width="357" height="356" fill="url(#specks)" mask="url(#ringM)" opacity="0.6"/>
<polygon points="897.3,131.2 908.3,136.7 925.9,147.7 950.0,167.4 958.8,187.2 961.0,211.4 972.0,231.1 985.2,253.1 991.7,270.6 996.1,288.2 1000.5,314.5 1000.5,336.5 991.7,358.4 965.4,376.0 932.5,389.2 912.7,402.4 903.9,411.1 884.2,415.5 855.6,411.1 822.7,406.7 798.5,393.6 774.4,378.2 754.6,358.4 745.9,336.5 745.9,323.3 756.8,305.8 759.0,286.0 765.6,257.5 772.2,235.5 778.8,213.5 787.6,191.6 794.2,176.2 811.7,163.1 833.7,152.1 855.6,145.5 877.6,141.1" fill="#bab9a6"/>
<polygon points="897.3,131.2 908.3,136.7 925.9,147.7 950.0,167.4 958.8,187.2 961.0,211.4 972.0,231.1 985.2,253.1 991.7,270.6 996.1,288.2 1000.5,314.5 1000.5,336.5 991.7,358.4 965.4,376.0 932.5,389.2 912.7,402.4 903.9,411.1 884.2,415.5 855.6,411.1 822.7,406.7 798.5,393.6 774.4,378.2 754.6,358.4 745.9,336.5 745.9,323.3 756.8,305.8 759.0,286.0 765.6,257.5 772.2,235.5 778.8,213.5 787.6,191.6 794.2,176.2 811.7,163.1 833.7,152.1 855.6,145.5 877.6,141.1" fill="url(#mottle2)"/>
</g>
<g clip-path="url(#ph3)">
<rect x="1068" y="105" width="357" height="356" fill="url(#g3bg)"/>
<ellipse cx="1245.5" cy="283.3" rx="168" ry="168.5" fill="#1f2121"/>
<rect x="1069" y="105" width="355" height="355" fill="url(#specks2)" mask="url(#haloM)"/>
<polygon points="1300,178 1318,177 1322,186 1306,186" fill="#e4e4dc"/>
<polygon points="1296.0,178.4 1314.7,177.3 1334.4,187.2 1343.2,200.4 1345.4,226.7 1349.8,248.7 1345.4,281.6 1343.2,303.6 1336.6,325.5 1323.4,343.1 1312.5,358.4 1305.9,362.8 1275.1,360.6 1246.6,358.4 1213.7,354.1 1182.9,349.7 1167.6,338.7 1152.2,325.5 1156.6,303.6 1163.2,286.0 1172.0,261.8 1174.2,242.1 1191.7,235.5 1204.9,217.9 1213.7,204.8 1235.6,202.6 1257.6,204.8 1279.5,202.6 1288.3,187.2" fill="#c0b596"/>
<polygon points="1296.0,178.4 1314.7,177.3 1334.4,187.2 1343.2,200.4 1345.4,226.7 1349.8,248.7 1345.4,281.6 1343.2,303.6 1336.6,325.5 1323.4,343.1 1312.5,358.4 1305.9,362.8 1275.1,360.6 1246.6,358.4 1213.7,354.1 1182.9,349.7 1167.6,338.7 1152.2,325.5 1156.6,303.6 1163.2,286.0 1172.0,261.8 1174.2,242.1 1191.7,235.5 1204.9,217.9 1213.7,204.8 1235.6,202.6 1257.6,204.8 1279.5,202.6 1288.3,187.2" fill="url(#mottle)"/>
<polygon points="1173,246 1190,237 1193,250 1186,263 1174,262" fill="#e4e8e8"/>
</g>
<g clip-path="url(#pb1)">
<rect x="310" y="672" width="355" height="357" fill="url(#gb1bg)"/>
<rect x="310" y="672" width="355" height="357" fill="url(#gb1bgh)"/>
<ellipse cx="490" cy="850.5" rx="172.5" ry="169.5" fill="#1a1a18"/>
<ellipse cx="485.5" cy="852.5" rx="167.5" ry="165" fill="url(#cream1)"/>
<ellipse cx="485.5" cy="852.5" rx="167.5" ry="165" fill="url(#mottle2)"/>
<polygon points="442.7,690 453.7,688 491,690 484,703 469,713 460,709 449,700" fill="#2a2c2a" filter="url(#blur2)"/>
<polygon points="618,776 628,770 636,790 628,792" fill="#e8ecec"/>
</g>
<g clip-path="url(#pb2)">
<rect x="689" y="672" width="357" height="360" fill="url(#gb2bg)"/>
<ellipse cx="879" cy="856" rx="168" ry="160" fill="#333" filter="url(#blur12)" opacity="0.6"/>
<ellipse cx="871" cy="851.9" rx="160.3" ry="159.2" fill="#1e1e1e"/>
<clipPath id="b2cap"><polygon points="700,745 745,741 790,737 850,731 905,726 955,723 990,727 1040,740 1040,1020 700,1020"/></clipPath>
<ellipse cx="871" cy="855" rx="154" ry="154" fill="url(#beige2)" clip-path="url(#b2cap)"/>
<ellipse cx="871" cy="855" rx="154" ry="154" fill="url(#mottle)" clip-path="url(#b2cap)"/>
</g>
<g clip-path="url(#pb3)">
<rect x="1069" y="673" width="355" height="355" fill="url(#gb3bg)"/>
<ellipse cx="1252" cy="860" rx="166" ry="166" fill="#2a2a2a" filter="url(#blur12)" opacity="0.75"/>
<ellipse cx="1243.9" cy="850.2" rx="158.6" ry="160.8" fill="#262626"/>
<polygon points="1103.9,828.8 1123.7,815.7 1125.9,798.1 1136.8,769.6 1147.8,754.2 1169.8,738.8 1191.7,721.3 1224.7,708.1 1253.2,705.9 1262.0,712.5 1279.5,703.7 1301.5,703.7 1323.4,716.9 1343.2,741.0 1356.4,763.0 1371.7,785.0 1378.3,811.3 1380.5,837.6 1376.1,866.2 1367.3,892.5 1354.2,914.5 1341.0,936.4 1327.8,956.2 1305.9,973.7 1279.5,984.7 1257.6,989.1 1240.0,984.7 1218.1,980.3 1191.7,973.7 1169.8,962.8 1143.4,945.2 1125.9,923.3 1112.7,899.1 1106.1,870.6 1103.9,850.8" fill="#a89b8c"/>
<polygon points="1103.9,828.8 1123.7,815.7 1125.9,798.1 1136.8,769.6 1147.8,754.2 1169.8,738.8 1191.7,721.3 1224.7,708.1 1253.2,705.9 1262.0,712.5 1279.5,703.7 1301.5,703.7 1323.4,716.9 1343.2,741.0 1356.4,763.0 1371.7,785.0 1378.3,811.3 1380.5,837.6 1376.1,866.2 1367.3,892.5 1354.2,914.5 1341.0,936.4 1327.8,956.2 1305.9,973.7 1279.5,984.7 1257.6,989.1 1240.0,984.7 1218.1,980.3 1191.7,973.7 1169.8,962.8 1143.4,945.2 1125.9,923.3 1112.7,899.1 1106.1,870.6 1103.9,850.8" fill="url(#mottle2)"/>
</g>
<rect x="309" y="90" width="1118" height="439" fill="none" stroke="#ff0000" stroke-width="4"/>
<rect x="308.8" y="658" width="1117.2" height="440" fill="none" stroke="#2169d8" stroke-width="4"/>
<text x="344.74" y="511.20" font-size="64.6" textLength="279.66" lengthAdjust="spacingAndGlyphs">390 cycles</text>
<text x="725.29" y="511.20" font-size="64.6" textLength="279.11" lengthAdjust="spacingAndGlyphs">474 cycles</text>
<text x="1106.18" y="511.20" font-size="64.6" textLength="279.72" lengthAdjust="spacingAndGlyphs">510 cycles</text>
<text x="341.51" y="1076.60" font-size="64.6" textLength="282.72" lengthAdjust="spacingAndGlyphs">390 cycles</text>
<text x="727.98" y="1076.60" font-size="64.6" textLength="280.84" lengthAdjust="spacingAndGlyphs">480 cycles</text>
<text x="1106.48" y="1076.60" font-size="64.6" textLength="279.02" lengthAdjust="spacingAndGlyphs">600 cycles</text>
<line x1="445" y1="590.7" x2="495" y2="590.7" stroke="#ee5555" stroke-width="3.5"/>
<line x1="551" y1="590.7" x2="597" y2="590.7" stroke="#ee5555" stroke-width="3.5"/>
<rect x="502.6" y="573.6" width="31.7" height="31.7" fill="#fff" stroke="#e8383c" stroke-width="9"/>
<text x="606.20" y="614.20" font-size="80.0" textLength="570.42" lengthAdjust="spacingAndGlyphs">Fine powder TBC</text>
<line x1="435.4" y1="1159.4" x2="482" y2="1159.4" stroke="#1a6ae0" stroke-width="3.5"/>
<line x1="538.8" y1="1159.4" x2="583" y2="1159.4" stroke="#1a6ae0" stroke-width="3.5"/>
<ellipse cx="508.9" cy="1159" rx="16" ry="17.6" fill="#fff" stroke="#1a6ae0" stroke-width="8"/>
<text x="600.34" y="1182.20" font-size="80.0" textLength="631.87" lengthAdjust="spacingAndGlyphs">Coarse powder TBC</text>
<g stroke="#000" fill="none">
<line x1="257.0" y1="1488" x2="257.0" y2="1452" stroke-width="3.6"/>
<line x1="553.4" y1="1488" x2="553.4" y2="1452" stroke-width="3.6"/>
<line x1="849.8" y1="1488" x2="849.8" y2="1452" stroke-width="3.6"/>
<line x1="1146.2" y1="1488" x2="1146.2" y2="1452" stroke-width="3.6"/>
<line x1="1442.6" y1="1488" x2="1442.6" y2="1452" stroke-width="3.6"/>
<line x1="1739.0" y1="1488" x2="1739.0" y2="1452" stroke-width="3.6"/>
<line x1="2035.4" y1="1488" x2="2035.4" y2="1452" stroke-width="3.6"/>
<line x1="405.2" y1="1488" x2="405.2" y2="1471" stroke-width="3.6"/>
<line x1="701.6" y1="1488" x2="701.6" y2="1471" stroke-width="3.6"/>
<line x1="998.0" y1="1488" x2="998.0" y2="1471" stroke-width="3.6"/>
<line x1="1294.4" y1="1488" x2="1294.4" y2="1471" stroke-width="3.6"/>
<line x1="1590.8" y1="1488" x2="1590.8" y2="1471" stroke-width="3.6"/>
<line x1="1887.2" y1="1488" x2="1887.2" y2="1471" stroke-width="3.6"/>
<line x1="257" y1="1421.6" x2="291.5" y2="1421.6" stroke-width="3.6"/>
<line x1="257" y1="1150.0" x2="291.5" y2="1150.0" stroke-width="3.6"/>
<line x1="257" y1="878.5" x2="291.5" y2="878.5" stroke-width="3.6"/>
<line x1="257" y1="606.9" x2="291.5" y2="606.9" stroke-width="3.6"/>
<line x1="257" y1="335.4" x2="291.5" y2="335.4" stroke-width="3.6"/>
<line x1="257" y1="63.8" x2="291.5" y2="63.8" stroke-width="3.6"/>
<line x1="257" y1="1285.8" x2="275.6" y2="1285.8" stroke-width="3.6"/>
<line x1="257" y1="1014.3" x2="275.6" y2="1014.3" stroke-width="3.6"/>
<line x1="257" y1="742.7" x2="275.6" y2="742.7" stroke-width="3.6"/>
<line x1="257" y1="471.2" x2="275.6" y2="471.2" stroke-width="3.6"/>
<line x1="257" y1="199.6" x2="275.6" y2="199.6" stroke-width="3.6"/>
</g>
<g clip-path="url(#plot)" fill="none" stroke-linejoin="round">
<path d="M500.0 1418.7 L504.3 1418.7 L508.6 1418.6 L512.9 1418.5 L517.2 1418.5 L521.6 1418.4 L525.9 1418.3 L530.2 1418.2 L534.5 1418.1 L538.9 1418.0 L543.2 1417.9 L547.5 1417.8 L551.8 1417.7 L556.2 1417.5 L560.5 1417.4 L564.8 1417.2 L569.1 1417.1 L573.5 1416.9 L577.8 1416.8 L582.1 1416.6 L586.4 1416.4 L590.8 1416.2 L595.1 1416.1 L599.4 1415.9 L603.7 1415.7 L608.1 1415.4 L612.4 1415.2 L616.7 1415.0 L621.0 1414.8 L625.4 1414.5 L629.7 1414.3 L634.0 1414.0 L638.3 1413.8 L642.7 1413.5 L647.0 1413.2 L651.3 1412.9 L655.6 1412.6 L659.9 1412.3 L664.3 1412.0 L668.6 1411.7 L672.9 1411.4 L677.2 1411.1 L681.5 1410.7 L685.9 1410.4 L690.2 1410.0 L694.5 1409.7 L698.8 1409.3 L703.1 1408.9 L707.4 1408.5 L711.8 1408.2 L716.1 1407.8 L720.4 1407.3 L724.7 1406.9 L729.0 1406.5 L733.3 1406.1 L737.6 1405.6 L741.9 1405.2 L746.2 1404.7 L750.5 1404.2 L754.8 1403.8 L759.1 1403.3 L763.4 1402.8 L767.7 1402.3 L772.0 1401.8 L776.3 1401.3 L780.6 1400.7 L784.9 1400.2 L789.2 1399.6 L793.5 1399.1 L797.8 1398.5 L802.1 1397.9 L806.4 1397.4 L810.7 1396.8 L815.0 1396.2 L819.2 1395.6 L823.5 1394.9 L827.8 1394.3 L832.1 1393.7 L836.4 1393.0 L840.6 1392.4 L844.9 1391.7 L849.2 1391.0 L853.4 1390.3 L857.7 1389.6 L862.0 1388.9 L866.2 1388.2 L870.5 1387.5 L874.8 1386.8 L879.0 1386.0 L883.3 1385.3 L887.5 1384.5 L891.8 1383.7 L896.0 1382.9 L900.3 1382.1 L904.5 1381.3 L908.8 1380.5 L913.0 1379.7 L917.2 1378.9 L921.5 1378.0 L925.7 1377.2 L929.9 1376.3 L934.2 1375.4 L938.4 1374.5 L942.6 1373.6 L946.8 1372.7 L951.1 1371.8 L955.3 1370.9 L959.5 1369.9 L963.7 1369.0 L967.9 1368.0 L972.1 1367.0 L976.3 1366.1 L980.5 1365.1 L984.7 1364.1 L988.9 1363.0 L993.1 1362.0 L997.3 1361.0 L1001.5 1359.9 L1005.7 1358.9 L1009.9 1357.8 L1014.0 1356.7 L1018.2 1355.6 L1022.4 1354.5 L1026.6 1353.4 L1030.7 1352.2 L1034.9 1351.1 L1039.1 1350.0 L1043.2 1348.8 L1047.4 1347.6 L1051.5 1346.4 L1055.7 1345.2 L1059.8 1344.0 L1064.0 1342.8 L1068.1 1341.6 L1072.2 1340.3 L1076.4 1339.0 L1080.5 1337.8 L1084.6 1336.5 L1088.7 1335.2 L1092.8 1333.9 L1097.0 1332.6 L1101.1 1331.2 L1105.2 1329.9 L1109.3 1328.5 L1113.4 1327.2 L1117.5 1325.8 L1121.6 1324.4 L1125.7 1323.0 L1129.7 1321.6 L1133.8 1320.1 L1137.9 1318.7 L1142.0 1317.2 L1146.0 1315.7 L1150.1 1314.3 L1154.2 1312.8 L1158.2 1311.3 L1162.3 1309.7 L1166.3 1308.2 L1170.4 1306.7 L1174.4 1305.1 L1178.5 1303.5 L1182.5 1301.9 L1186.5 1300.3 L1190.5 1298.7 L1194.6 1297.1 L1198.6 1295.5 L1202.6 1293.8 L1206.6 1292.1 L1210.6 1290.4 L1214.6 1288.8 L1218.6 1287.0 L1222.6 1285.3 L1226.6 1283.6 L1230.5 1281.8 L1234.5 1280.1 L1238.5 1278.3 L1242.4 1276.5 L1246.4 1274.7 L1250.3 1272.9 L1254.3 1271.0 L1258.2 1269.2 L1262.1 1267.3 L1266.1 1265.4 L1270.0 1263.6 L1273.9 1261.6 L1277.8 1259.7 L1281.7 1257.8 L1285.6 1255.8 L1289.4 1253.9 L1293.3 1251.9 L1297.1 1249.9 L1301.0 1247.9 L1304.8 1245.8 L1308.7 1243.8 L1312.5 1241.7 L1316.3 1239.7 L1320.1 1237.6 L1323.9 1235.5 L1327.7 1233.3 L1331.4 1231.2 L1335.2 1229.0 L1339.0 1226.9 L1342.7 1224.7 L1346.4 1222.5 L1350.2 1220.2 L1353.9 1218.0 L1357.6 1215.8 L1361.2 1213.5 L1364.9 1211.2 L1368.6 1208.9 L1372.2 1206.6 L1375.9 1204.2 L1379.5 1201.9 L1383.1 1199.5 L1386.7 1197.1 L1390.3 1194.7 L1393.9 1192.3 L1397.4 1189.8 L1401.0 1187.4 L1404.5 1184.9 L1408.0 1182.4 L1411.5 1179.9 L1415.0 1177.4 L1418.5 1174.8 L1421.9 1172.3 L1425.4 1169.7 L1428.8 1167.1 L1432.2 1164.5 L1435.6 1161.8 L1439.0 1159.2 L1442.4 1156.5 L1445.7 1153.8 L1449.1 1151.1 L1452.4 1148.4 L1455.7 1145.6 L1459.0 1142.8 L1462.3 1140.0 L1465.5 1137.2 L1468.7 1134.4 L1472.0 1131.5 L1475.1 1128.7 L1478.3 1125.7 L1481.5 1122.8 L1484.6 1119.9 L1487.7 1116.9 L1490.8 1113.9 L1493.8 1110.9 L1496.9 1107.8 L1499.9 1104.7 L1502.9 1101.6 L1505.8 1098.5 L1508.8 1095.4 L1511.7 1092.2 L1514.6 1089.0 L1517.5 1085.8 L1520.4 1082.5 L1523.3 1079.3 L1526.1 1076.0 L1528.9 1072.7 L1531.7 1069.4 L1534.5 1066.1 L1537.3 1062.8 L1540.1 1059.4 L1542.8 1056.0 L1545.6 1052.6 L1548.3 1049.2 L1551.0 1045.8 L1553.7 1042.4 L1556.4 1038.9 L1559.0 1035.5 L1561.6 1032.0 L1564.2 1028.5 L1566.8 1025.0 L1569.4 1021.5 L1571.9 1017.9 L1574.4 1014.3 L1576.9 1010.8 L1579.3 1007.2 L1581.7 1003.5 L1584.1 999.9 L1586.4 996.3 L1588.7 992.6 L1590.9 988.9 L1593.2 985.2 L1595.3 981.5 L1597.5 977.7 L1599.6 973.9 L1601.6 970.2 L1603.6 966.3 L1605.6 962.5 L1607.5 958.7 L1609.4 954.8 L1611.2 950.9 L1613.0 947.0 L1614.7 943.1 L1616.3 939.1 L1617.9 935.2 L1619.5 931.2 L1621.0 927.2 L1622.5 923.2 L1623.9 919.1 L1625.3 915.1 L1626.6 911.0 L1627.9 906.9 L1629.2 902.8 L1630.4 898.7 L1631.6 894.6 L1632.8 890.5 L1633.9 886.3 L1635.0 882.1 L1636.0 878.0 L1637.0 873.8 L1638.0 869.6 L1639.0 865.4 L1639.9 861.2 L1640.9 856.9 L1641.8 852.7 L1642.6 848.5 L1643.5 844.2 L1644.3 840.0 L1645.1 835.7 L1645.9 831.4 L1646.7 827.2 L1647.4 822.9 L1648.1 818.6 L1648.9 814.3 L1649.6 810.1 L1650.3 805.8 L1651.0 801.5 L1651.7 797.2 L1652.4 792.9 L1653.0 788.6 L1653.7 784.3 L1654.4 780.1 L1655.0 775.8 L1655.7 771.5 L1656.3 767.2 L1656.9 762.9 L1657.6 758.6 L1658.2 754.3 L1658.8 750.0 L1659.4 745.7 L1660.0 741.4 L1660.6 737.2 L1661.1 732.9 L1661.7 728.6 L1662.3 724.3 L1662.9 720.0 L1663.4 715.7 L1664.0 711.4 L1664.5 707.1 L1665.0 702.8 L1665.6 698.5 L1666.1 694.2 L1666.6 689.9 L1667.1 685.6 L1667.6 681.3 L1668.1 677.0 L1668.6 672.7 L1669.1 668.4 L1669.6 664.1 L1670.1 659.8 L1670.5 655.5 L1671.0 651.2 L1671.5 646.9 L1671.9 642.6 L1672.4 638.3 L1672.8 634.0 L1673.2 629.7 L1673.7 625.4 L1674.1 621.1 L1674.5 616.8 L1674.9 612.5 L1675.3 608.2 L1675.7 603.9 L1676.1 599.6 L1676.5 595.3 L1676.9 590.9 L1677.3 586.6 L1677.7 582.3 L1678.1 578.0 L1678.4 573.7 L1678.8 569.4 L1679.2 565.1 L1679.5 560.8 L1679.9 556.5 L1680.2 552.2 L1680.6 547.9 L1680.9 543.6 L1681.2 539.2 L1681.6 534.9 L1681.9 530.6 L1682.2 526.3 L1682.5 522.0 L1682.9 517.7 L1683.2 513.4 L1683.5 509.1 L1683.8 504.7 L1684.1 500.4 L1684.4 496.1 L1684.7 491.8 L1685.0 487.5 L1685.2 483.2 L1685.5 478.9 L1685.8 474.5 L1686.1 470.2 L1686.3 465.9 L1686.6 461.6 L1686.9 457.3 L1687.1 453.0 L1687.4 448.7 L1687.6 444.3 L1687.9 440.0 L1688.1 435.7 L1688.4 431.4 L1688.6 427.1 L1688.9 422.7 L1689.1 418.4 L1689.3 414.1 L1689.6 409.8 L1689.8 405.5 L1690.0 401.2 L1690.3 396.8 L1690.5 392.5 L1690.7 388.2 L1690.9 383.9 L1691.1 379.6 L1691.3 375.2 L1691.5 370.9 L1691.8 366.6 L1692.0 362.3 L1692.2 358.0 L1692.4 353.6 L1692.6 349.3 L1692.8 345.0 L1693.0 340.7 L1693.2 336.4 L1693.3 332.0 L1693.5 327.7 L1693.7 323.4 L1693.9 319.1 L1694.1 314.7 L1694.3 310.4 L1694.5 306.1 L1694.6 301.8 L1694.8 297.5 L1695.0 293.1 L1695.2 288.8 L1695.4 284.5 L1695.5 280.2 L1695.7 275.8 L1695.9 271.5 L1696.1 267.2 L1696.2 262.9 L1696.4 258.6 L1696.6 254.2 L1696.8 249.9 L1696.9 245.6 L1697.1 241.3 L1697.3 236.9 L1697.4 232.6 L1697.6 228.3 L1697.8 224.0 L1697.9 219.6 L1698.1 215.3 L1698.3 211.0 L1698.4 206.7 L1698.6 202.3 L1698.8 198.0 L1698.9 193.7 L1699.1 189.4 L1699.3 185.1 L1699.4 180.7 L1699.6 176.4 L1699.8 172.1 L1699.9 167.8 L1700.1 163.4 L1700.3 159.1 L1700.4 154.8 L1700.6 150.5 L1700.8 146.1 L1701.0 141.8 L1701.1 137.5 L1701.3 133.2 L1701.5 128.8 L1701.6 124.5 L1701.8 120.2 L1702.0 115.9 L1702.2 111.6 L1702.4 107.2 L1702.5 102.9 L1702.7 98.6 L1702.9 94.3 L1703.1 89.9 L1703.3 85.6 L1703.5 81.3 L1703.6 77.0 L1703.8 72.6 L1704.0 68.3 L1704.2 64.0" stroke="#e8383c" stroke-width="3"/>
<path d="M500.0 1418.8 L503.6 1418.8 L507.3 1418.8 L510.9 1418.7 L514.6 1418.7 L518.3 1418.7 L521.9 1418.6 L525.6 1418.6 L529.3 1418.6 L532.9 1418.5 L536.6 1418.5 L540.2 1418.4 L543.9 1418.4 L547.6 1418.3 L551.2 1418.2 L554.9 1418.2 L558.6 1418.1 L562.2 1418.1 L565.9 1418.0 L569.5 1417.9 L573.2 1417.8 L576.9 1417.8 L580.5 1417.7 L584.2 1417.6 L587.9 1417.5 L591.5 1417.4 L595.2 1417.3 L598.8 1417.3 L602.5 1417.2 L606.2 1417.1 L609.8 1417.0 L613.5 1416.8 L617.2 1416.7 L620.8 1416.6 L624.5 1416.5 L628.1 1416.4 L631.8 1416.3 L635.5 1416.1 L639.1 1416.0 L642.8 1415.9 L646.4 1415.8 L650.1 1415.6 L653.8 1415.5 L657.4 1415.3 L661.1 1415.2 L664.7 1415.0 L668.4 1414.9 L672.1 1414.7 L675.7 1414.6 L679.4 1414.4 L683.0 1414.2 L686.7 1414.1 L690.3 1413.9 L694.0 1413.7 L697.7 1413.5 L701.3 1413.3 L705.0 1413.1 L708.6 1412.9 L712.3 1412.7 L715.9 1412.5 L719.6 1412.3 L723.3 1412.1 L726.9 1411.9 L730.6 1411.7 L734.2 1411.5 L737.9 1411.3 L741.5 1411.0 L745.2 1410.8 L748.8 1410.6 L752.5 1410.3 L756.1 1410.1 L759.8 1409.8 L763.4 1409.6 L767.1 1409.3 L770.7 1409.0 L774.4 1408.8 L778.0 1408.5 L781.7 1408.2 L785.3 1408.0 L789.0 1407.7 L792.6 1407.4 L796.3 1407.1 L799.9 1406.8 L803.6 1406.5 L807.2 1406.2 L810.9 1405.9 L814.5 1405.6 L818.2 1405.3 L821.8 1404.9 L825.4 1404.6 L829.1 1404.3 L832.7 1404.0 L836.4 1403.6 L840.0 1403.3 L843.7 1402.9 L847.3 1402.6 L850.9 1402.2 L854.6 1401.8 L858.2 1401.5 L861.8 1401.1 L865.5 1400.7 L869.1 1400.3 L872.8 1400.0 L876.4 1399.6 L880.0 1399.2 L883.7 1398.8 L887.3 1398.4 L890.9 1397.9 L894.6 1397.5 L898.2 1397.1 L901.8 1396.7 L905.4 1396.2 L909.1 1395.8 L912.7 1395.4 L916.3 1394.9 L920.0 1394.5 L923.6 1394.0 L927.2 1393.5 L930.8 1393.1 L934.5 1392.6 L938.1 1392.1 L941.7 1391.6 L945.3 1391.1 L949.0 1390.7 L952.6 1390.2 L956.2 1389.6 L959.8 1389.1 L963.4 1388.6 L967.0 1388.1 L970.7 1387.6 L974.3 1387.0 L977.9 1386.5 L981.5 1385.9 L985.1 1385.4 L988.7 1384.8 L992.3 1384.3 L996.0 1383.7 L999.6 1383.1 L1003.2 1382.6 L1006.8 1382.0 L1010.4 1381.4 L1014.0 1380.8 L1017.6 1380.2 L1021.2 1379.6 L1024.8 1379.0 L1028.4 1378.3 L1032.0 1377.7 L1035.6 1377.1 L1039.2 1376.4 L1042.8 1375.8 L1046.4 1375.2 L1050.0 1374.5 L1053.6 1373.8 L1057.2 1373.2 L1060.8 1372.5 L1064.4 1371.8 L1068.0 1371.1 L1071.6 1370.4 L1075.2 1369.7 L1078.7 1369.0 L1082.3 1368.3 L1085.9 1367.6 L1089.5 1366.9 L1093.1 1366.1 L1096.7 1365.4 L1100.2 1364.7 L1103.8 1363.9 L1107.4 1363.2 L1111.0 1362.4 L1114.6 1361.6 L1118.1 1360.8 L1121.7 1360.1 L1125.3 1359.3 L1128.9 1358.5 L1132.4 1357.7 L1136.0 1356.8 L1139.6 1356.0 L1143.1 1355.2 L1146.7 1354.4 L1150.3 1353.5 L1153.8 1352.7 L1157.4 1351.8 L1160.9 1350.9 L1164.5 1350.0 L1168.1 1349.2 L1171.6 1348.3 L1175.2 1347.4 L1178.7 1346.4 L1182.3 1345.5 L1185.8 1344.6 L1189.3 1343.6 L1192.9 1342.7 L1196.4 1341.7 L1200.0 1340.8 L1203.5 1339.8 L1207.0 1338.8 L1210.5 1337.8 L1214.1 1336.8 L1217.6 1335.8 L1221.1 1334.7 L1224.6 1333.7 L1228.1 1332.6 L1231.7 1331.6 L1235.2 1330.5 L1238.7 1329.4 L1242.2 1328.3 L1245.7 1327.2 L1249.2 1326.1 L1252.7 1325.0 L1256.2 1323.8 L1259.7 1322.7 L1263.1 1321.5 L1266.6 1320.3 L1270.1 1319.2 L1273.6 1318.0 L1277.1 1316.7 L1280.5 1315.5 L1284.0 1314.3 L1287.5 1313.0 L1290.9 1311.8 L1294.4 1310.5 L1297.8 1309.2 L1301.3 1307.9 L1304.7 1306.6 L1308.2 1305.3 L1311.6 1303.9 L1315.0 1302.6 L1318.5 1301.2 L1321.9 1299.8 L1325.3 1298.4 L1328.8 1297.0 L1332.2 1295.6 L1335.6 1294.2 L1339.0 1292.7 L1342.4 1291.2 L1345.8 1289.8 L1349.2 1288.3 L1352.5 1286.7 L1355.9 1285.2 L1359.3 1283.7 L1362.6 1282.1 L1366.0 1280.5 L1369.3 1278.9 L1372.6 1277.3 L1376.0 1275.7 L1379.3 1274.1 L1382.6 1272.4 L1385.9 1270.7 L1389.1 1269.0 L1392.4 1267.3 L1395.7 1265.6 L1398.9 1263.9 L1402.2 1262.1 L1405.4 1260.3 L1408.6 1258.5 L1411.8 1256.7 L1415.0 1254.9 L1418.1 1253.0 L1421.3 1251.1 L1424.4 1249.2 L1427.6 1247.3 L1430.7 1245.4 L1433.8 1243.4 L1436.8 1241.5 L1439.9 1239.5 L1443.0 1237.5 L1446.0 1235.4 L1449.0 1233.4 L1452.0 1231.3 L1455.0 1229.2 L1457.9 1227.1 L1460.9 1225.0 L1463.8 1222.8 L1466.7 1220.6 L1469.6 1218.4 L1472.5 1216.2 L1475.3 1214.0 L1478.1 1211.7 L1480.9 1209.4 L1483.7 1207.1 L1486.5 1204.8 L1489.2 1202.4 L1491.9 1200.0 L1494.6 1197.6 L1497.3 1195.2 L1500.0 1192.7 L1502.6 1190.3 L1505.2 1187.8 L1507.8 1185.2 L1510.3 1182.7 L1512.9 1180.1 L1515.4 1177.5 L1517.9 1174.9 L1520.3 1172.3 L1522.8 1169.7 L1525.2 1167.0 L1527.6 1164.3 L1530.0 1161.6 L1532.4 1158.9 L1534.7 1156.1 L1537.0 1153.3 L1539.3 1150.5 L1541.6 1147.7 L1543.9 1144.9 L1546.1 1142.1 L1548.3 1139.2 L1550.5 1136.3 L1552.7 1133.4 L1554.8 1130.5 L1557.0 1127.5 L1559.1 1124.6 L1561.2 1121.6 L1563.3 1118.6 L1565.3 1115.6 L1567.4 1112.6 L1569.4 1109.6 L1571.4 1106.5 L1573.4 1103.5 L1575.3 1100.4 L1577.3 1097.3 L1579.2 1094.2 L1581.1 1091.1 L1583.0 1088.0 L1584.9 1084.8 L1586.7 1081.6 L1588.6 1078.5 L1590.4 1075.3 L1592.2 1072.1 L1594.0 1068.9 L1595.7 1065.7 L1597.5 1062.4 L1599.2 1059.2 L1600.9 1055.9 L1602.6 1052.7 L1604.3 1049.4 L1606.0 1046.1 L1607.6 1042.8 L1609.2 1039.5 L1610.9 1036.2 L1612.5 1032.8 L1614.0 1029.5 L1615.6 1026.2 L1617.2 1022.8 L1618.7 1019.4 L1620.2 1016.1 L1621.7 1012.7 L1623.2 1009.3 L1624.7 1005.9 L1626.2 1002.5 L1627.6 999.1 L1629.1 995.7 L1630.5 992.3 L1631.9 988.9 L1633.3 985.5 L1634.7 982.0 L1636.0 978.6 L1637.4 975.1 L1638.7 971.7 L1640.0 968.3 L1641.3 964.8 L1642.6 961.3 L1643.9 957.9 L1645.2 954.4 L1646.4 951.0 L1647.7 947.5 L1648.9 944.0 L1650.1 940.5 L1651.4 937.1 L1652.6 933.6 L1653.7 930.1 L1654.9 926.6 L1656.1 923.1 L1657.2 919.6 L1658.4 916.2 L1659.5 912.7 L1660.6 909.2 L1661.7 905.7 L1662.8 902.2 L1663.9 898.7 L1665.0 895.2 L1666.0 891.7 L1667.1 888.2 L1668.1 884.7 L1669.2 881.1 L1670.2 877.6 L1671.2 874.1 L1672.2 870.6 L1673.2 867.1 L1674.2 863.6 L1675.2 860.0 L1676.2 856.5 L1677.2 853.0 L1678.1 849.5 L1679.1 845.9 L1680.0 842.4 L1681.0 838.9 L1681.9 835.4 L1682.8 831.8 L1683.7 828.3 L1684.6 824.8 L1685.5 821.2 L1686.4 817.7 L1687.3 814.1 L1688.2 810.6 L1689.1 807.1 L1690.0 803.5 L1690.8 800.0 L1691.7 796.4 L1692.6 792.9 L1693.4 789.3 L1694.3 785.8 L1695.1 782.2 L1695.9 778.7 L1696.8 775.1 L1697.6 771.6 L1698.4 768.0 L1699.3 764.5 L1700.1 760.9 L1700.9 757.4 L1701.7 753.8 L1702.5 750.2 L1703.3 746.7 L1704.1 743.1 L1704.9 739.6 L1705.7 736.0 L1706.5 732.4 L1707.3 728.9 L1708.1 725.3 L1708.9 721.8 L1709.7 718.2 L1710.5 714.6 L1711.2 711.1 L1712.0 707.5 L1712.8 703.9 L1713.6 700.4 L1714.4 696.8 L1715.1 693.2 L1715.9 689.7 L1716.7 686.1 L1717.5 682.5 L1718.3 679.0 L1719.1 675.4 L1719.8 671.8 L1720.6 668.3 L1721.4 664.7 L1722.2 661.1 L1723.0 657.6 L1723.8 654.0 L1724.5 650.4 L1725.3 646.9 L1726.1 643.3 L1726.9 639.7 L1727.7 636.2 L1728.5 632.6 L1729.3 629.0 L1730.1 625.5 L1730.9 621.9 L1731.8 618.3 L1732.6 614.8 L1733.4 611.2 L1734.2 607.6 L1735.0 604.1 L1735.9 600.5 L1736.7 597.0 L1737.5 593.4 L1738.4 589.8 L1739.2 586.3 L1740.1 582.7 L1740.9 579.2 L1741.8 575.6 L1742.7 572.0 L1743.5 568.5 L1744.4 564.9 L1745.3 561.4 L1746.2 557.8 L1747.1 554.3 L1748.0 550.7 L1748.9 547.2 L1749.8 543.6 L1750.7 540.1 L1751.7 536.5 L1752.6 533.0 L1753.5 529.4 L1754.5 525.9 L1755.5 522.3 L1756.4 518.8 L1757.4 515.2 L1758.4 511.7 L1759.4 508.2 L1760.4 504.6 L1761.4 501.1 L1762.4 497.6 L1763.4 494.0 L1764.5 490.5 L1765.5 487.0 L1766.6 483.4 L1767.6 479.9 L1768.7 476.4 L1769.8 472.9 L1770.9 469.3" stroke="#ff0000" stroke-width="3"/>
<rect x="1367.5" y="1227.8" width="33.5" height="33.5" fill="#fff" stroke="#e8383c" stroke-width="9" stroke-linejoin="miter"/>
<rect x="1582.8" y="980.5" width="33.5" height="33.5" fill="#fff" stroke="#e8383c" stroke-width="9" stroke-linejoin="miter"/>
<rect x="1628.0" y="860.1" width="33.5" height="33.5" fill="#fff" stroke="#e8383c" stroke-width="9" stroke-linejoin="miter"/>
<rect x="1668.8" y="521.8" width="33.5" height="33.5" fill="#fff" stroke="#e8383c" stroke-width="9" stroke-linejoin="miter"/>
<rect x="1687.2" y="47.8" width="33.5" height="33.5" fill="#fff" stroke="#e8383c" stroke-width="9" stroke-linejoin="miter"/>
<rect x="240.2" y="1404.8" width="33.5" height="33.5" fill="#fff" stroke="#ff0000" stroke-width="9" stroke-linejoin="miter"/>
<rect x="833.2" y="1404.8" width="33.5" height="33.5" fill="#fff" stroke="#ff0000" stroke-width="9" stroke-linejoin="miter"/>
<rect x="1396.5" y="1287.8" width="33.5" height="33.5" fill="#fff" stroke="#ff0000" stroke-width="9" stroke-linejoin="miter"/>
<rect x="1574.7" y="1085.0" width="33.5" height="33.5" fill="#fff" stroke="#ff0000" stroke-width="9" stroke-linejoin="miter"/>
<rect x="1648.0" y="894.0" width="33.5" height="33.5" fill="#fff" stroke="#ff0000" stroke-width="9" stroke-linejoin="miter"/>
<rect x="1752.8" y="452.4" width="33.5" height="33.5" fill="#fff" stroke="#ff0000" stroke-width="9" stroke-linejoin="miter"/>
<path d="M257.0 1421.2 L261.0 1421.2 L264.9 1421.2 L268.9 1421.2 L272.8 1421.3 L276.7 1421.3 L280.7 1421.3 L284.6 1421.3 L288.6 1421.3 L292.5 1421.4 L296.5 1421.4 L300.4 1421.4 L304.4 1421.4 L308.3 1421.5 L312.3 1421.5 L316.2 1421.5 L320.2 1421.5 L324.1 1421.6 L328.1 1421.6 L332.0 1421.6 L336.0 1421.6 L339.9 1421.7 L343.8 1421.7 L347.8 1421.7 L351.7 1421.8 L355.7 1421.8 L359.6 1421.8 L363.6 1421.8 L367.5 1421.9 L371.5 1421.9 L375.4 1421.9 L379.4 1421.9 L383.3 1422.0 L387.3 1422.0 L391.2 1422.0 L395.1 1422.1 L399.1 1422.1 L403.0 1422.1 L407.0 1422.1 L410.9 1422.1 L414.9 1422.2 L418.8 1422.2 L422.8 1422.2 L426.7 1422.2 L430.7 1422.2 L434.6 1422.3 L438.5 1422.3 L442.5 1422.3 L446.4 1422.3 L450.4 1422.3 L454.3 1422.3 L458.3 1422.3 L462.2 1422.3 L466.2 1422.3 L470.1 1422.3 L474.1 1422.3 L478.0 1422.3 L481.9 1422.3 L485.9 1422.3 L489.8 1422.3 L493.8 1422.3 L497.7 1422.3 L501.7 1422.3 L505.6 1422.3 L509.5 1422.3 L513.5 1422.3 L517.4 1422.2 L521.4 1422.2 L525.3 1422.2 L529.3 1422.2 L533.2 1422.1 L537.2 1422.1 L541.1 1422.1 L545.0 1422.0 L549.0 1422.0 L552.9 1422.0 L556.9 1421.9 L560.8 1421.9 L564.8 1421.8 L568.7 1421.8 L572.6 1421.7 L576.6 1421.6 L580.5 1421.6 L584.5 1421.5 L588.4 1421.4 L592.4 1421.4 L596.3 1421.3 L600.2 1421.2 L604.2 1421.1 L608.1 1421.1 L612.1 1421.0 L616.0 1420.9 L619.9 1420.8 L623.9 1420.7 L627.8 1420.6 L631.8 1420.5 L635.7 1420.4 L639.6 1420.3 L643.6 1420.1 L647.5 1420.0 L651.5 1419.9 L655.4 1419.8 L659.4 1419.6 L663.3 1419.5 L667.2 1419.3 L671.2 1419.2 L675.1 1419.1 L679.1 1418.9 L683.0 1418.7 L686.9 1418.6 L690.9 1418.4 L694.8 1418.2 L698.8 1418.1 L702.7 1417.9 L706.6 1417.7 L710.6 1417.5 L714.5 1417.3 L718.4 1417.1 L722.4 1416.9 L726.3 1416.7 L730.3 1416.5 L734.2 1416.3 L738.1 1416.0 L742.1 1415.8 L746.0 1415.6 L749.9 1415.3 L753.9 1415.1 L757.8 1414.9 L761.8 1414.6 L765.7 1414.4 L769.6 1414.1 L773.6 1413.8 L777.5 1413.6 L781.4 1413.3 L785.4 1413.0 L789.3 1412.7 L793.2 1412.4 L797.2 1412.2 L801.1 1411.9 L805.0 1411.6 L809.0 1411.2 L812.9 1410.9 L816.8 1410.6 L820.8 1410.3 L824.7 1410.0 L828.6 1409.6 L832.6 1409.3 L836.5 1409.0 L840.4 1408.6 L844.4 1408.3 L848.3 1407.9 L852.2 1407.6 L856.1 1407.2 L860.1 1406.8 L864.0 1406.4 L867.9 1406.1 L871.9 1405.7 L875.8 1405.3 L879.7 1404.9 L883.6 1404.5 L887.6 1404.1 L891.5 1403.7 L895.4 1403.3 L899.3 1402.8 L903.2 1402.4 L907.2 1402.0 L911.1 1401.6 L915.0 1401.1 L918.9 1400.7 L922.9 1400.2 L926.8 1399.8 L930.7 1399.3 L934.6 1398.8 L938.5 1398.4 L942.5 1397.9 L946.4 1397.4 L950.3 1396.9 L954.2 1396.4 L958.1 1395.9 L962.0 1395.4 L965.9 1394.9 L969.9 1394.4 L973.8 1393.9 L977.7 1393.4 L981.6 1392.8 L985.5 1392.3 L989.4 1391.8 L993.3 1391.2 L997.2 1390.7 L1001.1 1390.1 L1005.1 1389.6 L1009.0 1389.0 L1012.9 1388.4 L1016.8 1387.9 L1020.7 1387.3 L1024.6 1386.7 L1028.5 1386.1 L1032.4 1385.5 L1036.3 1384.9 L1040.2 1384.3 L1044.1 1383.7 L1048.0 1383.0 L1051.9 1382.4 L1055.8 1381.8 L1059.7 1381.2 L1063.6 1380.5 L1067.5 1379.9 L1071.4 1379.2 L1075.3 1378.6 L1079.2 1377.9 L1083.1 1377.2 L1086.9 1376.5 L1090.8 1375.9 L1094.7 1375.2 L1098.6 1374.5 L1102.5 1373.8 L1106.4 1373.1 L1110.3 1372.4 L1114.2 1371.7 L1118.1 1370.9 L1121.9 1370.2 L1125.8 1369.5 L1129.7 1368.7 L1133.6 1368.0 L1137.5 1367.3 L1141.3 1366.5 L1145.2 1365.7 L1149.1 1365.0 L1153.0 1364.2 L1156.9 1363.4 L1160.7 1362.6 L1164.6 1361.8 L1168.5 1361.1 L1172.4 1360.3 L1176.2 1359.4 L1180.1 1358.6 L1184.0 1357.8 L1187.8 1357.0 L1191.7 1356.2 L1195.6 1355.3 L1199.4 1354.5 L1203.3 1353.6 L1207.2 1352.8 L1211.0 1351.9 L1214.9 1351.1 L1218.7 1350.2 L1222.6 1349.3 L1226.5 1348.4 L1230.3 1347.5 L1234.2 1346.6 L1238.0 1345.7 L1241.9 1344.8 L1245.7 1343.9 L1249.6 1343.0 L1253.4 1342.1 L1257.3 1341.1 L1261.1 1340.2 L1264.9 1339.2 L1268.8 1338.3 L1272.6 1337.3 L1276.5 1336.3 L1280.3 1335.4 L1284.1 1334.4 L1288.0 1333.4 L1291.8 1332.4 L1295.6 1331.4 L1299.4 1330.4 L1303.3 1329.4 L1307.1 1328.3 L1310.9 1327.3 L1314.7 1326.3 L1318.5 1325.2 L1322.3 1324.1 L1326.1 1323.1 L1330.0 1322.0 L1333.8 1320.9 L1337.6 1319.9 L1341.4 1318.8 L1345.2 1317.7 L1348.9 1316.5 L1352.7 1315.4 L1356.5 1314.3 L1360.3 1313.2 L1364.1 1312.0 L1367.9 1310.9 L1371.7 1309.7 L1375.4 1308.6 L1379.2 1307.4 L1383.0 1306.2 L1386.7 1305.0 L1390.5 1303.8 L1394.3 1302.6 L1398.0 1301.4 L1401.8 1300.2 L1405.5 1299.0 L1409.3 1297.7 L1413.0 1296.5 L1416.7 1295.2 L1420.5 1293.9 L1424.2 1292.7 L1427.9 1291.4 L1431.7 1290.1 L1435.4 1288.8 L1439.1 1287.5 L1442.8 1286.2 L1446.5 1284.8 L1450.2 1283.5 L1453.9 1282.1 L1457.6 1280.8 L1461.3 1279.4 L1465.0 1278.1 L1468.7 1276.7 L1472.4 1275.3 L1476.1 1273.9 L1479.8 1272.5 L1483.4 1271.0 L1487.1 1269.6 L1490.8 1268.2 L1494.4 1266.7 L1498.1 1265.3 L1501.7 1263.8 L1505.4 1262.3 L1509.0 1260.8 L1512.6 1259.3 L1516.3 1257.8 L1519.9 1256.3 L1523.5 1254.8 L1527.1 1253.2 L1530.8 1251.7 L1534.4 1250.1 L1538.0 1248.5 L1541.6 1247.0 L1545.2 1245.4 L1548.8 1243.8 L1552.3 1242.2 L1555.9 1240.5 L1559.5 1238.9 L1563.1 1237.3 L1566.6 1235.6 L1570.2 1233.9 L1573.7 1232.3 L1577.3 1230.6 L1580.8 1228.9 L1584.4 1227.2 L1587.9 1225.5 L1591.4 1223.7 L1595.0 1222.0 L1598.5 1220.2 L1602.0 1218.5 L1605.5 1216.7 L1609.0 1214.9 L1612.5 1213.1 L1616.0 1211.3 L1619.5 1209.5 L1622.9 1207.7 L1626.4 1205.8 L1629.9 1204.0 L1633.3 1202.1 L1636.8 1200.2 L1640.2 1198.3 L1643.7 1196.4 L1647.1 1194.5 L1650.5 1192.6 L1654.0 1190.7 L1657.4 1188.7 L1660.8 1186.7 L1664.2 1184.8 L1667.6 1182.8 L1671.0 1180.8 L1674.4 1178.8 L1677.7 1176.8 L1681.1 1174.7 L1684.5 1172.7 L1687.8 1170.7 L1691.2 1168.6 L1694.6 1166.5 L1697.9 1164.4 L1701.2 1162.3 L1704.6 1160.2 L1707.9 1158.1 L1711.2 1156.0 L1714.5 1153.9 L1717.8 1151.7 L1721.1 1149.6 L1724.4 1147.4 L1727.7 1145.2 L1731.0 1143.0 L1734.3 1140.8 L1737.6 1138.6 L1740.8 1136.4 L1744.1 1134.2 L1747.3 1131.9 L1750.6 1129.7 L1753.8 1127.4 L1757.1 1125.2 L1760.3 1122.9 L1763.5 1120.6 L1766.7 1118.3 L1770.0 1116.0 L1773.2 1113.7 L1776.4 1111.4 L1779.6 1109.0 L1782.8 1106.7 L1785.9 1104.3 L1789.1 1102.0 L1792.3 1099.6 L1795.5 1097.2 L1798.6 1094.9 L1801.8 1092.5 L1804.9 1090.1 L1808.1 1087.7 L1811.2 1085.2 L1814.3 1082.8 L1817.5 1080.4 L1820.6 1077.9 L1823.7 1075.5 L1826.8 1073.0 L1829.9 1070.6 L1833.0 1068.1 L1836.1 1065.6 L1839.2 1063.1 L1842.3 1060.6 L1845.4 1058.1 L1848.4 1055.6 L1851.5 1053.1 L1854.6 1050.6 L1857.6 1048.0 L1860.7 1045.5 L1863.7 1042.9 L1866.7 1040.4 L1869.8 1037.8 L1872.8 1035.3 L1875.8 1032.7 L1878.8 1030.1 L1881.8 1027.5 L1884.8 1024.9 L1887.8 1022.3 L1890.8 1019.7 L1893.8 1017.1 L1896.8 1014.5 L1899.8 1011.9 L1902.8 1009.2 L1905.7 1006.6 L1908.7 1003.9 L1911.6 1001.3 L1914.6 998.6 L1917.5 996.0 L1920.5 993.3 L1923.4 990.6 L1926.3 988.0 L1929.3 985.3 L1932.2 982.6 L1935.1 979.9 L1938.0 977.2 L1940.9 974.5 L1943.8 971.8 L1946.7 969.1 L1949.6 966.4 L1952.5 963.6 L1955.3 960.9 L1958.2 958.2 L1961.1 955.4 L1963.9 952.7 L1966.8 950.0 L1969.6 947.2 L1972.5 944.4 L1975.3 941.7 L1978.1 938.9 L1981.0 936.2 L1983.8 933.4 L1986.6 930.6 L1989.4 927.8 L1992.2 925.1 L1995.0 922.3 L1997.8 919.5 L2000.6 916.7 L2003.4 913.9 L2006.2 911.1 L2009.0 908.3 L2011.7 905.5 L2014.5 902.7 L2017.3 899.9 L2020.0 897.0 L2022.8 894.2 L2025.5 891.4 L2028.3 888.6 L2031.0 885.7 L2033.7 882.9 L2036.4 880.1 L2039.2 877.2 L2041.9 874.4 L2044.6 871.6 L2047.3 868.7 L2050.0 865.9 L2052.7 863.0 L2055.4 860.2 L2058.1 857.3 L2060.8 854.5 L2063.4 851.6 L2066.1 848.8" stroke="#1a6ae0" stroke-width="3"/>
<path d="M257.2 1421.0 L260.8 1421.1 L264.5 1421.1 L268.1 1421.2 L271.8 1421.2 L275.4 1421.3 L279.1 1421.3 L282.8 1421.4 L286.4 1421.4 L290.1 1421.5 L293.7 1421.5 L297.4 1421.5 L301.0 1421.6 L304.7 1421.6 L308.4 1421.7 L312.0 1421.7 L315.7 1421.7 L319.3 1421.8 L323.0 1421.8 L326.6 1421.9 L330.3 1421.9 L334.0 1421.9 L337.6 1421.9 L341.3 1422.0 L345.0 1422.0 L348.6 1422.0 L352.3 1422.1 L355.9 1422.1 L359.6 1422.1 L363.3 1422.1 L366.9 1422.2 L370.6 1422.2 L374.3 1422.2 L377.9 1422.2 L381.6 1422.2 L385.2 1422.3 L388.9 1422.3 L392.6 1422.3 L396.2 1422.3 L399.9 1422.3 L403.6 1422.3 L407.2 1422.3 L410.9 1422.4 L414.6 1422.4 L418.2 1422.4 L421.9 1422.4 L425.6 1422.4 L429.2 1422.4 L432.9 1422.4 L436.6 1422.4 L440.2 1422.4 L443.9 1422.4 L447.6 1422.4 L451.3 1422.4 L454.9 1422.4 L458.6 1422.3 L462.3 1422.3 L465.9 1422.3 L469.6 1422.3 L473.3 1422.3 L476.9 1422.3 L480.6 1422.3 L484.3 1422.2 L487.9 1422.2 L491.6 1422.2 L495.3 1422.2 L499.0 1422.1 L502.6 1422.1 L506.3 1422.1 L510.0 1422.1 L513.6 1422.0 L517.3 1422.0 L521.0 1421.9 L524.6 1421.9 L528.3 1421.9 L532.0 1421.8 L535.7 1421.8 L539.3 1421.7 L543.0 1421.7 L546.7 1421.6 L550.3 1421.6 L554.0 1421.5 L557.7 1421.5 L561.4 1421.4 L565.0 1421.4 L568.7 1421.3 L572.4 1421.2 L576.0 1421.2 L579.7 1421.1 L583.4 1421.0 L587.1 1421.0 L590.7 1420.9 L594.4 1420.8 L598.1 1420.7 L601.7 1420.7 L605.4 1420.6 L609.1 1420.5 L612.8 1420.4 L616.4 1420.3 L620.1 1420.2 L623.8 1420.1 L627.4 1420.0 L631.1 1419.9 L634.8 1419.8 L638.5 1419.7 L642.1 1419.6 L645.8 1419.5 L649.5 1419.4 L653.1 1419.3 L656.8 1419.2 L660.5 1419.1 L664.2 1419.0 L667.8 1418.8 L671.5 1418.7 L675.2 1418.6 L678.8 1418.5 L682.5 1418.3 L686.2 1418.2 L689.8 1418.1 L693.5 1417.9 L697.2 1417.8 L700.9 1417.6 L704.5 1417.5 L708.2 1417.4 L711.9 1417.2 L715.5 1417.0 L719.2 1416.9 L722.9 1416.7 L726.5 1416.6 L730.2 1416.4 L733.9 1416.2 L737.5 1416.1 L741.2 1415.9 L744.9 1415.7 L748.5 1415.6 L752.2 1415.4 L755.9 1415.2 L759.5 1415.0 L763.2 1414.8 L766.9 1414.6 L770.5 1414.4 L774.2 1414.2 L777.9 1414.0 L781.5 1413.8 L785.2 1413.6 L788.9 1413.4 L792.5 1413.2 L796.2 1413.0 L799.9 1412.8 L803.5 1412.6 L807.2 1412.3 L810.9 1412.1 L814.5 1411.9 L818.2 1411.6 L821.8 1411.4 L825.5 1411.2 L829.2 1410.9 L832.8 1410.7 L836.5 1410.4 L840.1 1410.2 L843.8 1409.9 L847.5 1409.7 L851.1 1409.4 L854.8 1409.1 L858.4 1408.9 L862.1 1408.6 L865.8 1408.3 L869.4 1408.1 L873.1 1407.8 L876.7 1407.5 L880.4 1407.2 L884.1 1406.9 L887.7 1406.6 L891.4 1406.3 L895.0 1406.0 L898.7 1405.7 L902.3 1405.4 L906.0 1405.1 L909.6 1404.8 L913.3 1404.5 L916.9 1404.2 L920.6 1403.8 L924.3 1403.5 L927.9 1403.2 L931.6 1402.8 L935.2 1402.5 L938.9 1402.2 L942.5 1401.8 L946.2 1401.5 L949.8 1401.1 L953.5 1400.8 L957.1 1400.4 L960.8 1400.0 L964.4 1399.7 L968.1 1399.3 L971.7 1398.9 L975.3 1398.5 L979.0 1398.2 L982.6 1397.8 L986.3 1397.4 L989.9 1397.0 L993.6 1396.6 L997.2 1396.2 L1000.9 1395.8 L1004.5 1395.4 L1008.1 1395.0 L1011.8 1394.5 L1015.4 1394.1 L1019.1 1393.7 L1022.7 1393.3 L1026.3 1392.8 L1030.0 1392.4 L1033.6 1392.0 L1037.3 1391.5 L1040.9 1391.1 L1044.5 1390.6 L1048.2 1390.2 L1051.8 1389.7 L1055.4 1389.2 L1059.1 1388.8 L1062.7 1388.3 L1066.3 1387.8 L1070.0 1387.3 L1073.6 1386.9 L1077.2 1386.4 L1080.9 1385.9 L1084.5 1385.4 L1088.1 1384.9 L1091.8 1384.4 L1095.4 1383.9 L1099.0 1383.3 L1102.6 1382.8 L1106.3 1382.3 L1109.9 1381.8 L1113.5 1381.2 L1117.1 1380.7 L1120.8 1380.2 L1124.4 1379.6 L1128.0 1379.1 L1131.6 1378.5 L1135.3 1378.0 L1138.9 1377.4 L1142.5 1376.8 L1146.1 1376.3 L1149.7 1375.7 L1153.3 1375.1 L1157.0 1374.5 L1160.6 1373.9 L1164.2 1373.3 L1167.8 1372.7 L1171.4 1372.1 L1175.0 1371.5 L1178.6 1370.9 L1182.3 1370.3 L1185.9 1369.7 L1189.5 1369.0 L1193.1 1368.4 L1196.7 1367.8 L1200.3 1367.1 L1203.9 1366.5 L1207.5 1365.8 L1211.1 1365.2 L1214.7 1364.5 L1218.3 1363.9 L1221.9 1363.2 L1225.5 1362.5 L1229.1 1361.9 L1232.7 1361.2 L1236.4 1360.5 L1240.0 1359.8 L1243.5 1359.1 L1247.1 1358.4 L1250.7 1357.7 L1254.3 1357.0 L1257.9 1356.3 L1261.5 1355.5 L1265.1 1354.8 L1268.7 1354.1 L1272.3 1353.4 L1275.9 1352.6 L1279.5 1351.9 L1283.1 1351.1 L1286.7 1350.4 L1290.3 1349.6 L1293.8 1348.9 L1297.4 1348.1 L1301.0 1347.3 L1304.6 1346.5 L1308.2 1345.8 L1311.8 1345.0 L1315.3 1344.2 L1318.9 1343.4 L1322.5 1342.6 L1326.1 1341.8 L1329.7 1341.0 L1333.2 1340.2 L1336.8 1339.4 L1340.4 1338.6 L1344.0 1337.7 L1347.5 1336.9 L1351.1 1336.1 L1354.7 1335.2 L1358.3 1334.4 L1361.8 1333.6 L1365.4 1332.7 L1369.0 1331.9 L1372.5 1331.0 L1376.1 1330.1 L1379.7 1329.3 L1383.2 1328.4 L1386.8 1327.5 L1390.4 1326.6 L1393.9 1325.7 L1397.5 1324.9 L1401.0 1324.0 L1404.6 1323.1 L1408.1 1322.2 L1411.7 1321.3 L1415.3 1320.4 L1418.8 1319.4 L1422.4 1318.5 L1425.9 1317.6 L1429.5 1316.7 L1433.0 1315.7 L1436.6 1314.8 L1440.1 1313.9 L1443.7 1312.9 L1447.2 1312.0 L1450.8 1311.0 L1454.3 1310.1 L1457.8 1309.1 L1461.4 1308.1 L1464.9 1307.2 L1468.5 1306.2 L1472.0 1305.2 L1475.5 1304.2 L1479.1 1303.2 L1482.6 1302.2 L1486.1 1301.3 L1489.7 1300.3 L1493.2 1299.3 L1496.7 1298.2 L1500.3 1297.2 L1503.8 1296.2 L1507.3 1295.2 L1510.8 1294.2 L1514.4 1293.1 L1517.9 1292.1 L1521.4 1291.1 L1524.9 1290.0 L1528.5 1289.0 L1532.0 1287.9 L1535.5 1286.9 L1539.0 1285.8 L1542.5 1284.8 L1546.0 1283.7 L1549.5 1282.6 L1553.1 1281.6 L1556.6 1280.5 L1560.1 1279.4 L1563.6 1278.3 L1567.1 1277.2 L1570.6 1276.2 L1574.1 1275.1 L1577.6 1274.0 L1581.1 1272.9 L1584.6 1271.8 L1588.1 1270.6 L1591.6 1269.5 L1595.1 1268.4 L1598.6 1267.3 L1602.1 1266.2 L1605.6 1265.0 L1609.1 1263.9 L1612.6 1262.7 L1616.1 1261.6 L1619.5 1260.5 L1623.0 1259.3 L1626.5 1258.2 L1630.0 1257.0 L1633.5 1255.8 L1637.0 1254.7 L1640.5 1253.5 L1643.9 1252.3 L1647.4 1251.1 L1650.9 1250.0 L1654.4 1248.8 L1657.8 1247.6 L1661.3 1246.4 L1664.8 1245.2 L1668.2 1244.0 L1671.7 1242.8 L1675.2 1241.6 L1678.7 1240.4 L1682.1 1239.2 L1685.6 1238.0 L1689.0 1236.7 L1692.5 1235.5 L1696.0 1234.3 L1699.4 1233.1 L1702.9 1231.8 L1706.3 1230.6 L1709.8 1229.3 L1713.2 1228.1 L1716.7 1226.9 L1720.2 1225.6 L1723.6 1224.4 L1727.1 1223.1 L1730.5 1221.8 L1734.0 1220.6 L1737.4 1219.3 L1740.8 1218.0 L1744.3 1216.8 L1747.7 1215.5 L1751.2 1214.2 L1754.6 1212.9 L1758.1 1211.7 L1761.5 1210.4 L1764.9 1209.1 L1768.4 1207.8 L1771.8 1206.5 L1775.2 1205.2 L1778.7 1203.9 L1782.1 1202.6 L1785.5 1201.3 L1789.0 1200.0 L1792.4 1198.7 L1795.8 1197.4 L1799.3 1196.1 L1802.7 1194.8 L1806.1 1193.4 L1809.5 1192.1 L1813.0 1190.8 L1816.4 1189.5 L1819.8 1188.1 L1823.2 1186.8 L1826.6 1185.4 L1830.0 1184.1 L1833.5 1182.7 L1836.9 1181.4 L1840.3 1180.0 L1843.7 1178.7 L1847.1 1177.3 L1850.5 1175.9 L1853.9 1174.5 L1857.3 1173.2 L1860.7 1171.8 L1864.1 1170.4 L1867.5 1169.0 L1870.9 1167.6 L1874.2 1166.2 L1877.6 1164.8 L1881.0 1163.4 L1884.4 1161.9 L1887.8 1160.5 L1891.1 1159.1 L1894.5 1157.6 L1897.9 1156.2 L1901.2 1154.8 L1904.6 1153.3 L1908.0 1151.8 L1911.3 1150.4 L1914.7 1148.9 L1918.0 1147.4 L1921.4 1146.0 L1924.7 1144.5 L1928.1 1143.0 L1931.4 1141.5 L1934.7 1140.0 L1938.1 1138.5 L1941.4 1136.9 L1944.7 1135.4 L1948.1 1133.9 L1951.4 1132.3 L1954.7 1130.8 L1958.0 1129.2 L1961.3 1127.7 L1964.6 1126.1 L1967.9 1124.5 L1971.2 1123.0 L1974.5 1121.4 L1977.8 1119.8 L1981.1 1118.2 L1984.4 1116.6 L1987.7 1115.0 L1990.9 1113.3 L1994.2 1111.7 L1997.5 1110.1 L2000.7 1108.4 L2004.0 1106.8 L2007.2 1105.1 L2010.5 1103.4 L2013.7 1101.7 L2017.0 1100.1 L2020.2 1098.4 L2023.5 1096.7 L2026.7 1094.9 L2029.9 1093.2 L2033.1 1091.5 L2036.3 1089.8" stroke="#1a6ae0" stroke-width="3"/>
<circle cx="257.0" cy="1421.6" r="19.5" fill="#fff" stroke="#1a6ae0" stroke-width="9"/>
<circle cx="850.0" cy="1421.4" r="19.5" fill="#fff" stroke="#1a6ae0" stroke-width="9"/>
<circle cx="1146.2" cy="1367.8" r="19.5" fill="#fff" stroke="#1a6ae0" stroke-width="9"/>
<circle cx="1442.4" cy="1339.2" r="19.5" fill="#fff" stroke="#1a6ae0" stroke-width="9"/>
<circle cx="1599.5" cy="1252.2" r="19.5" fill="#fff" stroke="#1a6ae0" stroke-width="9"/>
<circle cx="1830.7" cy="1067.8" r="19.5" fill="#fff" stroke="#1a6ae0" stroke-width="9"/>
<circle cx="1988.2" cy="1117.6" r="19.5" fill="#fff" stroke="#1a6ae0" stroke-width="9"/>
<circle cx="2035.6" cy="1088.3" r="19.5" fill="#fff" stroke="#1a6ae0" stroke-width="9"/>
<circle cx="2066.0" cy="850.6" r="19.5" fill="#fff" stroke="#1a6ae0" stroke-width="9"/>
</g>
<line x1="1441.4" y1="64" x2="1441.4" y2="1488" stroke="#000" stroke-width="3.6" stroke-dasharray="29.5 27.25" stroke-dashoffset="20.85"/>
<line x1="1768.5" y1="64" x2="1768.5" y2="1488" stroke="#4a4a4a" stroke-width="6" stroke-dasharray="29.5 27.25" stroke-dashoffset="20.85"/>
<rect x="254" y="62" width="6" height="1430" fill="#4a4a4a"/>
<rect x="254" y="61.8" width="1933" height="3.6" fill="#111"/><rect x="257" y="65.4" width="1924" height="2" fill="#a0a0a0"/>
<rect x="254" y="1486.2" width="1933" height="3.4" fill="#0a0a0a"/><rect x="254" y="1489.6" width="1933" height="2.6" fill="#a0a0a0"/>
<rect x="2181" y="62" width="3.8" height="1430" fill="#1a1a1a"/><rect x="2178.5" y="66" width="2.5" height="1420" fill="#999"/>
<text x="103.74" y="88.20" font-size="78.0" textLength="115.17" lengthAdjust="spacingAndGlyphs">100</text>
<text x="140.25" y="359.00" font-size="78.0" textLength="75.00" lengthAdjust="spacingAndGlyphs">80</text>
<text x="139.86" y="630.55" font-size="78.0" textLength="75.41" lengthAdjust="spacingAndGlyphs">60</text>
<text x="140.51" y="902.10" font-size="78.0" textLength="74.73" lengthAdjust="spacingAndGlyphs">40</text>
<text x="137.75" y="1173.65" font-size="78.0" textLength="78.32" lengthAdjust="spacingAndGlyphs">20</text>
<text x="176.95" y="1445.20" font-size="78.0" textLength="37.50" lengthAdjust="spacingAndGlyphs">0</text>
<text x="235.66" y="1588.70" font-size="78.0" textLength="38.68" lengthAdjust="spacingAndGlyphs">0</text>
<text x="494.99" y="1588.70" font-size="78.0" textLength="116.16" lengthAdjust="spacingAndGlyphs">100</text>
<text x="787.67" y="1588.70" font-size="78.0" textLength="120.28" lengthAdjust="spacingAndGlyphs">200</text>
<text x="1085.81" y="1588.70" font-size="78.0" textLength="118.49" lengthAdjust="spacingAndGlyphs">300</text>
<text x="1383.65" y="1588.70" font-size="78.0" textLength="116.19" lengthAdjust="spacingAndGlyphs">400</text>
<text x="1680.21" y="1588.70" font-size="78.0" textLength="116.13" lengthAdjust="spacingAndGlyphs">500</text>
<text x="1976.28" y="1588.70" font-size="78.0" textLength="115.75" lengthAdjust="spacingAndGlyphs">600</text>
<text x="862.39" y="1707.70" font-size="92.0" font-weight="bold" textLength="716.54" lengthAdjust="spacingAndGlyphs">Thermal cycles (N)</text>
<g transform="translate(101,1551.4) rotate(-90)"><text x="273.91" y="0.00" font-size="92.0" font-weight="bold" textLength="1002.75" lengthAdjust="spacingAndGlyphs">Spalling ratio of TBC (%)</text>
</g>
</svg>
</body></html>
